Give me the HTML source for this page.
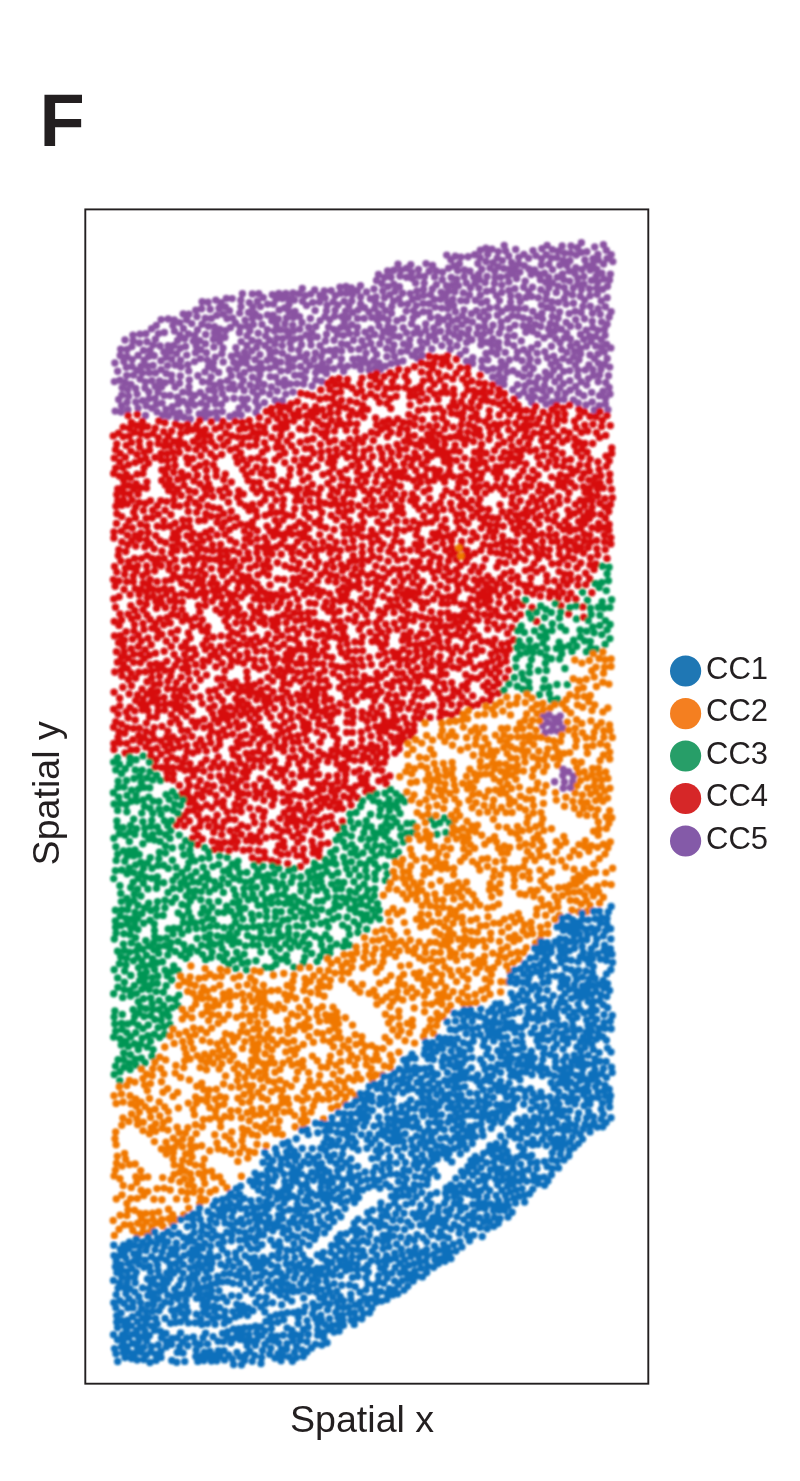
<!DOCTYPE html>
<html><head><meta charset="utf-8"><style>
html,body{margin:0;padding:0;background:#fff;}
svg{display:block;}
text{font-family:"Liberation Sans",Arial,sans-serif;fill:#231f20;}
</style></head><body>
<svg width="800" height="1481" viewBox="0 0 800 1481">
<defs><filter id="bl" x="-5%" y="-5%" width="110%" height="110%"><feGaussianBlur stdDeviation="0.95"/></filter></defs>
<rect width="800" height="1481" fill="#fff"/>
<text x="39.4" y="145.6" font-size="74" font-weight="bold">F</text>
<g fill="none" stroke-linecap="round" stroke-width="7.4" filter="url(#bl)"><path d="M563.1 769.3h0M554.6 781.7h0M562.8 775.5h0M568.6 771.7h0M572.6 781.8h0M542.8 725.7h0M563.2 788.3h0M545.1 732.6h0M570.5 787.6h0M564.4 782.0h0M551.0 730.8h0M547.6 722.4h0M573.4 776.1h0M553.1 725.0h0M557.3 731.1h0M562.5 727.9h0M549.1 715.0h0M543.4 716.6h0M554.4 718.4h0M560.2 715.9h0M559.3 722.7h0M256.0 412.5h0M241.1 415.0h0M282.4 400.6h0M258.2 406.5h0M264.4 402.6h0M293.0 392.0h0M217.1 418.0h0M247.7 408.9h0M285.8 394.1h0M284.4 386.0h0M239.2 408.1h0M518.6 395.3h0M243.9 404.6h0M235.2 414.2h0M531.6 402.2h0M255.7 401.4h0M369.1 369.9h0M385.3 366.1h0M368.4 363.7h0M534.4 396.6h0M275.2 400.2h0M312.1 386.0h0M380.5 369.3h0M277.2 391.0h0M546.1 404.0h0M241.8 399.0h0M244.1 390.5h0M229.8 416.4h0M531.9 390.4h0M247.4 399.0h0M315.7 379.9h0M234.0 398.3h0M541.2 399.5h0M221.5 404.3h0M234.6 389.6h0M269.7 394.3h0M305.0 378.5h0M542.9 391.1h0M552.2 401.9h0M210.0 413.6h0M378.9 362.9h0M375.2 367.6h0M537.4 388.7h0M535.6 382.7h0M343.6 371.2h0M333.8 368.7h0M523.9 392.1h0M340.3 365.6h0M321.7 381.2h0M222.3 411.6h0M326.4 373.5h0M205.2 417.3h0M278.4 382.7h0M528.7 397.3h0M544.5 385.5h0M347.6 366.1h0M294.7 375.2h0M517.5 384.7h0M546.2 396.2h0M373.6 360.5h0M376.7 354.4h0M557.8 400.1h0M270.2 376.6h0M512.8 389.8h0M466.4 361.1h0M386.9 356.6h0M487.5 370.2h0M364.4 359.0h0M296.9 383.6h0M271.4 386.9h0M550.4 390.2h0M303.6 384.0h0M391.2 363.6h0M284.7 379.9h0M257.1 395.7h0M215.5 404.0h0M503.9 384.4h0M225.9 399.1h0M288.0 370.5h0M321.8 370.3h0M315.7 372.7h0M327.2 367.9h0M529.4 382.1h0M360.9 369.5h0M252.8 391.6h0M222.4 393.7h0M280.9 370.9h0M215.3 398.0h0M530.0 374.6h0M199.3 413.9h0M305.9 370.9h0M524.9 385.7h0M523.3 376.6h0M482.0 367.4h0M472.6 363.4h0M354.7 365.5h0M341.4 358.9h0M280.7 362.0h0M487.8 359.9h0M538.2 377.5h0M559.9 388.0h0M209.7 399.6h0M190.2 418.9h0M481.9 360.5h0M300.6 366.5h0M243.3 380.4h0M533.2 368.5h0M554.9 381.8h0M352.9 359.1h0M397.5 362.5h0M214.4 391.4h0M221.3 387.9h0M306.0 360.7h0M290.2 384.0h0M244.4 372.5h0M518.1 374.0h0M215.9 412.2h0M300.3 375.1h0M206.7 405.4h0M563.9 399.2h0M275.8 377.1h0M492.7 376.9h0M208.8 389.9h0M402.9 360.9h0M504.1 378.4h0M194.6 405.0h0M257.2 386.7h0M557.3 393.9h0M252.4 377.3h0M316.9 366.9h0M269.6 368.3h0M188.8 411.1h0M260.0 374.8h0M366.0 353.1h0M145.5 415.4h0M537.8 361.2h0M267.3 360.2h0M214.3 385.1h0M351.1 349.6h0M563.3 383.4h0M262.5 391.8h0M358.6 358.7h0M547.2 357.7h0M329.3 360.9h0M361.4 363.7h0M293.1 366.7h0M294.2 359.2h0M373.7 349.6h0M300.1 356.6h0M264.0 384.4h0M565.4 393.3h0M524.8 368.7h0M146.2 405.7h0M162.8 415.2h0M341.6 351.0h0M529.0 364.6h0M417.3 358.1h0M507.0 372.3h0M493.1 368.7h0M260.5 363.2h0M334.5 355.4h0M157.1 411.9h0M460.1 354.6h0M162.1 403.1h0M528.1 353.5h0M204.7 396.8h0M537.1 353.1h0M379.7 343.9h0M187.7 404.8h0M400.9 351.9h0M551.2 364.2h0M321.2 356.6h0M184.0 417.2h0M499.0 374.7h0M165.9 409.5h0M250.1 385.0h0M200.3 392.5h0M335.8 349.7h0M559.3 366.2h0M393.9 344.9h0M329.7 350.4h0M553.7 356.1h0M341.6 343.8h0M545.5 372.2h0M412.3 355.4h0M168.5 416.0h0M138.1 408.1h0M530.1 358.9h0M562.9 358.6h0M155.2 398.5h0M201.3 403.1h0M275.4 366.3h0M358.9 349.2h0M586.0 405.0h0M220.4 382.3h0M407.2 350.7h0M250.4 368.8h0M172.3 406.7h0M486.0 353.4h0M392.7 350.6h0M343.3 335.5h0M233.0 384.2h0M194.8 395.5h0M496.9 354.3h0M465.6 350.5h0M179.5 412.6h0M282.4 353.3h0M480.9 344.9h0M258.4 380.3h0M127.9 409.8h0M288.2 363.2h0M394.5 356.4h0M313.9 359.5h0M551.5 346.2h0M498.6 348.2h0M594.2 410.0h0M142.6 400.6h0M409.6 345.6h0M498.4 381.9h0M334.1 340.2h0M229.0 388.5h0M559.5 377.2h0M522.1 360.7h0M370.9 343.5h0M151.8 408.1h0M505.3 352.4h0M361.8 340.8h0M259.9 354.6h0M531.4 347.9h0M573.4 399.9h0M164.2 395.4h0M545.5 379.3h0M501.3 361.5h0M399.6 336.8h0M500.2 368.5h0M135.8 402.0h0M262.6 368.6h0M556.1 361.3h0M466.6 342.4h0M421.8 348.3h0M137.1 394.1h0M127.1 402.2h0M256.7 347.2h0M487.0 342.2h0M555.8 338.7h0M570.3 390.0h0M386.7 348.5h0M491.7 351.8h0M472.8 357.8h0M170.2 395.5h0M403.5 343.9h0M450.3 349.2h0M374.7 334.5h0M189.3 393.0h0M406.4 332.8h0M288.0 357.2h0M550.7 375.2h0M189.0 386.9h0M349.5 333.6h0M246.2 363.3h0M183.2 401.1h0M523.6 349.7h0M320.0 345.6h0M553.7 370.2h0M416.3 351.0h0M256.7 368.5h0M365.0 332.1h0M322.3 363.2h0M357.4 327.3h0M282.2 345.6h0M227.3 380.6h0M561.6 349.6h0M265.0 345.5h0M483.9 333.7h0M239.7 375.8h0M255.0 359.8h0M544.8 351.7h0M356.8 333.4h0M381.9 337.2h0M477.0 333.6h0M521.3 340.9h0M357.5 318.4h0M368.8 337.2h0M177.4 397.3h0M509.3 360.0h0M537.7 344.3h0M431.9 348.9h0M175.1 387.0h0M388.7 340.9h0M274.5 360.3h0M197.9 375.8h0M420.4 341.2h0M149.1 398.8h0M240.9 385.7h0M569.9 380.7h0M209.1 382.3h0M492.1 345.1h0M563.7 371.4h0M291.2 348.9h0M270.4 354.8h0M148.9 392.0h0M188.7 370.9h0M569.8 370.6h0M441.8 345.6h0M128.6 396.3h0M599.3 405.6h0M517.5 352.0h0M315.4 352.9h0M371.0 329.3h0M231.4 375.8h0M202.5 381.8h0M513.8 345.6h0M275.6 351.6h0M236.7 368.7h0M241.6 358.2h0M189.3 380.0h0M205.0 410.9h0M364.2 318.4h0M549.9 334.7h0M449.7 342.2h0M583.8 395.8h0M352.7 312.4h0M265.7 335.9h0M575.7 386.5h0M498.6 342.5h0M351.8 324.7h0M161.6 387.1h0M323.5 351.3h0M165.1 382.7h0M309.9 365.5h0M274.9 344.0h0M592.2 402.0h0M457.0 345.7h0M505.5 365.5h0M239.6 363.5h0M514.3 335.7h0M544.1 337.9h0M393.9 328.5h0M121.6 405.7h0M560.1 342.8h0M344.3 322.8h0M353.5 340.3h0M290.2 343.3h0M459.4 338.3h0M205.0 371.9h0M251.8 350.9h0M561.4 329.2h0M121.9 394.9h0M258.8 341.9h0M246.9 345.4h0M426.9 342.8h0M537.7 334.4h0M525.8 332.3h0M145.0 388.0h0M578.6 392.8h0M182.8 392.1h0M269.5 340.3h0M211.2 376.9h0M554.7 331.3h0M345.6 311.1h0M127.8 389.6h0M471.8 339.7h0M540.8 326.4h0M252.1 340.5h0M145.4 382.0h0M229.6 369.7h0M340.7 327.6h0M258.2 333.3h0M347.4 328.2h0M445.2 337.9h0M435.6 340.3h0M348.2 317.5h0M389.0 333.0h0M507.5 343.0h0M223.2 361.9h0M247.8 356.8h0M535.5 324.5h0M156.4 404.3h0M233.8 362.2h0M371.9 317.4h0M253.4 324.6h0M276.8 338.3h0M383.5 331.4h0M269.2 349.3h0M388.0 326.4h0M379.1 326.1h0M429.0 336.5h0M155.1 386.3h0M237.2 354.3h0M358.0 310.1h0M509.4 328.7h0M499.3 333.2h0M282.7 338.4h0M231.5 356.2h0M286.7 330.7h0M569.2 361.1h0M262.0 324.4h0M550.4 323.4h0M575.4 365.0h0M274.4 331.0h0M585.3 369.9h0M492.7 338.8h0M396.8 320.8h0M180.9 367.1h0M218.7 372.4h0M420.4 333.7h0M259.7 316.9h0M347.3 344.8h0M292.7 325.2h0M179.5 383.2h0M411.6 323.9h0M529.8 319.4h0M121.1 412.0h0M523.3 318.0h0M360.6 303.9h0M171.7 381.1h0M566.9 352.6h0M570.5 346.0h0M247.1 335.8h0M516.6 358.0h0M176.8 418.1h0M249.9 330.8h0M244.5 352.1h0M301.5 344.7h0M409.8 339.6h0M187.8 364.6h0M548.5 328.8h0M403.2 327.7h0M255.2 313.6h0M388.2 319.9h0M180.6 360.3h0M135.7 388.4h0M385.3 310.5h0M579.0 359.7h0M122.1 387.6h0M507.5 336.5h0M578.2 403.0h0M267.4 329.6h0M422.2 355.4h0M577.7 376.0h0M413.9 333.2h0M180.3 376.0h0M151.9 380.8h0M241.2 341.6h0M574.6 351.3h0M448.7 331.7h0M607.9 409.8h0M149.3 372.7h0M532.7 331.3h0M448.4 325.6h0M555.9 325.0h0M186.7 355.1h0M484.5 326.7h0M501.4 327.6h0M158.0 392.2h0M588.4 378.6h0M125.2 382.5h0M425.7 324.0h0M341.7 316.7h0M335.1 310.3h0M175.1 365.1h0M558.0 318.3h0M364.3 345.9h0M114.4 381.6h0M513.0 370.8h0M417.3 328.2h0M434.4 334.3h0M240.3 327.2h0M592.9 369.7h0M515.0 325.1h0M284.9 323.8h0M382.0 305.2h0M566.7 333.1h0M566.2 322.5h0M298.8 350.2h0M311.0 345.1h0M271.8 320.8h0M167.6 365.6h0M484.7 320.6h0M351.8 301.0h0M245.1 320.2h0M490.3 331.2h0M377.5 320.3h0M306.2 335.0h0M378.3 313.4h0M493.0 325.2h0M246.7 325.9h0M208.5 366.6h0M393.9 336.0h0M213.6 369.0h0M542.5 319.1h0M280.5 329.9h0M479.7 316.6h0M239.4 332.8h0M276.6 325.2h0M532.8 311.4h0M369.0 312.0h0M552.3 316.5h0M267.5 314.9h0M130.9 384.4h0M306.7 354.1h0M525.4 308.4h0M299.8 329.3h0M171.5 375.3h0M337.9 305.0h0M115.2 411.1h0M166.2 373.4h0M126.7 375.4h0M454.1 334.7h0M286.5 317.9h0M468.7 329.2h0M573.5 357.1h0M425.8 330.2h0M440.5 331.3h0M317.2 336.9h0M559.6 311.9h0M140.1 379.0h0M501.2 321.9h0M288.4 336.3h0M478.4 327.0h0M155.5 372.9h0M161.1 369.6h0M260.4 306.6h0M472.4 322.0h0M278.3 318.9h0M293.4 331.0h0M384.4 297.8h0M221.9 353.7h0M523.2 325.8h0M252.4 318.5h0M248.6 312.5h0M294.3 339.0h0M364.6 307.8h0M273.1 315.2h0M569.1 313.6h0M302.0 322.4h0M118.7 399.5h0M308.7 327.2h0M507.7 319.3h0M325.4 341.0h0M249.3 302.6h0M438.3 323.1h0M213.4 362.7h0M235.9 347.7h0M430.6 317.6h0M213.9 346.9h0M488.2 316.2h0M312.0 332.6h0M566.1 304.1h0M402.9 318.4h0M413.1 317.9h0M605.4 403.9h0M299.6 316.6h0M300.5 338.3h0M293.3 317.5h0M391.5 313.3h0M171.8 359.1h0M310.5 339.3h0M252.8 307.0h0M467.5 335.0h0M360.6 296.9h0M581.2 381.7h0M178.1 404.0h0M326.5 334.2h0M133.5 375.1h0M315.9 326.5h0M142.4 373.0h0M215.3 357.1h0M413.5 310.6h0M374.7 308.5h0M257.4 301.2h0M207.4 360.1h0M501.9 311.5h0M566.4 293.1h0M289.0 311.5h0M239.7 313.1h0M433.7 328.0h0M241.0 306.7h0M147.5 366.3h0M232.7 318.1h0M141.1 366.3h0M267.6 304.1h0M279.1 309.9h0M552.5 309.0h0M295.1 311.5h0M599.5 395.8h0M462.1 324.6h0M310.4 318.5h0M481.2 339.2h0M542.0 313.1h0M229.5 310.7h0M370.4 298.7h0M570.5 326.3h0M206.4 352.7h0M517.9 316.1h0M205.4 343.7h0M591.7 392.4h0M575.7 319.6h0M333.9 329.4h0M153.1 365.4h0M576.9 343.4h0M119.9 380.2h0M391.8 306.4h0M161.0 360.8h0M191.3 400.3h0M284.6 308.0h0M235.5 323.0h0M461.4 332.9h0M383.1 317.6h0M194.6 361.6h0M603.1 391.2h0M288.4 298.8h0M497.4 315.2h0M407.7 304.0h0M176.7 353.6h0M185.6 346.5h0M593.4 375.5h0M315.1 310.4h0M344.2 301.2h0M352.6 294.5h0M282.4 298.5h0M584.5 318.7h0M589.0 364.9h0M452.0 321.1h0M132.1 366.5h0M329.9 319.7h0M223.0 348.0h0M375.5 302.7h0M573.5 303.3h0M159.6 380.9h0M376.0 296.9h0M586.7 385.1h0M580.6 354.0h0M512.2 315.6h0M200.6 349.7h0M423.3 311.8h0M335.3 295.8h0M429.2 312.1h0M455.9 328.0h0M219.8 341.8h0M177.6 340.4h0M213.3 339.2h0M312.7 302.4h0M154.2 355.7h0M348.9 306.1h0M144.1 360.2h0M528.8 326.3h0M610.0 394.0h0M462.3 316.0h0M132.2 359.6h0M273.6 304.1h0M497.0 307.1h0M328.6 327.0h0M173.0 412.4h0M575.2 311.2h0M136.8 370.5h0M366.5 292.0h0M214.2 332.7h0M127.0 356.5h0M416.2 305.6h0M346.3 293.3h0M170.6 351.4h0M590.0 355.0h0M199.8 340.6h0M225.0 337.3h0M406.2 311.1h0M230.5 327.5h0M558.3 302.4h0M219.5 335.9h0M417.5 314.5h0M180.3 348.3h0M227.0 318.5h0M438.0 317.2h0M138.1 355.4h0M263.3 297.6h0M163.9 352.0h0M289.0 304.5h0M126.3 367.3h0M598.2 381.7h0M564.3 298.5h0M131.9 346.6h0M333.2 301.9h0M252.3 293.9h0M412.4 299.2h0M320.1 320.6h0M448.6 316.5h0M541.3 305.1h0M598.4 363.1h0M586.5 346.3h0M205.7 334.5h0M168.1 345.7h0M193.3 341.1h0M393.5 301.0h0M117.7 371.3h0M582.9 306.5h0M525.9 297.4h0M580.3 296.2h0M572.5 294.9h0M153.0 345.1h0M194.8 335.5h0M166.2 357.3h0M457.5 319.5h0M581.2 312.5h0M441.7 308.1h0M489.6 308.0h0M272.3 294.8h0M607.2 358.5h0M196.2 345.9h0M440.6 299.2h0M293.0 293.0h0M160.1 346.0h0M114.9 363.0h0M195.4 352.8h0M294.4 300.0h0M435.1 307.1h0M232.2 298.6h0M139.4 343.0h0M302.4 301.3h0M327.0 305.3h0M214.5 326.7h0M299.1 293.7h0M240.8 300.3h0M120.2 355.5h0M441.1 292.1h0M523.7 287.2h0M546.9 307.4h0M417.8 297.4h0M306.5 305.5h0M578.4 326.3h0M429.1 303.8h0M580.5 334.4h0M443.6 319.7h0M225.6 330.5h0M278.8 293.5h0M123.8 361.4h0M382.8 291.0h0M242.4 293.8h0M583.7 339.2h0M400.9 303.9h0M609.1 387.5h0M430.5 294.7h0M319.5 302.1h0M455.4 311.8h0M551.9 301.7h0M486.7 301.2h0M155.4 339.3h0M120.7 349.1h0M197.5 330.0h0M202.0 324.2h0M538.4 297.7h0M132.9 335.1h0M586.2 330.2h0M389.9 294.8h0M143.5 350.4h0M564.3 287.6h0M200.5 358.6h0M447.7 302.3h0M184.7 338.8h0M183.4 328.4h0M507.3 308.4h0M258.8 293.6h0M499.5 300.6h0M598.0 353.9h0M466.8 320.5h0M148.4 356.6h0M592.2 321.2h0M125.0 340.0h0M285.8 293.4h0M434.4 299.5h0M510.6 302.1h0M423.1 303.5h0M589.6 335.9h0M191.8 323.6h0M599.5 375.0h0M436.3 284.7h0M208.4 326.3h0M219.8 329.2h0M423.6 295.5h0M604.3 351.8h0M174.5 331.1h0M337.5 334.3h0M445.5 296.2h0M537.1 316.4h0M150.0 350.4h0M145.9 333.8h0M595.7 345.9h0M452.8 299.3h0M606.5 344.3h0M609.7 367.1h0M225.4 306.7h0M398.9 298.6h0M219.0 308.2h0M211.3 318.4h0M454.8 291.7h0M460.7 300.6h0M310.8 294.1h0M601.0 369.3h0M608.5 375.7h0M226.3 298.4h0M446.4 285.7h0M464.0 309.9h0M196.9 316.6h0M518.7 308.7h0M531.6 296.4h0M147.0 341.7h0M601.2 347.1h0M223.1 314.1h0M483.9 311.2h0M360.5 285.7h0M605.8 382.8h0M578.0 370.3h0M302.3 288.4h0M595.7 336.4h0M514.9 288.7h0M158.5 333.6h0M471.4 313.7h0M188.5 334.0h0M179.8 322.6h0M570.3 339.0h0M447.8 308.7h0M605.6 398.2h0M180.0 335.1h0M210.2 309.2h0M432.4 288.9h0M164.4 332.5h0M592.8 327.6h0M216.7 315.4h0M448.3 291.3h0M451.2 277.5h0M564.1 338.1h0M346.0 286.5h0M326.4 310.9h0M594.5 358.6h0M423.5 289.3h0M476.4 310.6h0M516.6 278.5h0M481.3 302.9h0M601.2 339.7h0M220.9 302.7h0M205.3 318.2h0M351.4 287.9h0M601.6 321.9h0M395.1 291.2h0M545.9 299.2h0M183.2 314.0h0M480.3 295.3h0M416.9 290.9h0M388.1 286.6h0M314.7 290.0h0M556.3 292.4h0M195.8 310.2h0M609.1 317.0h0M591.1 341.4h0M453.6 305.4h0M610.8 347.9h0M597.9 330.3h0M518.4 296.1h0M188.9 314.3h0M548.9 287.7h0M324.3 291.0h0M384.4 277.4h0M374.0 289.0h0M305.2 295.8h0M510.8 295.9h0M215.8 300.1h0M486.6 291.3h0M140.0 334.1h0M475.4 300.2h0M442.5 272.3h0M276.1 299.0h0M173.9 345.5h0M558.1 286.1h0M528.7 291.6h0M513.3 274.0h0M151.6 328.7h0M325.1 297.9h0M410.2 293.6h0M334.5 316.2h0M452.4 285.0h0M501.7 292.5h0M319.9 295.5h0M466.4 300.8h0M611.1 311.7h0M201.6 308.7h0M573.3 287.9h0M436.3 270.9h0M520.2 301.6h0M456.7 279.2h0M448.6 268.2h0M402.6 293.3h0M172.9 325.5h0M501.8 285.0h0M540.9 289.8h0M508.9 290.4h0M485.2 282.6h0M357.4 290.5h0M584.6 300.0h0M186.7 319.7h0M604.4 329.2h0M463.3 292.9h0M450.9 259.8h0M324.9 316.6h0M508.9 281.9h0M458.5 285.7h0M532.5 287.3h0M424.2 283.1h0M133.1 340.8h0M590.3 306.2h0M545.7 282.2h0M592.4 313.3h0M469.5 294.9h0M399.4 286.8h0M381.9 283.5h0M552.5 282.9h0M540.4 279.7h0M391.0 277.3h0M331.2 290.8h0M393.8 284.3h0M581.5 289.4h0M442.3 279.7h0M557.3 277.3h0M415.6 283.1h0M513.1 308.5h0M500.7 277.2h0M174.3 319.9h0M604.6 364.2h0M424.6 276.4h0M466.3 282.9h0M418.9 275.9h0M503.7 268.5h0M479.0 288.1h0M470.6 287.7h0M563.8 279.7h0M605.1 335.2h0M525.2 281.2h0M340.5 293.3h0M464.1 276.7h0M429.1 271.3h0M607.1 324.3h0M432.6 265.4h0M457.7 270.6h0M600.2 314.3h0M562.5 273.9h0M434.6 276.9h0M168.2 319.0h0M461.0 257.1h0M339.9 287.1h0M494.4 283.5h0M498.0 266.7h0M400.0 276.0h0M544.5 273.2h0M418.5 269.4h0M412.3 278.4h0M376.5 280.5h0M590.0 295.7h0M127.0 349.5h0M589.5 288.8h0M411.6 272.3h0M474.9 283.1h0M208.1 302.2h0M598.1 308.7h0M548.8 277.4h0M597.2 294.2h0M393.7 270.2h0M601.2 300.9h0M577.9 284.2h0M538.4 274.2h0M468.1 256.8h0M387.6 271.0h0M487.0 276.4h0M583.9 283.9h0M577.7 278.3h0M454.1 266.0h0M426.0 263.6h0M479.4 279.7h0M531.2 274.6h0M552.5 269.6h0M559.7 265.2h0M470.0 271.3h0M497.2 258.1h0M400.8 270.3h0M410.8 264.8h0M481.8 269.2h0M569.7 281.1h0M496.4 295.6h0M582.1 269.4h0M494.8 271.3h0M464.5 269.9h0M492.8 290.4h0M569.3 271.1h0M490.0 268.1h0M156.3 325.5h0M583.9 276.4h0M473.7 277.1h0M519.9 272.1h0M546.5 293.5h0M566.9 265.5h0M541.4 265.0h0M495.0 277.5h0M398.0 264.2h0M597.8 282.2h0M509.4 269.3h0M406.6 277.2h0M607.1 297.8h0M548.8 264.3h0M524.3 265.6h0M459.3 263.7h0M605.4 306.7h0M596.2 276.2h0M569.9 260.7h0M511.6 262.4h0M601.8 273.2h0M161.1 319.6h0M584.9 260.0h0M602.7 289.3h0M534.6 269.9h0M575.8 267.7h0M591.4 280.4h0M486.0 261.5h0M518.8 264.0h0M446.7 255.1h0M603.8 279.0h0M576.2 255.1h0M570.6 253.1h0M487.7 254.2h0M592.9 264.5h0M528.6 258.3h0M574.9 273.4h0M502.4 260.6h0M478.7 274.2h0M586.9 251.7h0M594.7 247.0h0M406.3 268.4h0M596.7 287.9h0M610.4 274.1h0M477.9 263.5h0M563.3 260.5h0M474.7 254.8h0M202.1 301.7h0M580.6 348.4h0M597.9 254.4h0M508.7 256.0h0M557.1 257.6h0M590.2 270.0h0M564.5 253.2h0M552.4 249.7h0M607.5 286.3h0M606.3 250.3h0M455.3 256.2h0M551.3 258.0h0M607.0 258.6h0M378.5 274.5h0M493.1 262.8h0M518.7 257.5h0M577.4 247.8h0M586.6 265.4h0M505.7 251.0h0M596.7 269.3h0M515.7 249.4h0M533.0 250.6h0M547.1 245.4h0M562.1 246.0h0M603.6 264.0h0M515.0 268.5h0M480.3 250.3h0M603.4 244.7h0M541.6 258.8h0M498.3 251.6h0M492.0 249.1h0M504.2 245.5h0M546.2 254.8h0M611.2 254.6h0M571.0 246.0h0M612.8 261.6h0M598.4 260.1h0M541.9 248.7h0M581.4 242.8h0M528.9 269.0h0M609.5 280.0h0M480.1 257.6h0M507.6 276.0h0M593.0 258.8h0M558.3 251.3h0M523.9 254.4h0M535.9 255.6h0M581.3 252.4h0M485.9 248.2h0" stroke="#8a52a2"/><path d="M357.2 797.5h0M353.0 793.3h0M351.0 805.1h0M367.0 786.1h0M342.6 808.6h0M339.5 802.9h0M342.4 821.3h0M365.8 791.6h0M360.8 777.5h0M355.6 786.2h0M372.6 789.7h0M336.3 809.0h0M367.5 774.3h0M343.8 796.3h0M381.8 770.6h0M343.9 786.1h0M329.4 806.2h0M349.1 788.8h0M332.6 824.1h0M331.1 816.7h0M345.7 774.5h0M386.1 783.8h0M338.0 789.5h0M375.3 769.6h0M371.3 762.5h0M354.5 772.1h0M349.5 798.5h0M384.5 778.3h0M337.1 828.5h0M327.1 826.2h0M360.0 769.9h0M319.7 820.7h0M365.8 780.3h0M325.3 817.8h0M361.3 783.8h0M335.3 796.3h0M337.6 781.8h0M368.2 757.8h0M320.5 807.7h0M316.3 811.5h0M328.0 843.1h0M354.5 760.3h0M327.1 798.0h0M346.8 768.4h0M345.2 780.4h0M337.1 775.4h0M331.6 785.2h0M320.7 834.9h0M361.8 760.4h0M363.3 755.0h0M372.9 751.6h0M389.8 775.9h0M361.3 746.9h0M341.1 768.7h0M316.7 801.4h0M344.0 763.4h0M312.0 841.1h0M333.2 801.9h0M378.8 780.9h0M384.2 762.4h0M351.5 743.3h0M356.0 752.0h0M315.3 832.3h0M309.9 824.1h0M319.4 827.6h0M323.3 789.2h0M321.1 844.2h0M305.3 815.8h0M328.4 776.2h0M331.5 791.3h0M378.6 763.6h0M304.8 830.1h0M313.0 819.0h0M302.4 838.4h0M336.9 763.9h0M361.8 739.5h0M380.4 752.6h0M324.3 803.1h0M376.4 757.3h0M377.3 747.0h0M309.7 805.3h0M371.0 736.1h0M304.3 821.9h0M386.3 756.3h0M298.1 820.5h0M298.4 833.4h0M313.1 846.8h0M296.6 826.4h0M371.3 744.8h0M325.1 782.5h0M335.7 757.5h0M292.8 836.6h0M318.6 784.8h0M297.8 842.3h0M380.1 738.5h0M321.3 798.2h0M283.6 841.4h0M311.8 794.1h0M366.4 749.3h0M306.9 797.2h0M303.5 848.9h0M375.7 726.4h0M338.2 751.7h0M318.7 774.4h0M319.0 856.3h0M294.1 849.3h0M286.8 824.0h0M385.4 743.7h0M313.2 852.9h0M282.5 831.1h0M312.3 782.6h0M319.1 850.3h0M293.5 815.8h0M349.5 753.0h0M312.1 776.3h0M393.9 742.3h0M316.0 766.9h0M394.9 753.1h0M306.0 860.8h0M300.5 866.4h0M302.4 855.6h0M288.6 831.0h0M296.8 855.6h0M361.2 732.2h0M277.3 827.7h0M298.9 804.6h0M289.1 809.2h0M287.8 818.2h0M284.2 847.2h0M327.7 761.8h0M379.3 732.1h0M301.2 809.9h0M345.6 748.2h0M385.4 749.8h0M399.2 749.0h0M368.1 728.8h0M280.0 818.6h0M318.5 760.1h0M300.2 796.2h0M367.1 721.2h0M272.1 823.3h0M306.4 790.4h0M317.9 791.7h0M318.7 751.4h0M292.5 821.4h0M398.1 737.1h0M284.2 812.7h0M352.4 732.4h0M346.6 732.5h0M374.3 718.5h0M300.4 776.5h0M404.1 739.4h0M290.1 801.9h0M292.1 774.4h0M309.6 811.7h0M331.9 750.5h0M273.2 836.3h0M311.8 746.4h0M381.9 726.0h0M306.6 740.2h0M284.9 781.4h0M285.5 769.5h0M384.5 720.7h0M263.4 824.9h0M281.2 854.6h0M272.2 805.2h0M254.7 822.7h0M343.7 754.3h0M410.9 735.8h0M337.0 744.9h0M385.5 731.7h0M390.9 736.5h0M282.0 774.8h0M337.8 739.1h0M294.9 809.3h0M274.2 799.1h0M276.6 777.3h0M394.0 727.1h0M397.0 720.5h0M263.1 817.3h0M391.8 703.7h0M283.5 801.8h0M288.1 854.1h0M294.1 794.7h0M320.2 742.3h0M264.4 811.8h0M279.1 836.6h0M260.6 831.2h0M287.7 863.6h0M293.5 783.3h0M311.2 770.8h0M323.5 754.7h0M376.8 713.0h0M391.4 721.4h0M288.9 787.8h0M388.2 726.5h0M407.5 730.5h0M304.7 733.2h0M278.8 845.5h0M276.5 851.3h0M265.9 837.8h0M310.6 756.5h0M259.6 842.0h0M258.7 809.3h0M362.0 718.0h0M252.9 816.3h0M362.1 711.9h0M323.1 736.1h0M413.9 725.0h0M402.8 733.6h0M271.8 860.6h0M303.6 760.1h0M330.2 729.3h0M274.6 767.1h0M301.6 769.8h0M282.3 793.1h0M288.4 764.2h0M305.5 754.1h0M269.4 794.6h0M266.9 782.0h0M263.8 800.3h0M353.3 717.1h0M406.8 723.6h0M404.1 717.8h0M298.7 742.0h0M396.1 695.7h0M306.1 775.1h0M250.6 835.5h0M270.8 773.0h0M295.4 757.3h0M288.3 796.3h0M301.5 749.3h0M329.6 756.2h0M277.8 862.1h0M402.4 687.7h0M297.9 735.6h0M346.7 722.3h0M371.9 707.8h0M347.5 714.2h0M352.8 710.9h0M312.2 762.6h0M289.4 757.9h0M270.3 787.5h0M348.8 758.8h0M252.3 841.3h0M352.5 723.0h0M399.5 743.2h0M283.7 751.2h0M258.1 850.8h0M394.0 715.5h0M241.3 834.5h0M430.0 717.4h0M414.5 718.0h0M246.4 840.5h0M241.1 811.8h0M274.9 792.9h0M292.8 749.7h0M292.9 742.1h0M290.7 736.4h0M381.2 707.0h0M316.8 732.1h0M309.1 729.4h0M279.9 769.5h0M369.1 714.1h0M268.0 761.3h0M413.9 731.0h0M269.7 746.2h0M249.8 849.8h0M264.5 754.9h0M356.0 700.8h0M278.1 747.5h0M298.8 763.8h0M265.0 857.9h0M403.6 693.2h0M284.6 745.0h0M284.8 739.3h0M333.5 735.3h0M352.2 694.8h0M422.8 712.8h0M382.7 714.9h0M318.5 724.2h0M258.8 751.5h0M264.3 851.9h0M234.3 836.5h0M261.1 793.3h0M330.7 721.5h0M408.7 708.6h0M346.9 705.7h0M249.8 808.1h0M402.4 703.3h0M409.6 687.9h0M337.9 711.9h0M243.4 850.2h0M363.0 696.4h0M247.8 827.1h0M393.5 709.8h0M399.4 728.8h0M256.9 837.0h0M258.7 860.2h0M400.0 709.1h0M397.0 701.7h0M386.7 699.8h0M282.6 732.1h0M264.7 787.3h0M332.4 714.7h0M253.2 766.4h0M374.5 700.7h0M333.0 707.0h0M252.3 857.8h0M326.5 708.8h0M335.9 728.9h0M237.3 841.6h0M254.7 759.8h0M293.6 726.4h0M376.7 695.4h0M275.5 741.3h0M269.6 751.8h0M269.1 737.8h0M261.5 766.9h0M259.3 744.4h0M312.5 716.5h0M235.8 848.1h0M419.2 705.7h0M381.2 691.8h0M234.8 819.6h0M228.9 819.0h0M227.1 811.9h0M416.2 711.1h0M418.1 681.4h0M263.8 740.0h0M440.0 717.6h0M222.2 827.6h0M241.5 825.1h0M446.1 713.6h0M410.3 682.2h0M426.9 706.4h0M412.1 702.2h0M371.2 689.5h0M288.7 729.5h0M414.9 695.8h0M228.9 850.5h0M392.0 687.5h0M221.7 834.8h0M393.5 681.2h0M422.1 696.5h0M255.9 791.1h0M440.7 711.2h0M231.2 842.5h0M260.3 778.9h0M417.3 689.4h0M264.2 732.8h0M303.3 726.8h0M260.5 760.2h0M298.5 716.4h0M246.2 753.4h0M305.4 712.0h0M252.9 752.6h0M291.1 719.1h0M235.1 804.2h0M246.5 785.9h0M284.6 722.4h0M245.4 765.8h0M346.5 698.1h0M230.1 830.8h0M369.7 695.3h0M280.7 716.0h0M399.6 680.7h0M402.6 673.1h0M260.5 727.4h0M422.9 688.8h0M388.8 694.6h0M340.1 703.7h0M253.1 738.2h0M377.4 686.2h0M365.6 691.1h0M420.4 718.3h0M259.1 718.1h0M255.6 797.7h0M302.9 721.0h0M442.3 705.0h0M249.8 743.6h0M291.0 713.1h0M237.1 829.4h0M324.2 725.5h0M258.5 733.2h0M249.0 758.9h0M360.9 686.9h0M308.4 723.8h0M415.1 676.3h0M267.3 712.6h0M381.0 677.0h0M370.0 679.5h0M213.7 832.3h0M411.4 671.4h0M396.8 673.2h0M433.1 705.3h0M223.2 806.7h0M212.4 841.3h0M221.0 848.7h0M426.9 692.9h0M413.5 660.6h0M277.8 735.0h0M274.7 760.7h0M339.5 687.8h0M451.7 715.0h0M318.8 718.6h0M254.5 785.3h0M326.7 715.8h0M274.5 725.0h0M274.6 708.4h0M248.4 771.2h0M236.9 784.2h0M385.7 673.4h0M244.2 801.5h0M399.0 665.3h0M310.1 705.4h0M285.2 710.0h0M248.6 794.1h0M238.4 757.4h0M433.0 677.4h0M321.5 711.6h0M237.7 747.6h0M202.4 839.0h0M239.8 763.0h0M246.0 734.8h0M349.4 687.9h0M355.6 689.0h0M246.5 777.6h0M242.9 772.5h0M218.1 843.0h0M240.9 780.2h0M224.0 821.7h0M223.3 800.9h0M270.8 717.5h0M324.2 701.5h0M457.7 711.5h0M197.7 844.6h0M386.8 684.5h0M343.7 682.5h0M242.6 793.4h0M330.8 699.5h0M391.2 668.5h0M233.4 778.0h0M214.2 849.4h0M224.5 842.4h0M217.1 815.2h0M306.6 700.6h0M349.8 680.5h0M300.3 708.8h0M311.5 695.7h0M192.6 838.1h0M417.3 656.5h0M451.5 704.7h0M316.5 706.0h0M420.8 675.7h0M235.5 770.0h0M243.5 744.1h0M270.1 702.6h0M276.6 698.7h0M348.1 672.5h0M387.2 660.1h0M228.0 769.0h0M406.0 678.5h0M237.7 790.7h0M364.3 676.3h0M441.0 698.4h0M214.2 821.1h0M223.3 763.4h0M417.3 667.6h0M240.5 736.8h0M376.9 672.9h0M208.6 826.2h0M253.8 730.2h0M231.9 787.5h0M409.1 652.6h0M238.1 797.4h0M227.9 775.6h0M394.5 657.5h0M228.1 793.7h0M299.7 700.5h0M234.3 810.6h0M447.6 699.3h0M297.3 694.4h0M240.5 805.7h0M315.0 711.3h0M232.0 764.8h0M459.9 704.5h0M218.2 756.9h0M254.4 723.3h0M328.9 686.1h0M323.9 689.3h0M382.4 664.4h0M378.8 655.6h0M345.3 692.1h0M385.2 652.9h0M325.7 680.3h0M201.0 820.7h0M407.6 665.2h0M452.7 696.2h0M228.3 781.5h0M356.2 680.5h0M243.6 725.3h0M222.4 780.8h0M434.4 688.3h0M213.7 785.9h0M445.1 688.9h0M424.4 662.6h0M355.6 672.9h0M467.0 702.2h0M218.8 767.2h0M231.9 748.9h0M427.5 675.4h0M355.4 665.6h0M426.0 669.5h0M279.9 727.1h0M216.0 795.5h0M207.2 818.7h0M406.5 659.1h0M219.3 776.0h0M264.2 700.7h0M222.7 788.9h0M400.4 659.8h0M211.9 807.8h0M324.6 695.5h0M371.3 664.6h0M304.2 689.1h0M238.2 727.8h0M309.2 685.2h0M209.7 792.2h0M184.3 825.7h0M292.2 703.2h0M403.1 649.2h0M392.7 651.8h0M353.2 659.4h0M432.2 660.3h0M259.2 709.3h0M268.8 697.2h0M237.2 741.8h0M210.5 776.4h0M369.3 657.4h0M304.1 694.8h0M453.5 689.8h0M458.8 692.3h0M363.5 681.9h0M207.2 784.8h0M216.8 802.7h0M233.4 754.7h0M440.0 656.5h0M438.6 692.8h0M232.7 734.0h0M197.1 786.6h0M376.2 680.0h0M472.7 695.9h0M355.7 651.0h0M213.9 762.4h0M294.2 679.0h0M467.0 689.6h0M197.3 794.4h0M211.2 768.0h0M256.6 699.6h0M315.5 700.2h0M451.7 682.7h0M281.8 689.4h0M236.4 722.3h0M273.1 691.8h0M215.6 749.1h0M199.7 826.4h0M415.9 644.9h0M227.5 720.1h0M229.7 725.7h0M225.9 735.4h0M210.8 742.7h0M232.8 715.2h0M333.2 673.2h0M283.4 703.3h0M289.7 683.9h0M203.7 771.2h0M300.6 681.6h0M409.1 644.2h0M398.6 653.1h0M339.4 677.0h0M223.3 729.6h0M477.8 704.5h0M197.8 835.3h0M240.7 715.2h0M372.2 641.5h0M206.2 759.7h0M287.0 692.4h0M249.9 719.0h0M220.8 712.2h0M282.1 697.7h0M198.0 815.1h0M312.7 689.9h0M342.7 667.6h0M298.0 672.8h0M402.3 640.5h0M201.5 763.9h0M443.6 683.4h0M305.1 671.8h0M430.7 652.7h0M362.6 650.8h0M290.2 697.4h0M316.8 693.9h0M362.7 665.9h0M196.9 769.2h0M200.5 808.2h0M428.0 642.3h0M450.2 660.0h0M202.6 797.4h0M283.4 677.9h0M433.8 647.6h0M462.0 696.9h0M408.7 638.5h0M445.7 665.3h0M256.6 693.2h0M236.0 709.8h0M206.4 751.1h0M200.1 780.4h0M243.5 708.2h0M439.0 662.7h0M439.2 641.7h0M445.9 674.1h0M246.8 713.1h0M360.7 659.1h0M265.5 706.6h0M324.5 670.8h0M193.6 775.7h0M452.8 667.1h0M254.5 684.6h0M247.8 704.3h0M416.6 650.8h0M361.3 642.5h0M176.7 825.1h0M424.8 655.7h0M189.3 821.0h0M184.3 815.7h0M203.3 790.4h0M440.3 675.1h0M249.5 695.7h0M309.7 663.1h0M397.2 629.4h0M436.7 681.8h0M458.5 668.2h0M200.6 739.8h0M226.4 714.3h0M311.1 656.4h0M319.3 680.6h0M219.5 739.2h0M459.5 660.5h0M251.1 690.3h0M482.7 699.9h0M312.0 678.0h0M404.0 635.0h0M331.7 664.9h0M462.4 685.9h0M410.5 632.0h0M261.1 689.6h0M185.0 770.3h0M187.9 811.0h0M218.2 722.9h0M433.6 639.2h0M404.1 626.2h0M214.2 705.9h0M489.9 700.4h0M203.8 745.4h0M242.3 700.8h0M278.2 675.4h0M210.3 725.8h0M251.4 709.2h0M221.5 718.3h0M464.3 663.8h0M401.2 619.3h0M354.9 641.9h0M189.9 763.8h0M435.8 630.7h0M302.3 663.7h0M238.9 692.5h0M426.6 634.3h0M421.7 644.2h0M348.7 666.0h0M386.4 637.4h0M210.5 698.8h0M465.8 674.7h0M469.9 661.9h0M222.5 700.4h0M381.7 647.8h0M378.7 642.5h0M385.7 643.9h0M487.6 690.8h0M440.6 669.3h0M471.7 706.1h0M381.5 632.5h0M180.2 819.6h0M218.3 696.4h0M370.0 632.2h0M441.2 647.8h0M198.1 750.8h0M267.5 687.6h0M230.2 707.0h0M212.5 713.6h0M394.3 623.2h0M291.8 670.7h0M301.2 658.1h0M346.5 657.3h0M413.5 620.7h0M296.5 663.8h0M192.0 736.4h0M209.4 736.8h0M431.1 666.0h0M280.1 669.1h0M209.2 708.5h0M341.5 652.8h0M388.9 630.6h0M498.3 693.2h0M452.5 653.3h0M273.7 663.5h0M423.0 625.7h0M461.3 651.6h0M416.8 637.1h0M448.4 648.5h0M187.8 730.7h0M323.0 663.8h0M221.4 685.9h0M235.8 698.8h0M385.7 624.2h0M467.5 682.6h0M216.3 826.8h0M415.2 615.2h0M406.7 620.2h0M469.5 655.9h0M475.7 654.0h0M394.0 612.6h0M224.2 707.6h0M332.1 657.4h0M285.1 672.2h0M214.2 718.9h0M255.2 713.5h0M194.3 829.2h0M284.4 660.4h0M204.1 719.4h0M420.9 633.2h0M318.0 688.0h0M311.3 669.8h0M215.3 690.0h0M438.2 636.0h0M292.3 654.4h0M432.6 626.0h0M377.7 628.3h0M317.5 655.6h0M273.3 671.0h0M187.8 779.9h0M202.2 703.6h0M192.9 753.0h0M219.6 744.8h0M186.7 745.5h0M247.3 678.0h0M218.1 733.2h0M319.1 674.3h0M475.8 647.6h0M260.5 681.6h0M326.1 656.2h0M487.8 682.5h0M433.8 619.0h0M447.9 641.5h0M185.0 757.5h0M182.9 762.9h0M203.9 727.6h0M290.4 660.2h0M191.0 769.9h0M177.8 740.7h0M474.3 668.0h0M316.6 663.4h0M466.0 647.5h0M195.8 804.9h0M227.7 691.5h0M189.6 785.4h0M422.5 608.3h0M277.2 658.1h0M173.0 767.6h0M265.1 667.1h0M305.6 677.6h0M187.2 790.7h0M179.4 785.4h0M439.6 626.4h0M268.1 677.4h0M189.3 802.7h0M487.0 663.1h0M407.9 613.9h0M179.7 767.8h0M233.3 688.4h0M424.4 649.3h0M206.5 804.9h0M362.6 636.6h0M192.3 697.5h0M195.5 727.1h0M173.3 773.9h0M200.0 696.8h0M286.3 654.3h0M259.4 669.1h0M193.7 798.7h0M262.5 695.2h0M209.0 691.2h0M184.1 737.7h0M313.5 650.2h0M348.8 651.3h0M193.6 810.2h0M376.2 636.5h0M440.0 620.6h0M247.6 684.5h0M188.2 706.8h0M196.1 744.6h0M402.8 610.1h0M322.8 650.8h0M177.2 759.5h0M186.3 715.9h0M307.8 650.0h0M241.0 686.8h0M359.3 629.4h0M483.5 686.1h0M315.3 644.8h0M481.3 641.3h0M167.0 778.6h0M296.0 649.9h0M456.3 647.3h0M493.6 686.7h0M445.8 632.3h0M472.7 637.8h0M173.2 748.8h0M173.2 780.1h0M421.3 616.9h0M181.5 712.0h0M235.9 682.0h0M495.6 678.2h0M339.7 647.0h0M440.5 613.2h0M238.2 704.6h0M271.1 652.7h0M340.3 639.8h0M254.5 666.2h0M176.7 701.8h0M324.0 641.9h0M449.3 618.4h0M491.6 694.9h0M471.7 677.8h0M302.2 649.6h0M194.8 687.0h0M498.6 683.5h0M200.2 679.7h0M198.1 721.9h0M347.1 643.9h0M447.8 612.7h0M367.8 622.3h0M217.7 678.9h0M491.1 654.3h0M451.4 626.1h0M166.7 760.4h0M187.2 691.7h0M283.5 683.5h0M287.8 666.6h0M182.2 793.8h0M337.1 666.7h0M223.8 678.5h0M180.9 690.2h0M362.0 624.4h0M229.3 683.8h0M335.4 636.9h0M477.4 678.5h0M272.7 681.1h0M327.1 646.9h0M344.4 627.1h0M188.5 796.5h0M480.7 664.9h0M329.8 630.9h0M505.4 677.9h0M170.2 743.4h0M192.3 721.3h0M167.1 772.4h0M184.6 699.6h0M206.5 675.1h0M454.5 615.9h0M456.3 634.2h0M289.9 649.2h0M245.3 691.1h0M215.9 666.8h0M398.6 606.0h0M495.0 668.3h0M328.6 636.7h0M246.8 671.7h0M230.6 666.0h0M462.3 621.4h0M196.5 673.0h0M386.7 607.5h0M431.2 611.6h0M243.7 663.3h0M482.4 674.8h0M322.6 634.5h0M295.3 639.5h0M254.6 659.7h0M490.5 673.8h0M283.8 644.3h0M256.4 651.3h0M278.2 647.8h0M376.1 622.9h0M237.6 661.6h0M487.8 641.8h0M346.0 637.8h0M499.4 672.1h0M384.2 613.3h0M415.2 598.8h0M348.0 619.1h0M366.1 614.7h0M309.8 643.0h0M203.2 666.6h0M247.2 652.8h0M174.0 696.2h0M486.7 669.6h0M321.9 623.4h0M208.9 661.0h0M175.6 708.5h0M239.4 655.5h0M248.0 658.4h0M441.8 603.4h0M262.4 660.4h0M170.8 703.8h0M343.1 632.9h0M492.3 661.1h0M229.4 655.0h0M455.8 622.5h0M211.5 731.3h0M464.5 631.5h0M189.4 680.0h0M289.2 638.4h0M478.2 636.0h0M355.9 615.7h0M275.8 638.4h0M427.0 602.4h0M161.5 767.5h0M271.3 658.4h0M459.1 628.2h0M181.5 730.2h0M482.1 650.6h0M179.7 746.7h0M500.3 664.2h0M467.1 641.4h0M492.7 645.0h0M354.7 621.5h0M188.2 672.2h0M164.7 710.1h0M378.8 610.8h0M317.0 635.8h0M349.7 609.0h0M317.9 627.6h0M447.6 603.7h0M308.2 633.5h0M420.6 601.7h0M185.3 686.3h0M298.0 633.4h0M426.9 592.6h0M508.4 670.1h0M263.8 650.7h0M156.1 759.5h0M224.8 670.7h0M337.8 628.1h0M299.1 644.2h0M222.3 663.1h0M408.3 605.0h0M231.8 660.2h0M506.0 661.2h0M195.7 664.5h0M427.1 618.8h0M259.8 642.2h0M461.8 636.7h0M239.6 644.4h0M234.3 649.6h0M413.3 592.0h0M181.2 677.2h0M496.4 650.8h0M468.9 626.3h0M340.1 621.5h0M246.7 644.7h0M445.8 626.3h0M461.3 604.4h0M203.0 660.4h0M501.6 644.3h0M176.4 718.9h0M380.0 618.5h0M333.9 620.5h0M174.3 689.2h0M433.6 599.2h0M437.2 593.2h0M370.7 608.1h0M392.5 606.0h0M293.9 628.6h0M271.5 644.8h0M450.6 635.6h0M171.9 757.1h0M287.7 630.1h0M254.0 645.9h0M404.9 600.3h0M155.3 766.8h0M473.4 630.1h0M171.3 714.8h0M310.0 625.0h0M180.1 696.0h0M170.5 722.8h0M442.3 597.7h0M448.8 596.8h0M176.4 682.7h0M471.5 620.9h0M170.6 676.2h0M164.1 697.5h0M223.5 652.2h0M308.3 619.2h0M372.0 601.6h0M243.7 637.8h0M327.3 625.2h0M339.4 611.3h0M228.1 644.8h0M215.1 651.4h0M167.5 688.8h0M217.8 657.5h0M478.1 620.1h0M167.7 751.1h0M173.0 737.0h0M171.5 670.4h0M181.3 706.2h0M464.5 612.3h0M440.0 585.4h0M302.9 628.2h0M164.7 745.7h0M250.8 639.9h0M166.7 737.2h0M498.5 657.8h0M237.5 633.9h0M366.3 602.8h0M506.1 655.0h0M509.4 649.3h0M295.8 620.8h0M447.1 588.4h0M156.8 748.3h0M508.3 643.0h0M430.7 588.2h0M232.1 632.1h0M470.7 609.7h0M256.4 637.1h0M191.0 658.6h0M328.3 611.2h0M265.5 640.0h0M362.0 610.0h0M408.9 596.0h0M167.9 731.1h0M161.0 741.0h0M366.4 593.9h0M487.6 629.1h0M357.7 605.7h0M334.2 613.6h0M164.8 704.2h0M389.7 599.9h0M161.1 754.2h0M205.5 649.6h0M281.9 635.6h0M375.0 594.9h0M167.9 681.3h0M419.3 586.3h0M154.4 738.9h0M387.5 589.0h0M419.0 592.8h0M383.2 596.5h0M487.6 621.4h0M150.8 755.7h0M151.1 749.7h0M324.2 607.3h0M192.1 710.8h0M213.2 637.2h0M179.3 724.0h0M396.8 599.0h0M376.5 588.9h0M368.1 583.2h0M268.0 634.4h0M416.6 576.6h0M454.5 601.8h0M315.5 622.0h0M494.9 639.2h0M361.3 598.9h0M454.6 595.8h0M351.3 602.7h0M145.8 746.9h0M235.9 623.0h0M340.2 601.3h0M221.1 635.9h0M182.5 668.5h0M434.9 578.6h0M276.9 630.5h0M332.5 606.5h0M286.1 622.7h0M460.3 616.1h0M498.1 629.1h0M315.2 603.6h0M188.1 666.6h0M185.4 661.5h0M140.1 742.0h0M470.8 598.9h0M233.3 641.8h0M136.7 749.7h0M408.7 576.7h0M484.4 614.5h0M513.4 639.7h0M396.2 591.6h0M156.2 717.0h0M313.9 612.8h0M294.3 613.0h0M162.0 726.4h0M494.6 624.0h0M207.3 632.6h0M367.6 575.6h0M490.9 615.3h0M407.7 590.1h0M228.2 626.8h0M308.1 612.4h0M289.7 603.9h0M158.0 705.2h0M467.1 588.3h0M252.7 628.4h0M507.6 633.4h0M403.0 580.3h0M423.5 568.6h0M161.9 664.9h0M333.5 600.3h0M220.4 646.8h0M283.6 615.0h0M242.9 629.4h0M359.0 582.1h0M341.1 595.7h0M203.0 644.6h0M148.7 741.4h0M477.1 613.4h0M249.6 622.9h0M412.8 582.9h0M225.1 620.8h0M361.8 572.2h0M346.6 594.0h0M298.6 606.9h0M444.0 576.1h0M338.7 590.6h0M345.6 599.7h0M193.9 649.0h0M326.1 601.9h0M473.0 590.3h0M429.0 567.4h0M159.8 683.8h0M159.5 676.2h0M394.4 581.7h0M381.4 584.8h0M157.7 698.9h0M432.7 572.1h0M132.9 739.8h0M478.9 594.3h0M348.9 588.6h0M478.8 605.9h0M359.6 588.8h0M498.4 616.0h0M413.8 571.1h0M399.9 575.4h0M417.2 566.6h0M503.6 625.9h0M352.0 574.8h0M184.6 654.4h0M438.8 570.5h0M300.9 613.6h0M151.2 690.1h0M406.5 567.9h0M449.8 572.5h0M422.7 581.4h0M151.7 677.7h0M149.6 716.9h0M399.6 569.7h0M430.3 561.9h0M151.9 671.0h0M343.2 587.2h0M458.1 591.0h0M483.4 590.9h0M178.1 660.3h0M151.7 701.5h0M329.7 593.9h0M474.3 579.7h0M448.8 580.6h0M154.3 727.6h0M126.8 743.4h0M195.8 654.5h0M319.0 596.1h0M259.6 621.8h0M185.8 642.5h0M297.7 599.3h0M311.6 592.9h0M243.3 622.0h0M335.9 582.2h0M304.4 594.5h0M502.7 650.6h0M457.8 585.1h0M323.0 591.8h0M157.7 691.5h0M362.0 565.1h0M289.5 616.9h0M503.8 617.8h0M277.8 623.0h0M228.0 616.0h0M228.8 636.8h0M264.8 624.3h0M393.6 569.3h0M166.8 661.3h0M147.9 710.8h0M272.8 626.3h0M309.3 603.0h0M174.1 654.5h0M302.0 586.3h0M372.9 573.4h0M154.0 684.6h0M277.6 617.3h0M413.0 561.7h0M188.2 649.1h0M328.3 580.8h0M400.9 586.7h0M375.2 582.0h0M131.0 749.9h0M467.4 604.9h0M439.5 564.3h0M188.4 632.9h0M489.8 588.0h0M271.7 620.0h0M143.1 699.1h0M384.4 578.0h0M146.1 731.5h0M157.9 711.3h0M146.4 723.1h0M294.0 593.0h0M506.6 608.0h0M276.9 607.4h0M489.2 607.9h0M495.8 610.5h0M305.7 579.5h0M175.7 639.3h0M142.4 709.8h0M187.2 751.5h0M287.4 595.7h0M439.8 558.0h0M124.8 733.2h0M181.6 647.0h0M448.6 560.9h0M238.1 615.7h0M354.1 586.0h0M467.1 617.4h0M210.9 655.8h0M280.5 603.0h0M264.3 617.8h0M244.4 615.0h0M139.4 728.3h0M146.4 704.9h0M509.6 615.5h0M287.8 609.3h0M419.3 561.4h0M343.6 579.0h0M268.4 606.8h0M167.1 766.7h0M422.9 554.4h0M260.6 607.5h0M347.0 567.4h0M134.8 710.9h0M233.6 611.8h0M388.1 561.3h0M471.1 571.1h0M297.1 583.1h0M206.4 639.8h0M252.8 618.3h0M171.4 646.4h0M145.5 671.8h0M199.5 625.4h0M463.4 582.8h0M135.7 700.6h0M330.7 574.9h0M210.9 646.3h0M259.7 613.8h0M140.5 704.1h0M175.3 665.5h0M146.9 694.0h0M135.2 720.0h0M152.3 733.5h0M165.0 670.5h0M348.6 581.7h0M177.6 630.3h0M326.3 565.0h0M147.1 681.7h0M137.6 694.9h0M250.6 606.3h0M142.1 689.1h0M481.4 579.7h0M166.3 641.3h0M421.8 545.6h0M368.5 560.6h0M156.3 663.8h0M415.3 544.2h0M164.2 651.2h0M378.0 577.0h0M192.6 626.5h0M454.8 580.1h0M266.2 599.8h0M404.4 558.6h0M357.8 576.4h0M402.5 549.9h0M150.0 664.7h0M157.2 637.7h0M474.1 566.2h0M189.6 620.1h0M402.7 593.9h0M421.2 539.5h0M228.1 604.9h0M478.9 572.2h0M511.9 627.5h0M536.6 621.4h0M418.0 550.4h0M478.0 585.0h0M304.2 571.8h0M320.6 574.7h0M508.8 597.6h0M133.5 728.4h0M301.6 619.7h0M514.6 608.1h0M299.3 577.6h0M291.9 585.2h0M515.5 619.1h0M128.2 717.7h0M182.5 621.1h0M469.3 556.5h0M129.2 693.9h0M221.5 597.1h0M416.2 535.1h0M428.6 552.8h0M122.8 687.3h0M342.4 570.7h0M375.9 565.9h0M114.0 749.5h0M238.8 608.5h0M158.0 669.3h0M254.3 611.8h0M260.3 600.0h0M430.1 541.2h0M311.9 585.7h0M282.2 590.3h0M284.1 579.4h0M341.2 564.6h0M138.8 735.5h0M458.0 575.1h0M495.1 590.4h0M126.2 712.0h0M307.1 589.5h0M372.8 556.2h0M485.8 584.0h0M119.9 743.0h0M155.5 653.2h0M482.6 567.0h0M152.7 696.0h0M127.1 727.6h0M151.2 644.8h0M293.2 578.5h0M118.2 714.1h0M276.1 594.7h0M138.8 672.3h0M228.5 593.8h0M485.3 559.1h0M131.5 685.7h0M171.2 632.9h0M456.2 569.8h0M336.4 576.2h0M520.4 614.6h0M499.0 603.1h0M135.6 678.1h0M446.2 568.0h0M130.0 707.4h0M149.3 655.2h0M121.6 724.2h0M484.7 603.5h0M140.4 662.7h0M480.9 550.2h0M349.7 562.0h0M389.1 573.0h0M333.5 567.4h0M465.8 577.5h0M460.4 565.8h0M397.7 560.1h0M310.3 574.8h0M474.7 553.4h0M445.7 550.2h0M490.1 600.4h0M170.2 622.9h0M355.1 568.5h0M128.4 679.5h0M148.0 638.2h0M401.2 542.3h0M383.3 568.6h0M113.9 743.5h0M119.1 731.7h0M235.6 603.0h0M119.8 705.9h0M362.3 552.7h0M125.2 753.0h0M388.9 551.8h0M315.7 567.6h0M145.2 649.7h0M489.1 594.5h0M140.6 654.2h0M133.5 662.2h0M404.1 530.6h0M144.3 737.8h0M190.3 638.1h0M177.9 615.5h0M224.3 588.2h0M277.5 578.9h0M496.8 584.2h0M492.0 580.4h0M226.2 610.4h0M456.3 559.6h0M435.9 547.5h0M216.1 609.8h0M504.2 584.4h0M417.2 529.4h0M231.3 599.1h0M317.5 581.1h0M433.3 556.3h0M131.2 673.1h0M317.7 589.6h0M195.2 617.9h0M483.7 597.2h0M466.3 562.0h0M379.7 558.3h0M185.5 615.7h0M355.6 560.9h0M455.4 552.3h0M254.1 598.8h0M442.8 543.5h0M222.3 604.1h0M463.6 556.1h0M496.9 567.0h0M504.6 591.0h0M338.4 557.4h0M182.0 609.6h0M517.4 593.0h0M272.5 600.2h0M532.0 607.5h0M394.3 554.9h0M509.3 587.6h0M442.8 537.1h0M325.3 571.5h0M467.1 550.5h0M309.4 564.4h0M461.3 548.0h0M391.3 546.7h0M304.9 555.5h0M119.7 698.2h0M127.5 668.4h0M353.8 547.6h0M522.2 604.9h0M329.9 553.0h0M128.1 658.3h0M353.2 555.6h0M470.7 540.6h0M202.4 619.7h0M167.0 617.7h0M380.0 549.6h0M305.8 545.9h0M511.2 579.3h0M199.8 611.9h0M499.2 595.6h0M207.9 626.8h0M114.1 692.2h0M131.1 648.8h0M504.5 573.7h0M241.4 597.1h0M410.0 550.2h0M217.0 584.1h0M159.8 618.9h0M451.6 540.7h0M264.7 592.7h0M511.3 571.6h0M163.7 624.8h0M122.0 675.9h0M395.8 534.8h0M477.1 600.3h0M332.0 560.8h0M425.9 522.8h0M151.9 628.1h0M362.2 559.1h0M227.4 582.8h0M315.5 556.3h0M237.8 588.6h0M394.4 541.1h0M297.0 569.3h0M291.0 568.2h0M353.0 540.5h0M461.7 541.4h0M464.6 531.9h0M514.5 561.7h0M435.7 538.4h0M451.7 547.8h0M510.4 603.4h0M476.8 537.3h0M213.1 590.5h0M138.3 635.2h0M487.9 576.3h0M202.1 630.5h0M410.0 528.2h0M309.5 550.2h0M505.7 563.0h0M344.4 542.0h0M174.2 608.0h0M143.0 623.5h0M499.2 561.9h0M483.5 544.5h0M516.8 601.3h0M222.7 575.3h0M383.2 544.1h0M441.3 526.1h0M245.1 592.9h0M157.4 630.4h0M251.8 590.9h0M432.8 533.4h0M490.5 551.7h0M257.5 594.3h0M297.6 541.8h0M270.0 584.9h0M448.5 536.0h0M500.5 578.3h0M270.3 594.2h0M340.3 550.5h0M210.6 583.7h0M388.1 533.8h0M293.7 547.1h0M269.5 567.5h0M419.6 524.1h0M113.6 727.2h0M113.7 709.3h0M454.3 534.0h0M348.3 548.7h0M212.2 601.3h0M287.4 547.4h0M336.1 542.1h0M238.9 582.4h0M195.2 596.0h0M526.7 591.5h0M518.6 583.1h0M413.5 521.3h0M134.5 624.6h0M397.0 529.3h0M204.9 598.8h0M532.9 594.1h0M517.4 576.8h0M299.2 563.2h0M293.0 559.5h0M213.3 577.9h0M206.0 592.8h0M536.3 589.0h0M268.3 575.3h0M540.4 596.0h0M205.4 605.5h0M388.8 522.9h0M524.3 585.4h0M322.0 549.1h0M202.3 580.4h0M481.3 528.1h0M530.2 584.8h0M328.7 546.8h0M292.1 534.3h0M121.5 670.0h0M257.9 574.9h0M215.4 596.7h0M459.3 528.4h0M285.0 565.7h0M150.2 619.5h0M316.5 550.3h0M382.2 530.8h0M396.8 520.9h0M144.0 629.4h0M289.5 528.5h0M203.2 586.2h0M133.7 654.3h0M198.5 605.5h0M161.8 634.4h0M314.5 543.1h0M496.4 544.7h0M277.4 562.8h0M485.8 537.1h0M114.8 672.0h0M182.2 601.7h0M405.7 521.4h0M502.7 553.9h0M133.9 630.9h0M263.3 565.2h0M205.0 574.5h0M124.2 651.9h0M431.7 522.3h0M334.4 548.8h0M509.4 555.7h0M220.6 569.7h0M299.2 552.7h0M281.2 554.3h0M220.9 613.2h0M473.0 532.7h0M196.5 583.9h0M446.3 528.8h0M362.2 546.1h0M542.5 588.2h0M370.7 550.0h0M117.5 662.3h0M291.8 552.8h0M138.4 646.4h0M525.4 570.4h0M510.4 548.4h0M530.8 577.7h0M284.1 538.9h0M155.6 623.5h0M260.3 588.9h0M524.8 559.8h0M308.8 538.5h0M322.8 541.9h0M549.8 591.1h0M519.0 557.0h0M524.2 548.0h0M549.5 597.1h0M378.6 540.2h0M257.1 583.9h0M350.6 533.8h0M503.7 547.7h0M509.3 541.2h0M493.5 537.5h0M534.2 563.6h0M298.8 533.6h0M188.8 595.2h0M547.0 581.4h0M267.6 560.5h0M542.5 568.7h0M436.3 518.4h0M165.5 607.5h0M266.2 553.2h0M144.3 658.5h0M124.5 640.0h0M536.6 571.9h0M502.6 536.1h0M423.6 516.0h0M568.6 614.1h0M467.9 523.3h0M248.6 576.7h0M546.7 575.4h0M552.0 563.8h0M156.5 608.3h0M372.0 543.0h0M115.8 721.7h0M489.8 531.1h0M141.3 641.0h0M272.1 554.0h0M137.8 616.7h0M555.4 592.7h0M146.9 614.9h0M267.1 542.8h0M344.4 533.8h0M276.2 547.0h0M258.8 559.1h0M562.9 592.6h0M281.8 597.5h0M330.2 537.4h0M377.9 521.6h0M528.2 552.5h0M430.0 510.7h0M116.5 651.7h0M132.5 639.0h0M126.1 631.7h0M515.4 541.9h0M143.0 609.8h0M480.4 518.2h0M558.5 597.7h0M255.8 565.6h0M247.9 586.6h0M503.2 526.3h0M502.6 542.0h0M496.9 552.9h0M362.4 537.0h0M119.1 625.4h0M538.3 558.4h0M128.2 614.2h0M146.4 604.2h0M211.4 568.6h0M548.6 556.8h0M123.3 646.3h0M445.2 519.7h0M219.0 590.4h0M286.3 533.2h0M382.7 515.5h0M392.2 516.3h0M118.6 642.8h0M516.3 550.6h0M525.1 541.0h0M443.4 509.5h0M273.6 536.3h0M507.1 517.0h0M153.2 596.2h0M121.6 656.9h0M152.8 589.3h0M249.7 568.3h0M436.5 512.7h0M456.7 521.5h0M242.0 575.9h0M343.3 526.4h0M554.6 580.9h0M362.0 528.6h0M169.9 600.7h0M192.0 589.6h0M120.3 635.6h0M402.8 513.4h0M155.8 601.3h0M240.1 566.6h0M382.7 525.1h0M257.2 547.1h0M319.7 534.6h0M344.0 516.4h0M495.6 531.1h0M517.5 533.9h0M511.3 521.9h0M375.9 535.1h0M440.2 502.7h0M175.2 595.2h0M519.3 526.8h0M114.5 635.9h0M450.4 555.0h0M369.5 536.9h0M435.0 506.0h0M425.6 506.3h0M249.3 558.7h0M490.2 546.1h0M518.4 520.6h0M200.3 593.0h0M232.9 578.8h0M371.7 530.2h0M472.2 516.7h0M456.3 514.5h0M304.4 532.3h0M415.2 504.7h0M462.4 513.9h0M535.9 552.3h0M256.9 552.8h0M349.5 520.8h0M429.6 498.4h0M357.1 533.2h0M559.3 586.8h0M451.9 509.6h0M182.2 593.7h0M278.5 525.2h0M470.9 508.7h0M345.9 511.1h0M227.0 570.8h0M134.8 610.5h0M263.5 571.9h0M535.4 546.0h0M351.2 503.3h0M191.1 577.0h0M502.3 511.8h0M563.2 580.3h0M460.3 506.3h0M438.5 532.6h0M530.8 541.5h0M160.7 597.7h0M450.7 503.2h0M498.2 518.3h0M542.5 548.3h0M338.6 511.5h0M396.9 511.7h0M187.4 585.7h0M181.7 583.3h0M197.7 577.2h0M357.0 525.9h0M280.4 534.4h0M234.9 594.7h0M334.1 529.8h0M118.1 737.2h0M318.4 562.0h0M527.3 516.3h0M489.7 525.3h0M178.7 578.0h0M236.9 572.1h0M204.0 564.8h0M361.1 515.6h0M559.1 571.6h0M304.4 524.7h0M463.5 519.7h0M337.9 504.9h0M171.9 614.5h0M484.5 523.1h0M486.7 516.2h0M282.9 519.9h0M295.2 526.4h0M270.0 531.3h0M121.6 619.9h0M401.7 499.7h0M567.5 599.0h0M146.5 591.8h0M243.5 559.8h0M458.4 496.5h0M395.8 505.3h0M200.6 570.4h0M442.6 496.1h0M114.3 621.5h0M567.0 584.7h0M363.6 522.1h0M232.1 566.2h0M529.0 526.0h0M496.7 524.9h0M583.7 617.3h0M542.5 554.1h0M234.6 560.9h0M567.8 565.3h0M257.2 538.9h0M123.4 663.9h0M248.0 553.0h0M139.2 594.5h0M139.7 602.3h0M575.8 599.0h0M209.5 559.2h0M530.9 568.7h0M331.2 515.5h0M404.1 493.9h0M412.5 493.9h0M446.0 490.5h0M166.3 594.0h0M510.0 511.6h0M561.0 605.6h0M185.3 575.9h0M358.6 505.7h0M193.4 570.1h0M281.0 543.9h0M395.4 494.4h0M158.8 590.2h0M570.7 593.3h0M401.5 507.3h0M215.4 559.6h0M582.9 606.9h0M452.2 493.5h0M221.0 562.7h0M157.1 581.7h0M120.0 614.0h0M176.7 567.7h0M458.0 488.1h0M171.3 579.8h0M184.5 560.9h0M239.0 553.0h0M391.1 498.9h0M385.5 505.5h0M186.2 570.2h0M164.5 588.5h0M462.3 500.8h0M559.0 563.5h0M419.1 509.3h0M535.5 535.5h0M173.8 574.8h0M193.5 563.6h0M171.7 589.5h0M147.3 597.8h0M513.6 528.7h0M330.9 504.8h0M570.3 574.2h0M161.7 603.2h0M564.6 574.2h0M325.9 527.8h0M233.0 550.4h0M364.5 510.2h0M446.3 476.0h0M143.2 583.0h0M196.9 558.7h0M500.0 504.6h0M542.5 541.4h0M219.7 550.6h0M559.3 554.3h0M250.6 542.2h0M169.1 569.5h0M189.9 558.8h0M465.7 492.2h0M131.6 618.7h0M227.3 556.3h0M382.7 498.5h0M150.0 579.4h0M481.6 509.0h0M142.6 575.6h0M379.5 506.2h0M146.6 565.9h0M244.1 546.4h0M133.3 576.0h0M416.8 498.7h0M576.9 567.7h0M465.1 482.2h0M148.7 585.2h0M523.8 522.5h0M165.4 580.9h0M460.6 476.8h0M372.3 506.5h0M192.8 548.2h0M320.3 525.9h0M206.2 550.0h0M488.7 509.4h0M549.5 549.6h0M275.3 520.3h0M115.5 607.2h0M227.9 562.2h0M161.1 565.7h0M292.8 515.7h0M212.7 551.0h0M478.1 504.4h0M471.6 500.4h0M577.9 585.2h0M375.5 513.0h0M369.8 513.7h0M235.8 542.9h0M212.6 545.0h0M197.2 552.9h0M400.4 486.3h0M220.6 556.4h0M336.3 519.8h0M126.7 581.7h0M535.5 518.6h0M424.1 491.7h0M540.5 515.7h0M226.1 550.7h0M458.9 482.4h0M473.6 487.1h0M251.5 581.4h0M230.3 539.9h0M524.9 531.2h0M479.9 498.9h0M197.2 543.2h0M537.3 507.6h0M453.4 476.6h0M410.6 500.6h0M476.5 492.2h0M314.8 522.6h0M344.1 504.3h0M220.6 544.5h0M365.5 500.4h0M308.7 528.4h0M571.0 580.0h0M270.3 548.3h0M578.5 578.2h0M485.3 493.1h0M390.9 488.7h0M308.9 517.8h0M439.8 470.5h0M401.8 477.3h0M130.8 605.6h0M477.1 512.5h0M335.1 499.6h0M515.7 515.3h0M351.5 510.0h0M119.2 596.7h0M185.7 550.4h0M330.4 495.8h0M154.7 570.8h0M135.2 588.6h0M183.2 545.3h0M124.1 589.5h0M250.1 534.8h0M435.4 474.8h0M125.4 568.2h0M472.1 475.5h0M373.1 500.3h0M282.1 511.9h0M147.2 572.2h0M133.3 581.7h0M175.1 559.7h0M245.3 538.9h0M175.7 601.6h0M372.6 489.6h0M337.7 492.2h0M416.8 487.1h0M526.1 509.7h0M286.8 515.2h0M533.3 530.3h0M343.3 498.4h0M369.4 494.3h0M282.9 505.4h0M466.0 473.5h0M433.6 469.3h0M320.0 519.6h0M420.7 482.4h0M169.5 563.6h0M492.4 518.0h0M516.2 507.3h0M136.2 571.2h0M539.1 523.9h0M591.9 592.8h0M580.8 563.0h0M141.2 589.2h0M191.3 539.8h0M585.8 584.6h0M404.3 470.8h0M124.7 574.3h0M130.1 594.8h0M395.0 477.0h0M340.7 486.1h0M551.8 541.6h0M466.7 505.0h0M547.7 519.0h0M164.2 558.5h0M244.4 581.1h0M388.1 481.6h0M407.6 477.8h0M113.8 598.9h0M464.8 458.1h0M429.3 489.1h0M305.1 507.8h0M541.8 534.0h0M119.0 580.9h0M312.0 507.6h0M178.0 543.1h0M520.2 500.8h0M147.0 555.6h0M428.3 481.5h0M217.1 534.9h0M419.0 476.7h0M347.0 486.3h0M383.9 485.4h0M137.7 565.6h0M529.8 535.5h0M276.4 512.6h0M360.5 486.3h0M512.2 497.0h0M265.3 515.5h0M244.4 531.0h0M321.9 512.5h0M325.2 503.3h0M319.1 501.3h0M152.0 558.4h0M353.3 494.3h0M504.2 494.0h0M349.8 527.9h0M158.4 558.7h0M120.9 561.0h0M276.0 500.1h0M203.5 557.8h0M128.6 561.6h0M134.6 558.5h0M294.8 508.8h0M461.6 466.9h0M318.7 507.4h0M585.7 573.3h0M200.7 548.3h0M318.1 494.3h0M200.0 535.8h0M114.6 566.4h0M554.0 521.2h0M544.4 505.5h0M171.4 553.3h0M536.3 501.8h0M116.8 572.1h0M187.0 535.7h0M202.9 540.9h0M472.9 460.1h0M257.2 530.7h0M549.0 535.8h0M353.4 488.2h0M283.4 499.2h0M555.9 534.8h0M240.7 524.1h0M252.5 527.4h0M255.8 510.7h0M456.6 460.4h0M309.7 500.6h0M375.7 482.1h0M301.4 500.4h0M161.9 551.2h0M115.2 586.3h0M332.4 489.3h0M479.7 486.7h0M589.6 578.7h0M568.0 556.4h0M449.4 471.4h0M490.9 489.3h0M311.6 492.9h0M264.7 537.7h0M387.6 493.8h0M225.0 534.5h0M347.7 480.3h0M295.6 500.9h0M144.8 546.9h0M303.0 537.8h0M413.5 480.6h0M444.4 461.8h0M267.0 526.2h0M141.6 558.6h0M424.9 475.8h0M198.7 520.7h0M205.7 532.4h0M271.6 506.5h0M364.2 490.6h0M320.7 488.2h0M553.4 507.6h0M365.7 481.8h0M590.0 564.9h0M154.1 548.7h0M247.3 524.9h0M357.4 480.3h0M165.6 542.8h0M347.5 493.5h0M178.1 537.1h0M264.8 499.9h0M504.5 484.8h0M427.0 468.9h0M266.1 493.6h0M573.7 558.8h0M500.7 489.3h0M333.0 479.0h0M160.0 540.6h0M415.8 470.5h0M510.9 488.4h0M547.5 511.6h0M398.3 472.4h0M322.9 474.6h0M459.5 451.6h0M234.9 526.4h0M524.8 490.9h0M549.8 528.6h0M209.6 538.0h0M528.9 503.1h0M472.5 465.8h0M222.1 527.5h0M341.9 478.0h0M189.6 527.2h0M557.4 541.4h0M583.5 553.0h0M394.5 465.4h0M146.6 539.8h0M569.1 550.1h0M312.3 484.4h0M155.1 563.9h0M299.4 522.1h0M515.0 480.9h0M403.7 463.4h0M590.5 557.8h0M518.1 492.4h0M193.2 533.3h0M327.9 483.5h0M183.7 526.8h0M474.9 480.5h0M252.5 504.5h0M474.6 452.2h0M131.2 567.2h0M486.5 484.7h0M480.5 478.8h0M411.1 465.8h0M139.4 539.3h0M132.0 540.6h0M495.9 486.0h0M179.0 530.0h0M480.0 457.0h0M565.2 538.7h0M173.8 532.9h0M378.8 491.3h0M275.9 530.5h0M450.0 459.2h0M305.6 494.0h0M182.7 519.9h0M478.7 464.0h0M333.3 467.9h0M328.5 462.8h0M252.5 521.6h0M172.3 546.5h0M418.6 457.6h0M555.9 515.6h0M177.1 550.3h0M113.4 579.6h0M172.4 538.5h0M394.0 483.5h0M391.8 471.9h0M211.1 530.1h0M175.2 523.2h0M135.8 546.1h0M128.0 544.8h0M329.1 472.6h0M407.2 457.8h0M551.6 501.6h0M559.3 503.5h0M304.8 513.6h0M257.0 516.5h0M357.3 471.9h0M140.9 532.9h0M447.9 453.0h0M270.6 513.3h0M317.0 466.3h0M421.8 464.3h0M385.3 475.2h0M399.0 455.6h0M125.8 551.5h0M559.2 525.7h0M576.3 550.8h0M170.9 514.8h0M559.5 547.9h0M205.9 513.7h0M302.9 480.3h0M427.0 460.7h0M189.2 520.2h0M385.8 464.3h0M367.7 474.6h0M563.5 529.6h0M565.3 545.2h0M595.9 563.9h0M236.6 517.8h0M532.8 511.8h0M307.2 488.5h0M376.9 475.6h0M594.0 569.4h0M299.4 488.8h0M391.6 452.5h0M309.2 459.1h0M229.5 529.7h0M481.9 473.2h0M122.0 541.9h0M118.9 549.7h0M500.3 472.6h0M588.2 547.5h0M596.8 548.6h0M146.7 526.2h0M382.0 453.5h0M522.0 514.1h0M308.5 477.2h0M320.9 458.4h0M449.8 464.9h0M311.3 468.6h0M379.5 448.1h0M260.3 503.6h0M380.8 470.2h0M127.4 535.1h0M565.2 521.3h0M443.1 456.3h0M306.1 464.0h0M263.5 547.5h0M346.0 469.6h0M188.3 511.5h0M261.3 489.3h0M455.2 445.1h0M390.8 459.7h0M125.9 526.5h0M475.2 470.7h0M272.3 493.5h0M567.3 499.9h0M217.1 522.4h0M426.3 453.7h0M464.8 444.3h0M397.0 444.5h0M170.0 526.2h0M196.7 512.2h0M568.0 510.1h0M155.7 535.8h0M505.8 478.0h0M444.8 444.2h0M157.3 526.3h0M297.0 495.1h0M195.2 502.8h0M532.4 497.1h0M487.4 468.6h0M437.0 453.7h0M441.0 477.8h0M321.3 451.9h0M541.3 498.8h0M538.6 491.3h0M352.0 465.5h0M249.1 510.6h0M357.8 460.8h0M313.9 453.2h0M405.9 449.0h0M545.4 493.8h0M280.9 491.7h0M558.7 496.9h0M444.6 482.1h0M519.1 476.3h0M432.0 445.8h0M218.2 516.6h0M302.8 459.0h0M294.6 460.0h0M118.3 555.4h0M511.8 503.4h0M433.9 480.4h0M484.9 462.5h0M414.9 452.9h0M569.5 516.0h0M413.0 459.4h0M387.4 436.7h0M416.1 444.8h0M129.0 520.6h0M607.0 558.4h0M575.4 504.4h0M320.4 444.5h0M605.2 549.6h0M453.7 450.7h0M414.4 435.6h0M187.0 504.2h0M163.8 520.7h0M339.6 472.8h0M473.5 441.5h0M305.3 448.6h0M127.6 504.1h0M551.6 490.9h0M152.2 517.7h0M492.2 458.6h0M300.0 472.7h0M224.4 522.1h0M165.1 510.3h0M219.5 508.4h0M229.9 518.9h0M343.5 452.8h0M387.9 447.2h0M568.7 525.9h0M371.7 468.8h0M372.6 456.5h0M568.9 492.7h0M584.4 505.8h0M271.5 484.4h0M286.8 488.8h0M330.4 457.1h0M496.0 466.9h0M289.6 475.7h0M293.2 490.8h0M354.9 450.6h0M370.0 448.8h0M121.7 505.2h0M179.6 506.1h0M570.6 541.2h0M284.7 462.7h0M569.7 531.6h0M207.7 505.8h0M310.9 448.4h0M597.7 555.0h0M223.7 513.8h0M328.8 450.6h0M575.2 486.9h0M583.4 486.7h0M558.0 485.9h0M382.3 459.3h0M313.0 438.8h0M387.5 427.2h0M581.2 478.6h0M610.8 543.9h0M256.8 492.8h0M363.8 451.2h0M281.8 480.6h0M362.4 442.3h0M259.6 482.4h0M432.2 438.3h0M199.5 506.5h0M307.4 440.3h0M163.6 527.0h0M497.2 478.3h0M480.5 449.9h0M588.9 480.1h0M443.0 450.1h0M481.6 444.3h0M500.9 458.3h0M592.0 500.7h0M421.5 447.0h0M421.6 440.3h0M276.9 486.8h0M596.6 540.4h0M578.6 521.4h0M467.2 439.1h0M300.2 442.2h0M173.9 505.7h0M146.1 518.2h0M431.4 456.3h0M231.2 511.3h0M585.1 492.4h0M290.4 468.9h0M279.4 455.7h0M347.3 457.5h0M359.5 466.7h0M334.0 461.6h0M486.1 453.3h0M148.3 532.7h0M467.7 432.1h0M525.0 485.2h0M501.6 467.0h0M181.2 495.4h0M439.1 434.4h0M150.4 544.0h0M201.8 498.9h0M494.5 450.4h0M140.4 524.3h0M305.6 430.0h0M427.7 434.3h0M373.3 440.4h0M299.9 466.3h0M195.2 492.0h0M579.6 510.7h0M377.5 433.6h0M391.1 432.2h0M506.9 465.0h0M135.5 517.8h0M213.1 507.6h0M343.1 443.7h0M212.9 496.6h0M363.1 457.5h0M371.5 432.3h0M368.9 462.9h0M507.7 459.4h0M354.1 456.6h0M173.8 499.7h0M329.3 442.3h0M121.4 531.1h0M437.1 448.1h0M347.9 447.3h0M135.0 535.5h0M121.8 516.6h0M188.9 490.4h0M240.1 502.9h0M523.0 470.7h0M193.9 480.9h0M295.7 451.6h0M414.5 425.0h0M132.3 528.0h0M299.6 428.7h0M514.2 458.1h0M540.4 485.2h0M519.2 461.7h0M200.0 483.9h0M429.1 425.9h0M498.2 445.1h0M206.7 477.8h0M114.0 532.0h0M365.1 436.6h0M577.3 537.9h0M272.9 475.2h0M421.8 428.1h0M399.1 433.7h0M584.8 523.6h0M580.2 500.2h0M533.6 479.5h0M253.6 482.5h0M158.4 514.5h0M474.6 433.9h0M427.2 441.0h0M586.3 500.0h0M404.4 441.2h0M354.8 444.2h0M381.5 429.3h0M206.0 494.7h0M349.7 439.5h0M530.9 486.1h0M551.5 477.1h0M228.4 502.2h0M284.8 453.0h0M211.2 489.4h0M575.0 544.9h0M293.7 421.0h0M580.9 547.1h0M251.9 472.2h0M237.6 497.3h0M450.2 437.4h0M357.8 438.8h0M489.1 439.5h0M516.5 486.9h0M560.5 474.6h0M528.2 477.8h0M436.7 425.6h0M480.5 436.0h0M252.8 488.5h0M238.7 490.6h0M514.3 466.1h0M399.5 449.5h0M436.7 441.7h0M229.1 493.2h0M407.3 429.4h0M204.6 520.2h0M116.5 523.4h0M592.1 507.2h0M336.3 449.2h0M143.4 510.4h0M434.9 418.1h0M362.1 475.6h0M442.5 418.3h0M355.8 431.3h0M211.2 516.3h0M376.6 425.0h0M584.1 541.0h0M139.1 502.4h0M315.2 429.9h0M261.0 473.2h0M174.0 493.2h0M113.9 537.9h0M375.6 418.0h0M403.2 422.4h0M584.1 533.9h0M433.1 431.4h0M189.6 498.2h0M208.7 484.2h0M546.7 486.7h0M188.3 475.8h0M116.9 513.7h0M133.7 512.3h0M604.5 542.0h0M184.1 485.3h0M346.3 430.3h0M408.4 436.0h0M197.3 475.2h0M145.3 503.5h0M138.1 494.3h0M593.2 514.2h0M172.1 485.7h0M307.1 423.0h0M415.1 417.6h0M356.9 423.9h0M243.4 494.1h0M461.6 438.0h0M490.5 433.0h0M479.2 429.7h0M291.6 446.0h0M123.4 499.8h0M460.0 431.9h0M225.7 487.7h0M231.4 482.1h0M393.4 423.2h0M388.5 419.9h0M317.8 421.2h0M334.8 440.2h0M444.4 429.1h0M266.7 476.3h0M291.3 435.4h0M583.6 517.0h0M222.6 496.7h0M592.0 527.8h0M321.3 433.2h0M152.7 510.3h0M157.3 505.7h0M504.2 452.1h0M446.7 423.3h0M453.3 427.1h0M589.8 535.2h0M276.2 447.5h0M219.5 490.5h0M422.3 419.7h0M248.1 480.5h0M511.7 446.1h0M400.4 428.2h0M598.2 529.3h0M610.8 537.6h0M246.1 475.0h0M575.2 529.6h0M264.4 468.5h0M604.7 507.0h0M177.7 479.5h0M533.0 470.4h0M245.5 505.9h0M538.1 475.1h0M135.6 506.9h0M563.0 559.1h0M286.5 427.3h0M503.9 442.3h0M564.1 487.6h0M150.4 500.8h0M256.6 467.1h0M336.7 455.4h0M132.0 500.0h0M494.0 472.2h0M223.7 479.7h0M571.0 482.8h0M409.3 422.6h0M322.4 424.9h0M281.9 447.6h0M116.0 506.3h0M160.8 500.6h0M590.9 494.6h0M517.0 450.6h0M418.4 410.5h0M604.3 535.0h0M408.9 414.8h0M572.2 473.9h0M166.7 501.6h0M199.7 465.6h0M397.6 419.0h0M590.6 542.1h0M525.9 464.0h0M589.4 518.5h0M287.0 482.8h0M597.6 496.0h0M574.6 513.4h0M600.8 514.4h0M608.7 511.5h0M604.9 498.8h0M608.9 530.3h0M140.7 487.8h0M410.1 404.9h0M129.6 493.9h0M597.6 489.0h0M539.7 464.2h0M546.2 467.9h0M177.9 489.2h0M598.7 523.4h0M444.1 438.5h0M216.2 475.9h0M117.8 500.7h0M499.4 435.9h0M324.6 416.1h0M349.8 423.4h0M510.7 438.7h0M425.5 408.9h0M306.5 415.8h0M326.8 431.7h0M564.1 482.0h0M277.9 441.8h0M165.4 485.1h0M510.3 453.1h0M587.8 512.5h0M488.8 426.8h0M605.4 518.3h0M271.8 437.4h0M455.9 436.5h0M242.7 469.6h0M247.1 464.7h0M237.6 462.8h0M134.0 489.1h0M331.4 420.2h0M603.2 487.9h0M136.1 483.8h0M312.8 417.6h0M363.8 417.1h0M612.4 497.7h0M267.1 448.7h0M420.0 401.1h0M287.1 441.1h0M235.8 457.0h0M543.5 455.2h0M558.0 479.7h0M433.4 409.3h0M443.4 412.1h0M451.5 413.3h0M169.3 479.5h0M221.7 454.5h0M474.1 426.9h0M168.6 490.6h0M520.7 455.9h0M206.4 470.2h0M275.1 459.8h0M611.4 489.3h0M280.7 435.8h0M216.1 470.2h0M610.5 504.6h0M589.9 488.0h0M603.7 527.4h0M566.8 476.6h0M271.8 469.4h0M390.8 408.5h0M334.5 431.1h0M478.2 419.9h0M330.0 407.4h0M468.8 424.5h0M343.2 424.4h0M563.1 466.4h0M551.8 454.6h0M580.7 528.2h0M548.9 461.7h0M471.2 417.4h0M161.7 480.4h0M609.1 524.4h0M600.1 483.2h0M240.6 452.9h0M356.8 414.5h0M410.0 442.5h0M544.2 446.9h0M230.4 449.8h0M275.4 428.0h0M173.7 472.2h0M285.1 416.4h0M298.5 410.6h0M339.1 420.0h0M550.1 447.0h0M330.5 413.0h0M609.4 480.9h0M519.4 442.0h0M123.6 492.9h0M316.7 412.4h0M382.9 422.0h0M386.9 403.5h0M497.1 429.4h0M311.0 411.5h0M334.9 403.5h0M204.4 488.2h0M146.9 481.9h0M349.4 416.3h0M345.9 407.8h0M556.1 459.1h0M264.5 442.6h0M328.1 425.5h0M315.6 406.8h0M609.7 474.3h0M500.9 424.1h0M215.8 446.6h0M462.5 418.8h0M507.7 422.3h0M241.8 444.0h0M322.4 409.8h0M599.7 503.3h0M281.2 423.7h0M351.8 410.9h0M570.2 468.1h0M494.5 424.2h0M514.5 433.9h0M555.4 450.0h0M600.9 475.8h0M485.1 421.8h0M462.9 412.8h0M319.8 399.3h0M265.2 433.1h0M508.7 429.8h0M277.3 418.6h0M564.6 460.6h0M129.0 485.5h0M326.2 398.0h0M117.8 489.0h0M213.3 465.0h0M338.0 412.6h0M264.1 427.2h0M499.2 415.0h0M313.0 396.0h0M165.5 474.2h0M476.2 413.8h0M268.1 420.9h0M576.9 470.5h0M281.5 430.1h0M449.9 407.1h0M210.8 453.7h0M594.4 483.9h0M305.0 406.5h0M264.6 461.1h0M356.7 402.6h0M258.4 425.5h0M297.4 401.8h0M181.5 472.5h0M259.3 417.4h0M537.6 457.1h0M523.1 449.2h0M553.6 441.2h0M489.2 417.2h0M155.0 457.4h0M215.1 457.6h0M249.2 446.0h0M236.1 448.1h0M325.3 437.1h0M493.1 402.2h0M329.9 389.4h0M361.6 410.7h0M562.3 453.3h0M206.0 462.9h0M293.2 414.6h0M130.6 477.9h0M339.6 406.9h0M256.5 438.9h0M251.0 458.8h0M379.5 402.5h0M258.9 432.9h0M384.0 394.7h0M123.6 480.3h0M167.8 467.4h0M258.0 457.9h0M599.1 469.4h0M534.0 432.9h0M249.2 420.4h0M503.8 409.4h0M123.3 486.9h0M262.4 452.3h0M175.1 465.5h0M606.4 466.3h0M524.6 436.7h0M547.0 436.5h0M583.8 473.4h0M211.6 442.1h0M320.8 389.9h0M556.0 465.4h0M427.0 399.0h0M335.0 393.0h0M453.9 394.8h0M536.0 449.9h0M183.2 478.2h0M579.9 465.0h0M255.8 445.1h0M284.1 406.8h0M367.6 409.4h0M530.0 451.1h0M225.4 474.1h0M439.4 408.1h0M249.3 436.9h0M280.0 412.3h0M509.6 414.2h0M589.6 471.2h0M243.1 459.4h0M499.1 404.1h0M536.8 424.0h0M253.2 432.3h0M289.3 409.6h0M570.7 459.5h0M456.6 406.6h0M595.3 477.2h0M390.2 398.8h0M597.9 462.0h0M116.7 494.6h0M515.7 423.3h0M290.9 404.0h0M528.3 444.2h0M576.8 451.9h0M349.9 400.9h0M245.2 428.4h0M220.4 438.1h0M300.7 393.3h0M126.3 474.2h0M409.8 396.5h0M421.9 392.9h0M237.8 437.1h0M336.9 425.1h0M174.4 458.7h0M251.1 426.6h0M429.8 390.0h0M438.0 399.6h0M505.0 401.3h0M519.7 416.9h0M204.9 449.1h0M453.6 389.1h0M590.1 459.1h0M434.3 384.2h0M409.9 390.8h0M286.8 421.7h0M587.7 465.3h0M144.1 467.8h0M148.5 463.2h0M119.4 476.1h0M137.1 474.2h0M461.2 425.0h0M272.5 414.5h0M352.2 388.2h0M461.2 401.8h0M356.6 393.3h0M441.1 392.8h0M307.3 394.5h0M423.3 380.9h0M341.5 400.3h0M370.8 393.8h0M200.8 455.8h0M215.2 428.9h0M444.7 386.2h0M519.2 428.7h0M340.6 391.9h0M235.2 421.5h0M581.5 457.1h0M115.7 468.1h0M434.5 394.1h0M466.5 383.7h0M146.5 488.1h0M332.2 398.4h0M376.3 396.9h0M457.5 414.3h0M377.4 387.6h0M530.4 425.2h0M142.9 473.6h0M271.5 408.5h0M385.9 388.4h0M526.1 419.0h0M453.4 401.7h0M396.2 396.2h0M540.8 433.3h0M471.5 408.6h0M227.8 441.6h0M225.8 433.3h0M362.8 405.1h0M223.5 445.3h0M140.6 460.4h0M446.8 392.8h0M574.8 438.5h0M239.5 429.4h0M473.7 390.5h0M122.9 467.7h0M523.9 425.3h0M167.4 460.6h0M489.4 410.6h0M392.0 387.9h0M526.4 410.5h0M179.3 452.5h0M415.6 389.0h0M514.0 399.3h0M446.2 376.1h0M415.4 395.7h0M509.2 405.7h0M478.9 406.5h0M243.7 437.6h0M539.5 418.8h0M465.2 407.1h0M220.8 427.0h0M364.5 397.2h0M487.4 400.7h0M228.9 425.9h0M549.3 415.9h0M490.8 392.0h0M188.1 463.5h0M231.8 435.9h0M370.3 385.2h0M266.4 411.4h0M380.6 382.7h0M562.4 442.3h0M149.6 450.3h0M452.8 378.9h0M543.3 428.1h0M549.6 427.2h0M471.5 402.0h0M204.3 441.9h0M361.6 390.6h0M481.4 400.5h0M463.8 395.1h0M192.9 458.6h0M518.0 405.2h0M474.3 396.9h0M392.4 381.4h0M360.2 383.8h0M440.1 379.9h0M606.0 456.1h0M113.7 473.5h0M242.2 422.5h0M114.3 458.1h0M479.1 392.6h0M167.2 453.7h0M135.2 462.5h0M210.0 435.9h0M581.4 432.5h0M531.9 417.8h0M375.7 379.4h0M574.6 445.7h0M397.8 387.6h0M186.6 457.8h0M384.2 376.5h0M526.0 431.0h0M172.8 452.1h0M178.3 446.1h0M485.0 383.6h0M430.2 379.2h0M327.8 383.5h0M161.1 453.4h0M370.7 376.0h0M145.8 458.1h0M173.7 441.4h0M188.2 448.4h0M576.2 427.8h0M164.2 446.3h0M587.2 452.2h0M569.3 432.9h0M405.2 387.6h0M341.1 385.1h0M278.3 405.8h0M467.8 390.1h0M484.8 395.7h0M533.4 411.7h0M558.3 436.4h0M535.6 406.4h0M137.0 454.4h0M158.2 443.7h0M128.4 464.7h0M541.7 440.5h0M471.7 381.0h0M196.0 449.6h0M484.0 389.6h0M478.9 383.2h0M498.2 396.0h0M543.2 412.2h0M390.2 372.7h0M398.7 369.5h0M548.4 421.5h0M161.8 470.0h0M205.3 429.5h0M467.7 374.2h0M170.0 446.0h0M222.9 421.5h0M165.6 440.9h0M514.2 409.4h0M414.6 366.8h0M198.0 437.5h0M520.7 410.8h0M579.1 442.2h0M347.5 379.5h0M332.2 379.6h0M335.1 384.4h0M407.6 370.3h0M552.6 432.1h0M456.3 373.1h0M563.7 430.7h0M492.6 385.0h0M557.2 413.2h0M192.6 429.8h0M194.7 468.4h0M462.7 379.1h0M144.2 452.3h0M119.8 461.9h0M180.8 433.6h0M449.7 366.2h0M552.0 409.5h0M362.1 378.1h0M460.4 367.9h0M149.8 444.0h0M158.4 437.7h0M407.9 381.5h0M204.4 435.4h0M530.4 438.0h0M339.1 378.4h0M584.7 425.3h0M420.5 386.4h0M504.4 393.7h0M563.2 408.2h0M556.7 424.5h0M499.0 389.4h0M179.6 440.5h0M584.9 443.5h0M211.3 421.8h0M193.3 441.5h0M456.3 359.3h0M611.7 447.9h0M438.3 373.0h0M609.2 460.9h0M405.1 376.4h0M171.7 430.9h0M199.3 430.9h0M592.7 443.5h0M567.2 439.4h0M582.1 449.0h0M564.3 420.2h0M187.5 424.4h0M299.2 416.2h0M163.7 431.7h0M139.6 447.0h0M153.0 433.6h0M574.5 421.2h0M421.5 371.9h0M557.7 418.9h0M447.6 355.6h0M556.6 405.6h0M596.5 432.7h0M587.7 431.0h0M441.9 364.4h0M428.9 373.6h0M611.7 453.5h0M196.7 425.4h0M579.2 416.9h0M175.5 424.1h0M184.6 444.0h0M564.8 414.1h0M155.2 428.3h0M180.8 426.4h0M395.5 375.9h0M199.1 444.9h0M168.6 436.2h0M164.9 422.8h0M158.9 421.0h0M480.2 375.1h0M376.6 373.4h0M593.0 424.3h0M599.6 437.6h0M590.0 416.4h0M427.8 364.5h0M432.4 368.4h0M147.5 426.7h0M569.6 405.1h0M429.1 356.3h0M139.3 441.3h0M130.9 451.1h0M601.6 426.6h0M433.9 362.9h0M120.1 453.4h0M579.0 409.5h0M605.7 435.4h0M441.9 358.1h0M131.5 442.4h0M467.7 367.8h0M137.3 414.5h0M142.4 421.4h0M347.0 385.2h0M125.4 457.3h0M126.2 445.4h0M147.3 435.7h0M421.4 362.8h0M116.8 444.0h0M136.4 425.5h0M161.5 460.0h0M140.7 434.0h0M595.9 416.7h0M129.5 428.3h0M610.3 425.6h0M131.4 422.4h0M602.3 420.3h0M128.1 415.6h0M115.6 449.7h0M607.0 415.6h0M134.6 432.2h0M123.3 436.7h0M446.7 361.1h0M584.4 411.9h0M187.0 431.2h0M123.2 427.1h0M118.5 433.1h0M113.3 435.9h0M141.8 428.0h0M599.9 411.7h0M199.8 420.5h0M435.8 357.5h0M129.3 435.9h0" stroke="#d70a0e"/><path d="M362.5 801.0h0M369.4 796.5h0M360.7 806.5h0M349.9 813.9h0M356.1 812.5h0M350.5 821.2h0M376.5 793.9h0M370.6 814.3h0M353.2 828.1h0M373.3 800.6h0M358.4 823.4h0M365.6 826.9h0M366.3 820.7h0M378.9 802.5h0M343.6 827.5h0M373.6 832.4h0M379.6 815.8h0M386.9 817.2h0M371.2 826.8h0M381.5 827.2h0M368.9 839.3h0M363.9 832.7h0M380.4 809.4h0M351.4 836.1h0M389.5 810.4h0M389.2 799.1h0M361.2 838.9h0M390.5 789.5h0M386.1 823.4h0M385.0 793.2h0M375.1 838.2h0M367.0 846.2h0M363.0 852.9h0M397.3 801.3h0M382.2 846.1h0M379.7 832.7h0M400.0 813.4h0M393.1 818.0h0M385.6 804.5h0M396.0 793.6h0M397.3 808.2h0M391.2 826.3h0M404.7 801.7h0M396.7 822.4h0M400.6 828.0h0M372.2 850.8h0M339.6 835.5h0M375.3 845.4h0M369.8 860.0h0M381.2 852.9h0M351.8 844.6h0M375.4 856.1h0M355.5 849.0h0M389.2 840.9h0M385.0 836.3h0M345.2 833.3h0M388.8 848.4h0M394.9 844.1h0M343.3 841.7h0M388.4 855.1h0M351.1 852.9h0M386.9 831.0h0M360.0 863.4h0M336.1 840.0h0M400.8 835.7h0M374.7 863.7h0M406.6 833.3h0M385.6 866.0h0M335.8 849.6h0M345.6 847.1h0M407.0 823.4h0M378.3 868.3h0M351.4 861.8h0M343.6 857.3h0M403.3 842.1h0M365.9 864.4h0M412.3 832.5h0M330.7 852.8h0M357.4 855.6h0M392.2 805.1h0M355.1 869.3h0M345.1 862.8h0M365.8 870.4h0M333.7 858.0h0M398.4 852.3h0M387.2 873.6h0M335.8 864.3h0M346.7 868.7h0M359.4 876.0h0M374.9 873.4h0M337.8 872.8h0M394.2 856.8h0M367.0 877.3h0M314.4 863.1h0M308.2 872.2h0M434.6 825.0h0M349.4 874.4h0M325.2 859.6h0M319.1 866.9h0M401.5 797.1h0M385.3 880.4h0M313.3 869.8h0M353.9 881.7h0M343.9 882.5h0M325.0 866.1h0M316.1 876.4h0M338.0 882.0h0M375.2 879.4h0M358.7 887.9h0M326.9 871.6h0M349.7 891.1h0M294.3 868.7h0M330.4 862.7h0M332.1 875.7h0M314.9 883.5h0M306.9 884.0h0M341.4 888.7h0M288.8 870.4h0M300.7 877.0h0M364.1 884.1h0M321.6 874.9h0M293.2 877.0h0M374.8 888.7h0M300.9 885.0h0M321.0 881.7h0M278.9 868.5h0M316.9 890.4h0M361.0 898.2h0M291.2 882.5h0M331.6 884.1h0M309.3 891.0h0M342.2 897.7h0M326.2 891.6h0M367.9 889.9h0M322.6 887.3h0M354.4 900.6h0M374.3 895.7h0M282.4 883.5h0M317.0 901.5h0M335.9 897.1h0M339.9 906.3h0M301.0 891.0h0M349.9 908.9h0M310.1 877.8h0M283.2 875.7h0M361.4 904.3h0M355.6 892.6h0M275.0 882.0h0M335.8 889.2h0M298.4 901.3h0M295.6 906.7h0M327.7 897.1h0M277.2 887.5h0M274.3 873.6h0M267.8 874.9h0M348.9 897.7h0M377.4 903.8h0M294.0 896.8h0M309.1 907.2h0M307.3 896.3h0M262.9 866.2h0M254.0 865.5h0M263.9 882.3h0M290.7 911.3h0M301.0 911.5h0M288.1 898.3h0M355.4 906.5h0M283.7 894.3h0M304.0 903.1h0M272.5 866.2h0M285.7 888.2h0M346.1 902.5h0M285.0 903.5h0M278.4 902.5h0M436.9 834.2h0M315.4 909.4h0M239.8 872.9h0M445.9 832.5h0M307.1 912.5h0M329.0 912.3h0M321.5 909.4h0M444.4 818.0h0M266.0 887.6h0M347.1 917.2h0M335.1 903.0h0M370.7 900.0h0M431.3 819.4h0M256.4 876.0h0M338.3 916.8h0M379.3 910.2h0M246.8 872.4h0M322.6 901.0h0M295.0 916.7h0M374.9 915.8h0M379.5 919.1h0M271.4 903.4h0M333.0 919.0h0M366.1 895.7h0M316.4 916.0h0M312.8 924.2h0M372.5 909.6h0M412.7 823.5h0M449.4 822.7h0M258.0 870.4h0M367.3 905.9h0M366.8 914.8h0M275.5 911.5h0M310.0 917.3h0M251.7 880.8h0M333.8 909.1h0M275.3 917.3h0M271.9 897.3h0M370.3 920.5h0M256.7 887.1h0M320.7 923.5h0M303.4 919.0h0M290.9 903.5h0M281.2 911.7h0M262.1 893.7h0M245.6 882.1h0M277.4 895.0h0M255.4 899.2h0M439.8 822.7h0M251.0 887.8h0M288.2 919.4h0M264.2 905.2h0M366.7 929.2h0M288.7 927.7h0M363.6 919.8h0M361.1 913.8h0M296.7 925.9h0M303.1 926.6h0M354.1 921.6h0M266.6 917.1h0M309.1 933.0h0M227.2 857.6h0M348.2 928.2h0M315.1 936.2h0M355.7 912.2h0M342.6 925.1h0M243.8 888.6h0M258.1 905.3h0M309.1 944.4h0M296.6 935.0h0M358.6 925.4h0M279.2 925.3h0M244.1 894.8h0M320.7 938.9h0M273.2 924.7h0M251.5 913.9h0M321.4 945.0h0M259.1 915.1h0M304.6 936.5h0M266.5 910.7h0M262.3 876.6h0M278.3 931.8h0M282.7 920.3h0M269.3 880.3h0M219.5 855.9h0M269.2 930.8h0M288.6 933.3h0M248.3 899.7h0M239.2 901.3h0M265.7 899.1h0M357.9 932.5h0M325.7 934.8h0M289.2 938.9h0M285.6 943.9h0M266.0 924.6h0M235.7 895.3h0M209.1 858.0h0M232.3 864.0h0M229.5 874.6h0M204.5 847.6h0M328.4 927.1h0M208.8 851.9h0M233.9 878.2h0M271.0 939.6h0M237.2 867.2h0M218.6 864.4h0M229.1 868.9h0M259.2 926.4h0M305.8 949.6h0M252.6 919.6h0M267.4 944.4h0M298.6 946.1h0M281.9 936.2h0M276.7 938.9h0M239.7 880.1h0M244.9 908.2h0M201.8 858.5h0M349.6 945.1h0M290.6 948.1h0M242.8 919.1h0M294.5 941.9h0M349.6 934.6h0M203.2 867.3h0M323.6 950.9h0M238.0 861.1h0M189.8 850.2h0M233.7 889.5h0M329.7 939.2h0M261.2 932.0h0M252.8 894.1h0M223.5 871.1h0M222.4 878.7h0M326.5 921.4h0M275.2 945.0h0M286.5 955.1h0M330.5 947.5h0M311.7 953.4h0M228.3 883.5h0M336.6 944.1h0M246.8 927.6h0M279.6 948.8h0M206.7 873.4h0M218.4 901.4h0M329.9 953.2h0M234.7 916.1h0M220.4 885.5h0M233.2 902.6h0M293.9 967.1h0M320.3 956.5h0M223.4 892.4h0M253.4 926.8h0M303.3 962.8h0M238.9 907.3h0M231.0 911.3h0M170.0 838.4h0M345.4 940.9h0M253.0 938.1h0M226.6 906.3h0M218.0 912.6h0M259.7 937.7h0M194.9 860.9h0M212.8 866.6h0M213.0 919.5h0M265.2 939.1h0M304.8 957.3h0M275.2 956.8h0M208.3 912.1h0M247.6 935.5h0M343.5 946.8h0M258.4 945.3h0M235.5 922.5h0M172.3 848.0h0M214.7 888.7h0M209.3 892.0h0M237.1 933.0h0M281.4 959.1h0M229.5 933.7h0M205.2 885.9h0M214.5 881.6h0M201.2 913.6h0M203.5 907.9h0M239.7 913.0h0M252.6 944.8h0M245.5 945.9h0M182.0 847.0h0M208.5 879.2h0M165.5 845.9h0M195.5 890.7h0M238.8 942.4h0M191.0 856.0h0M180.6 805.4h0M183.7 854.8h0M178.1 813.4h0M200.8 899.8h0M186.9 885.3h0M212.0 907.2h0M287.6 961.6h0M240.5 927.2h0M201.3 891.6h0M171.6 820.8h0M173.3 810.3h0M317.1 961.6h0M179.2 835.1h0M275.9 964.2h0M236.6 952.2h0M271.5 952.3h0M185.7 840.7h0M170.9 830.6h0M260.9 952.1h0M231.5 927.3h0M166.5 808.5h0M165.5 853.1h0M232.5 944.6h0M160.1 841.4h0M180.9 882.9h0M198.6 882.2h0M244.2 954.1h0M233.8 938.0h0M208.9 901.6h0M191.2 844.2h0M247.8 962.2h0M217.0 925.8h0M196.0 872.0h0M182.1 872.5h0M190.9 876.3h0M152.6 834.5h0M167.8 825.7h0M172.7 791.8h0M265.2 967.3h0M224.1 927.8h0M186.3 895.7h0M207.5 918.2h0M159.6 832.3h0M224.1 912.5h0M184.9 878.7h0M187.5 868.2h0M176.5 796.4h0M182.0 904.5h0M150.8 826.4h0M233.4 960.2h0M256.0 960.7h0M302.7 941.8h0M202.1 877.8h0M271.3 967.8h0M183.2 799.8h0M228.4 940.0h0M164.4 820.8h0M246.4 969.9h0M154.5 840.1h0M242.2 963.3h0M210.0 926.4h0M165.7 834.8h0M180.2 889.1h0M157.3 827.0h0M223.2 937.1h0M176.2 867.4h0M159.4 852.2h0M144.7 828.3h0M190.3 900.9h0M169.2 799.3h0M192.9 881.9h0M159.1 808.9h0M217.4 935.9h0M223.9 960.5h0M176.6 876.0h0M158.8 858.8h0M172.4 860.2h0M148.9 839.0h0M188.9 862.7h0M220.7 943.3h0M159.0 801.4h0M226.5 953.8h0M222.2 948.6h0M173.2 888.2h0M175.5 897.9h0M219.6 956.8h0M161.1 814.2h0M235.9 968.4h0M142.9 843.8h0M150.3 857.7h0M172.9 880.4h0M142.9 821.7h0M178.2 913.0h0M187.6 906.0h0M136.5 828.7h0M193.9 896.4h0M188.6 911.9h0M182.8 916.2h0M141.8 813.1h0M509.0 684.0h0M239.4 958.1h0M517.3 686.3h0M163.7 882.8h0M163.7 865.2h0M503.9 690.2h0M148.9 797.1h0M144.9 834.7h0M133.7 819.1h0M152.8 813.3h0M202.1 921.7h0M135.0 850.0h0M209.9 940.9h0M171.9 902.3h0M130.5 825.4h0M166.1 794.6h0M228.7 964.2h0M191.0 917.6h0M209.9 934.4h0M151.8 820.4h0M183.4 922.6h0M168.1 892.5h0M195.2 922.9h0M150.1 808.2h0M196.3 928.5h0M197.1 938.5h0M522.9 689.2h0M123.1 827.6h0M156.5 888.2h0M126.9 811.7h0M514.4 677.5h0M515.8 667.1h0M144.4 806.2h0M203.9 928.8h0M164.9 907.7h0M129.4 841.5h0M156.3 908.5h0M189.6 891.1h0M149.7 787.8h0M214.4 944.4h0M134.9 834.4h0M523.3 679.1h0M152.0 868.2h0M212.1 951.9h0M191.6 947.4h0M116.9 820.9h0M188.4 930.0h0M157.4 876.9h0M208.3 946.3h0M168.3 868.4h0M165.0 900.3h0M160.5 780.6h0M115.9 846.8h0M131.2 801.3h0M156.6 775.3h0M156.8 915.8h0M201.7 945.1h0M521.9 673.4h0M202.6 954.6h0M140.8 862.3h0M151.6 878.3h0M173.9 928.2h0M148.7 903.2h0M139.2 854.5h0M141.3 782.4h0M516.1 658.7h0M205.6 959.7h0M134.0 778.5h0M197.5 951.1h0M113.9 838.2h0M157.9 865.4h0M152.8 779.9h0M154.2 924.0h0M117.4 826.8h0M154.5 930.5h0M146.9 777.9h0M119.3 833.7h0M135.6 864.9h0M157.6 901.8h0M117.7 854.1h0M129.7 832.1h0M147.9 888.9h0M138.6 789.0h0M529.5 672.8h0M133.6 855.9h0M125.1 835.3h0M205.0 937.3h0M143.5 868.2h0M142.2 770.1h0M131.6 790.1h0M117.7 810.4h0M140.9 896.0h0M126.5 780.4h0M529.4 666.1h0M139.8 776.2h0M133.9 900.6h0M145.5 877.1h0M135.3 770.0h0M137.9 905.2h0M136.9 801.1h0M114.1 803.9h0M126.9 898.4h0M127.1 855.9h0M185.3 950.1h0M134.2 894.3h0M124.8 861.2h0M123.4 850.9h0M137.7 889.1h0M149.5 762.3h0M529.3 688.2h0M130.7 887.5h0M539.4 694.7h0M128.8 903.9h0M127.5 909.8h0M183.7 944.6h0M119.9 885.7h0M516.9 647.8h0M121.8 870.0h0M147.6 862.9h0M126.2 804.7h0M180.9 955.2h0M163.1 915.4h0M150.0 771.7h0M116.2 860.4h0M120.8 893.4h0M127.0 795.4h0M120.3 803.4h0M133.2 882.2h0M115.4 870.8h0M189.9 953.6h0M129.2 867.9h0M179.5 928.4h0M178.1 941.5h0M173.1 934.1h0M150.8 910.5h0M142.0 913.4h0M174.7 804.1h0M143.3 883.3h0M113.7 878.6h0M543.2 687.7h0M133.8 872.6h0M143.1 755.9h0M528.7 681.9h0M170.9 942.8h0M121.3 901.6h0M118.7 797.2h0M182.0 933.7h0M150.0 920.2h0M157.6 882.7h0M121.9 909.7h0M168.2 928.9h0M129.3 850.6h0M143.6 923.2h0M154.7 936.4h0M143.1 800.0h0M138.2 878.2h0M141.1 873.4h0M175.3 951.5h0M211.1 957.6h0M124.1 787.0h0M127.1 873.7h0M136.0 759.8h0M135.0 912.2h0M166.5 938.0h0M544.4 679.7h0M153.6 942.6h0M178.1 970.8h0M137.8 918.2h0M126.0 918.2h0M538.4 670.7h0M113.4 792.7h0M520.1 654.2h0M517.7 630.7h0M165.0 945.5h0M519.0 640.9h0M118.2 781.3h0M121.6 773.5h0M136.0 795.5h0M549.0 687.0h0M159.9 938.8h0M144.7 907.9h0M120.2 916.1h0M526.4 652.6h0M167.9 955.0h0M546.4 670.4h0M531.5 659.4h0M129.7 763.4h0M186.1 958.4h0M131.7 918.9h0M522.5 646.3h0M127.3 923.9h0M524.4 632.4h0M159.3 946.6h0M158.7 953.4h0M145.8 940.7h0M125.3 768.8h0M115.4 910.3h0M119.4 764.3h0M118.0 787.3h0M153.9 949.7h0M169.8 948.5h0M545.4 663.3h0M121.2 925.4h0M137.9 929.4h0M529.5 647.4h0M171.8 980.0h0M529.6 640.3h0M171.4 971.6h0M549.4 693.7h0M152.5 958.7h0M134.8 923.8h0M189.1 923.6h0M165.1 970.3h0M115.8 769.9h0M151.1 964.8h0M144.1 787.4h0M557.3 699.0h0M145.1 966.0h0M131.0 928.6h0M534.5 630.9h0M129.7 757.2h0M542.0 627.5h0M146.4 971.9h0M545.9 631.9h0M551.0 699.8h0M540.0 636.2h0M146.4 955.2h0M167.3 975.8h0M540.3 652.6h0M135.6 937.7h0M123.8 933.7h0M521.2 625.9h0M115.4 921.0h0M141.9 961.0h0M557.0 684.5h0M536.2 646.3h0M115.6 927.2h0M116.1 933.1h0M123.4 944.1h0M546.8 648.6h0M113.6 762.1h0M157.9 976.0h0M117.6 757.6h0M543.0 643.1h0M162.5 961.8h0M154.6 969.6h0M140.7 974.3h0M129.8 952.1h0M137.8 957.1h0M552.0 630.6h0M552.3 623.7h0M151.7 984.2h0M142.8 949.2h0M544.7 617.5h0M117.6 951.3h0M152.3 977.6h0M528.9 613.2h0M148.9 946.1h0M157.0 962.8h0M166.2 985.8h0M144.7 984.1h0M149.0 989.5h0M551.3 612.4h0M531.2 618.3h0M138.2 945.7h0M138.5 967.6h0M564.9 668.5h0M130.8 975.4h0M130.2 934.7h0M533.1 652.6h0M157.3 983.5h0M551.3 658.7h0M114.3 939.0h0M546.4 637.7h0M153.1 801.1h0M131.3 942.9h0M567.3 684.6h0M156.1 991.6h0M545.9 609.4h0M124.4 982.3h0M177.9 1005.6h0M536.5 612.2h0M136.4 951.0h0M559.6 659.0h0M525.5 599.9h0M561.8 653.7h0M163.3 992.3h0M124.7 971.0h0M126.4 958.2h0M179.0 995.1h0M114.2 969.7h0M139.6 980.7h0M572.0 651.4h0M565.6 630.4h0M573.6 640.2h0M562.7 647.3h0M120.7 956.8h0M126.0 965.0h0M172.2 1007.6h0M119.4 963.8h0M134.3 985.8h0M556.4 648.4h0M560.8 626.7h0M143.5 998.7h0M168.8 998.7h0M117.7 977.9h0M133.4 960.7h0M540.7 606.0h0M545.9 656.1h0M159.1 1000.7h0M141.9 989.2h0M559.4 618.0h0M145.2 978.0h0M173.7 966.0h0M124.4 950.4h0M163.7 1005.4h0M576.4 619.0h0M175.2 999.5h0M168.8 1016.5h0M569.1 645.7h0M150.7 997.9h0M164.1 1026.6h0M580.0 630.0h0M559.2 642.3h0M555.3 603.6h0M159.6 1037.6h0M158.1 1027.6h0M560.8 612.0h0M586.6 631.2h0M117.9 987.3h0M586.4 651.7h0M130.0 990.4h0M584.7 640.9h0M136.6 993.6h0M576.7 646.2h0M590.3 641.4h0M159.1 1009.4h0M146.0 1008.8h0M161.2 1020.2h0M164.6 1034.0h0M596.2 648.9h0M594.1 632.7h0M154.9 1019.4h0M138.3 1001.8h0M569.8 607.5h0M152.2 1003.7h0M130.6 996.0h0M148.3 1025.0h0M167.3 1010.6h0M122.7 997.4h0M113.7 993.8h0M580.4 637.0h0M590.5 647.7h0M605.1 644.3h0M162.5 1014.2h0M133.1 1009.8h0M599.8 625.4h0M150.7 1015.6h0M592.7 627.0h0M154.3 1034.3h0M588.3 620.6h0M124.3 989.8h0M591.2 614.4h0M144.1 1016.5h0M576.1 605.9h0M590.4 608.3h0M169.8 1024.3h0M599.9 615.3h0M582.5 592.3h0M139.1 1013.1h0M587.5 600.3h0M601.8 634.6h0M150.5 1041.2h0M140.5 1007.3h0M122.3 1014.4h0M142.2 1038.3h0M607.1 629.7h0M138.1 1025.2h0M114.1 1017.0h0M598.2 607.2h0M121.6 1023.3h0M147.2 1046.9h0M605.5 620.6h0M126.8 1032.6h0M138.3 1049.5h0M602.2 601.8h0M143.0 1028.6h0M114.8 1024.0h0M152.9 1009.4h0M135.8 1032.7h0M115.7 1031.2h0M127.7 1024.0h0M603.9 608.0h0M135.4 1059.3h0M595.2 583.4h0M609.9 607.4h0M133.0 1022.1h0M151.9 1056.2h0M606.3 590.6h0M114.9 1010.9h0M136.0 1065.1h0M610.1 624.5h0M130.4 1054.8h0M611.6 599.7h0M609.9 638.6h0M128.4 1046.4h0M147.9 1035.7h0M120.1 1038.6h0M145.1 1062.8h0M608.4 580.7h0M134.4 1043.8h0M140.7 1044.1h0M599.1 587.4h0M123.7 1052.9h0M130.1 1069.6h0M141.4 1058.2h0M123.7 1059.8h0M130.7 1036.8h0M134.6 1016.7h0M120.1 1071.7h0M113.6 1037.1h0M126.0 1041.3h0M609.1 567.3h0M129.2 1063.2h0M115.5 1066.1h0M602.3 566.3h0M118.1 1059.7h0M123.8 1067.2h0M121.2 1044.9h0M601.8 582.4h0M122.1 1029.4h0M607.1 573.7h0M153.1 1049.6h0M119.8 1080.8h0M114.2 1074.5h0" stroke="#009655"/><path d="M406.9 792.0h0M395.5 862.4h0M417.0 827.2h0M417.2 812.6h0M408.3 766.2h0M408.9 839.2h0M393.6 871.4h0M410.6 782.8h0M402.7 859.4h0M420.1 840.0h0M411.5 799.9h0M395.3 877.4h0M422.1 816.1h0M425.3 822.6h0M411.8 773.8h0M412.0 855.3h0M416.2 860.1h0M419.5 803.3h0M410.8 866.0h0M428.0 814.3h0M407.5 754.4h0M402.8 878.2h0M410.4 849.0h0M405.8 771.6h0M408.0 743.6h0M426.0 831.3h0M403.2 871.8h0M424.6 858.3h0M414.1 794.9h0M429.3 841.7h0M428.5 807.3h0M423.8 874.9h0M400.9 865.0h0M390.5 882.9h0M436.9 805.3h0M426.0 799.8h0M399.8 776.8h0M412.9 749.4h0M428.7 774.5h0M424.5 868.0h0M426.7 768.0h0M415.7 739.7h0M436.0 815.4h0M414.5 768.8h0M430.0 872.4h0M436.3 769.9h0M383.4 895.2h0M408.8 871.7h0M431.5 861.2h0M428.8 847.6h0M428.5 792.3h0M433.9 796.7h0M410.0 877.5h0M419.4 757.2h0M405.2 883.3h0M416.5 781.7h0M413.7 882.8h0M435.3 867.3h0M417.5 835.0h0M421.0 765.6h0M416.8 892.9h0M396.8 889.7h0M421.3 882.4h0M388.7 888.9h0M430.3 835.3h0M435.0 846.4h0M421.8 743.1h0M425.9 780.1h0M431.4 885.0h0M425.3 837.7h0M438.7 852.8h0M426.4 758.1h0M443.5 847.2h0M430.5 749.2h0M430.0 786.1h0M438.4 789.2h0M438.7 781.5h0M439.5 863.6h0M450.5 848.5h0M433.6 754.5h0M434.2 763.5h0M426.6 735.5h0M425.1 723.2h0M447.5 839.9h0M445.6 776.1h0M393.2 908.5h0M433.0 780.0h0M438.3 775.4h0M432.5 740.1h0M446.6 855.6h0M388.1 912.9h0M397.2 914.0h0M421.9 890.4h0M443.3 763.5h0M402.9 893.9h0M402.3 911.0h0M447.6 868.6h0M440.2 880.7h0M411.2 894.2h0M445.4 863.1h0M440.5 736.0h0M389.8 921.4h0M444.8 741.4h0M416.8 899.8h0M453.9 868.2h0M452.4 745.2h0M426.6 895.1h0M434.9 894.0h0M455.0 819.9h0M441.2 795.5h0M452.1 762.4h0M456.8 810.6h0M417.1 887.3h0M408.8 888.1h0M406.8 899.1h0M456.4 838.8h0M421.1 914.0h0M404.3 922.6h0M448.5 736.0h0M443.7 808.4h0M421.9 905.7h0M451.5 815.2h0M430.0 905.8h0M407.2 932.1h0M441.4 869.1h0M457.8 830.4h0M442.3 730.4h0M464.6 857.1h0M449.7 793.4h0M454.4 785.1h0M453.6 874.8h0M452.0 731.6h0M444.9 800.4h0M436.7 858.6h0M382.8 929.8h0M445.1 784.0h0M421.9 921.3h0M390.3 930.6h0M449.3 722.0h0M410.2 940.0h0M428.6 914.7h0M426.6 925.5h0M446.9 886.6h0M419.2 941.9h0M460.6 750.0h0M441.9 723.4h0M454.8 798.9h0M401.0 941.1h0M394.9 942.9h0M452.4 833.8h0M438.5 913.4h0M463.0 828.3h0M415.3 947.9h0M463.6 841.9h0M452.9 885.7h0M405.7 945.1h0M446.5 892.2h0M458.9 803.5h0M436.3 899.8h0M456.0 790.5h0M432.1 921.8h0M408.2 950.5h0M436.3 906.9h0M452.3 891.8h0M384.8 938.0h0M452.8 768.4h0M462.6 783.4h0M458.9 892.4h0M443.0 900.0h0M375.9 931.9h0M455.7 736.6h0M453.7 898.9h0M435.3 931.7h0M399.2 950.7h0M393.8 935.2h0M378.7 940.1h0M455.7 721.3h0M372.7 940.6h0M459.7 815.7h0M451.5 773.9h0M467.0 821.2h0M416.5 919.2h0M364.5 937.6h0M463.7 848.9h0M439.3 922.4h0M414.0 953.4h0M440.2 934.5h0M419.4 957.9h0M458.2 882.6h0M463.4 727.1h0M468.8 852.6h0M472.1 807.8h0M445.3 769.7h0M466.5 882.2h0M472.6 861.4h0M479.2 812.8h0M462.2 887.5h0M388.6 943.4h0M444.6 926.4h0M472.6 794.7h0M389.3 952.9h0M471.9 825.9h0M453.1 923.3h0M400.7 966.1h0M468.7 831.5h0M383.7 948.4h0M383.7 955.5h0M375.4 948.7h0M446.4 919.2h0M470.3 844.7h0M467.8 747.2h0M487.7 811.9h0M468.1 891.0h0M466.5 776.2h0M469.8 769.2h0M482.0 859.1h0M460.5 861.2h0M461.8 897.3h0M425.2 946.6h0M473.3 755.3h0M469.8 783.3h0M450.2 914.7h0M471.2 731.2h0M462.1 720.0h0M477.5 825.2h0M395.5 956.4h0M468.3 710.7h0M433.6 952.4h0M453.5 779.3h0M476.0 802.8h0M383.0 962.0h0M496.4 812.1h0M443.1 907.3h0M435.9 942.3h0M475.4 831.8h0M475.8 727.6h0M409.3 965.1h0M480.4 767.0h0M481.7 835.3h0M372.9 954.6h0M468.9 800.2h0M462.5 836.1h0M460.6 906.8h0M474.3 773.7h0M485.2 797.0h0M489.5 889.8h0M449.9 908.6h0M476.1 780.3h0M392.4 948.1h0M487.5 866.5h0M425.4 952.7h0M426.9 901.0h0M474.7 848.3h0M468.3 838.0h0M453.1 827.1h0M365.7 945.6h0M447.5 935.6h0M453.3 934.1h0M489.3 840.1h0M441.4 945.0h0M483.7 728.0h0M419.9 972.5h0M487.0 766.6h0M485.5 773.9h0M467.6 718.8h0M466.6 737.8h0M479.0 793.6h0M490.1 883.7h0M471.2 907.0h0M356.6 952.8h0M487.6 858.4h0M479.8 905.1h0M473.0 894.7h0M476.2 738.3h0M479.8 870.0h0M477.7 714.9h0M487.4 908.1h0M491.7 896.7h0M484.9 714.0h0M432.3 967.6h0M462.2 917.2h0M429.9 975.9h0M444.3 790.1h0M423.3 979.8h0M463.4 714.1h0M467.5 788.7h0M475.4 744.4h0M480.3 761.1h0M484.8 844.3h0M484.1 805.4h0M473.4 787.7h0M350.8 954.4h0M482.2 753.7h0M487.7 755.7h0M494.3 778.8h0M365.6 951.6h0M456.0 910.7h0M494.6 836.6h0M485.9 706.4h0M465.8 903.9h0M501.7 852.9h0M494.3 768.7h0M356.2 947.0h0M482.1 747.8h0M429.9 982.5h0M435.8 972.3h0M430.0 942.2h0M488.5 790.7h0M364.0 957.6h0M424.3 960.6h0M493.6 800.0h0M495.7 790.0h0M424.2 985.5h0M509.8 847.4h0M477.5 864.6h0M496.6 750.9h0M399.6 978.8h0M417.7 978.1h0M493.3 877.1h0M501.0 771.3h0M494.5 714.5h0M440.3 952.5h0M386.2 980.6h0M449.3 929.8h0M403.6 974.4h0M492.6 762.7h0M490.8 750.7h0M503.7 747.5h0M404.4 984.7h0M397.3 991.3h0M380.6 967.3h0M470.8 920.5h0M491.3 774.1h0M294.0 975.1h0M484.9 738.3h0M435.0 985.7h0M499.1 763.8h0M499.7 892.7h0M327.6 958.7h0M495.9 705.1h0M495.4 735.1h0M500.0 883.4h0M411.8 987.9h0M501.4 807.5h0M390.8 975.6h0M479.9 774.8h0M500.3 793.6h0M437.8 994.1h0M502.8 711.0h0M495.5 888.3h0M505.3 777.3h0M478.5 733.0h0M496.5 842.0h0M441.1 981.7h0M498.3 826.6h0M443.6 992.7h0M450.7 940.4h0M494.3 870.8h0M414.3 973.4h0M437.0 961.7h0M444.8 966.9h0M499.9 781.8h0M506.7 827.4h0M430.6 959.1h0M504.8 868.3h0M458.7 939.3h0M493.2 906.9h0M495.7 861.8h0M514.1 886.4h0M442.6 960.6h0M441.8 974.9h0M367.5 963.7h0M503.8 860.5h0M437.1 1001.5h0M500.6 874.9h0M402.8 999.9h0M406.8 992.0h0M492.2 709.3h0M373.5 961.6h0M420.7 926.9h0M507.2 753.6h0M450.3 950.7h0M342.1 972.3h0M460.9 947.9h0M504.3 846.0h0M362.4 984.4h0M498.4 848.3h0M500.6 702.1h0M379.6 983.3h0M337.6 960.3h0M487.9 744.1h0M352.0 967.3h0M500.3 740.4h0M424.3 995.9h0M488.1 916.8h0M507.4 853.0h0M450.1 956.8h0M510.7 758.0h0M448.6 997.0h0M512.1 812.5h0M456.5 917.2h0M341.9 979.6h0M335.0 973.1h0M519.6 807.3h0M455.5 953.6h0M427.2 991.0h0M353.0 959.7h0M506.9 741.9h0M517.5 826.4h0M493.4 819.3h0M509.3 798.6h0M519.1 838.9h0M464.5 943.6h0M346.5 962.8h0M451.6 975.5h0M493.7 923.1h0M351.4 983.5h0M444.7 940.5h0M319.6 970.5h0M328.4 970.4h0M417.0 993.0h0M506.0 793.4h0M499.9 923.2h0M445.8 987.1h0M309.4 967.4h0M313.7 975.7h0M498.5 904.1h0M509.5 804.5h0M344.0 954.7h0M486.3 925.5h0M392.8 1001.3h0M471.2 931.4h0M348.4 972.8h0M505.9 812.6h0M508.5 927.3h0M453.1 991.7h0M501.8 931.9h0M506.8 697.1h0M476.7 918.7h0M509.0 937.8h0M412.6 997.6h0M456.6 960.2h0M463.9 955.7h0M283.8 973.5h0M499.5 941.5h0M516.4 758.4h0M504.4 919.3h0M330.4 980.1h0M376.5 972.0h0M462.5 923.0h0M362.8 967.7h0M391.3 992.9h0M331.2 963.4h0M511.1 869.0h0M492.5 806.2h0M480.3 925.9h0M464.6 930.3h0M510.8 767.2h0M254.2 970.6h0M475.7 900.7h0M519.8 893.8h0M470.5 940.1h0M390.1 1006.7h0M519.6 846.8h0M456.5 981.6h0M273.4 975.2h0M509.3 705.0h0M516.0 749.1h0M398.5 984.3h0M493.3 756.3h0M514.4 801.6h0M520.4 796.1h0M510.5 714.9h0M517.4 765.4h0M516.0 779.2h0M373.9 990.1h0M525.6 844.0h0M501.4 728.5h0M503.9 734.9h0M459.0 970.6h0M466.9 987.1h0M529.5 790.5h0M514.9 922.2h0M514.4 880.1h0M522.2 830.7h0M462.1 992.7h0M522.6 876.0h0M474.0 963.2h0M342.0 966.3h0M470.9 955.8h0M458.6 999.8h0M476.3 972.8h0M510.7 832.3h0M524.4 756.1h0M517.4 868.7h0M525.3 894.8h0M529.5 829.7h0M479.9 967.3h0M260.2 971.8h0M537.7 782.9h0M431.6 1004.3h0M287.2 985.5h0M484.0 962.5h0M465.0 937.5h0M369.1 993.4h0M507.5 728.2h0M250.6 977.7h0M385.4 1014.2h0M507.7 784.3h0M424.6 1011.7h0M319.8 981.5h0M527.5 851.5h0M525.3 860.2h0M511.4 788.5h0M310.3 981.3h0M516.2 703.5h0M529.5 878.9h0M521.8 750.2h0M506.8 771.4h0M531.2 855.7h0M502.5 788.2h0M525.0 762.1h0M263.4 985.2h0M524.4 924.7h0M271.3 990.8h0M355.4 988.3h0M450.5 1005.5h0M523.5 771.0h0M532.4 776.5h0M520.0 723.1h0M523.0 930.9h0M523.6 866.8h0M227.3 970.9h0M397.5 997.7h0M523.0 743.9h0M424.9 1003.9h0M511.5 917.0h0M472.7 945.3h0M386.5 997.0h0M536.3 789.1h0M543.2 792.5h0M359.8 992.0h0M510.5 737.1h0M478.7 960.2h0M546.0 785.4h0M505.8 764.1h0M526.1 798.9h0M447.4 945.6h0M535.0 860.5h0M531.1 922.2h0M532.7 844.8h0M376.2 996.2h0M539.1 850.1h0M522.8 728.8h0M535.8 826.8h0M537.9 834.7h0M516.5 729.5h0M517.8 736.9h0M523.7 736.8h0M477.4 932.3h0M530.8 890.2h0M430.6 1019.7h0M529.1 872.0h0M476.8 941.3h0M540.7 840.8h0M483.2 940.5h0M468.0 979.3h0M485.3 947.0h0M514.9 935.3h0M485.2 979.1h0M517.5 697.5h0M537.3 890.2h0M524.9 720.2h0M543.7 771.6h0M467.0 969.6h0M532.6 933.7h0M382.1 1000.6h0M547.2 856.3h0M305.0 978.5h0M519.4 787.1h0M484.6 956.3h0M475.2 994.5h0M526.9 823.0h0M541.0 880.8h0M530.1 726.1h0M292.9 981.2h0M462.9 975.6h0M527.7 750.9h0M449.7 970.1h0M516.8 771.3h0M526.6 714.0h0M525.3 702.5h0M517.4 952.2h0M533.9 838.6h0M533.4 769.5h0M533.8 896.2h0M467.8 996.7h0M543.3 846.0h0M239.8 976.1h0M392.8 1029.8h0M540.0 869.9h0M536.9 908.9h0M538.1 765.6h0M329.2 986.5h0M220.3 969.2h0M414.2 1008.0h0M492.7 953.3h0M542.8 818.8h0M254.9 981.5h0M490.6 939.5h0M429.7 1027.0h0M233.8 978.1h0M514.1 874.1h0M486.8 988.0h0M247.2 984.6h0M254.2 988.7h0M490.7 933.1h0M525.5 810.0h0M516.4 833.8h0M546.6 766.1h0M388.6 1023.0h0M532.1 708.6h0M391.6 1018.2h0M557.5 765.1h0M469.7 1003.6h0M442.0 1004.3h0M543.8 830.4h0M292.3 988.4h0M323.4 986.3h0M541.1 899.2h0M536.2 730.1h0M532.3 799.3h0M463.4 1003.6h0M556.3 841.4h0M295.7 998.2h0M543.1 710.0h0M529.7 735.4h0M264.8 992.3h0M540.4 927.1h0M544.0 759.5h0M533.7 744.7h0M553.4 757.9h0M498.2 962.2h0M540.2 939.5h0M481.6 990.2h0M238.3 986.1h0M538.1 759.2h0M538.9 751.3h0M556.1 852.0h0M399.3 1025.1h0M532.9 756.9h0M510.9 746.7h0M412.5 1026.1h0M535.6 737.3h0M447.3 1010.1h0M565.7 842.2h0M425.5 1031.1h0M520.5 919.4h0M490.0 994.3h0M546.5 754.4h0M523.5 952.6h0M555.2 747.3h0M552.9 861.5h0M437.0 1013.2h0M376.9 1004.3h0M541.3 737.3h0M442.0 998.2h0M529.2 741.1h0M549.0 904.6h0M437.7 1019.6h0M276.4 1010.4h0M541.2 824.1h0M563.8 836.4h0M487.8 969.0h0M398.9 1017.1h0M518.3 913.8h0M528.1 817.3h0M398.8 1010.9h0M278.2 990.2h0M442.8 1016.2h0M549.3 889.1h0M271.0 1006.1h0M284.8 994.2h0M263.7 998.2h0M501.4 949.8h0M540.2 855.8h0M532.5 720.2h0M409.4 1033.0h0M531.2 928.2h0M290.7 995.5h0M242.3 993.8h0M547.9 748.9h0M258.8 992.2h0M559.6 758.9h0M257.7 997.9h0M398.0 1035.7h0M299.2 1007.8h0M526.9 694.1h0M561.4 860.5h0M536.7 704.8h0M513.9 941.4h0M545.4 875.6h0M510.9 953.9h0M414.6 1043.1h0M278.5 1004.7h0M535.6 943.0h0M558.4 887.8h0M537.1 713.4h0M557.6 901.2h0M287.1 999.9h0M543.4 803.4h0M543.3 905.6h0M507.2 946.9h0M412.3 1019.9h0M518.7 959.1h0M505.3 957.7h0M551.5 872.2h0M545.7 915.2h0M560.0 845.7h0M513.2 962.6h0M336.7 1012.3h0M284.0 1008.4h0M547.8 739.5h0M263.8 1010.1h0M536.5 915.0h0M526.3 947.6h0M564.0 753.4h0M555.5 792.6h0M249.7 995.8h0M533.5 805.6h0M484.1 998.6h0M554.8 896.2h0M436.5 1025.6h0M235.9 995.6h0M256.7 1008.6h0M303.8 990.5h0M252.4 1001.4h0M574.2 761.4h0M551.5 828.7h0M544.3 885.9h0M229.6 991.5h0M569.8 752.6h0M260.0 1003.0h0M405.1 1040.8h0M423.5 1036.4h0M297.5 1016.0h0M541.0 812.6h0M541.5 933.5h0M407.4 1023.4h0M345.4 1017.7h0M532.0 698.1h0M266.0 1003.5h0M556.3 800.1h0M223.3 993.8h0M576.8 767.6h0M560.5 741.4h0M519.3 939.1h0M333.0 1007.2h0M476.1 1002.3h0M564.5 806.3h0M306.7 1000.4h0M243.7 1000.6h0M533.3 813.0h0M223.3 999.5h0M499.3 955.8h0M565.5 866.9h0M215.1 976.9h0M578.7 773.1h0M244.7 1007.9h0M305.5 984.6h0M219.9 985.3h0M586.9 777.9h0M565.9 797.3h0M500.6 992.0h0M332.9 1022.2h0M547.7 924.8h0M385.2 1037.5h0M229.8 1005.2h0M310.7 992.6h0M309.4 1006.1h0M205.1 968.6h0M506.6 965.7h0M329.3 1030.8h0M539.6 720.8h0M318.6 993.9h0M581.3 762.2h0M255.3 1015.3h0M509.7 971.3h0M584.4 771.8h0M324.1 996.2h0M507.3 981.9h0M587.5 787.9h0M555.0 919.3h0M433.4 1033.2h0M337.6 1018.1h0M213.8 988.6h0M401.0 1030.7h0M190.9 966.0h0M551.6 909.7h0M338.7 1031.7h0M325.6 1014.7h0M322.4 1006.7h0M580.4 780.6h0M592.5 768.5h0M361.9 1036.7h0M557.9 906.9h0M572.0 910.0h0M228.4 1014.7h0M214.9 1000.7h0M317.4 1009.6h0M595.0 780.2h0M338.5 1023.8h0M389.5 1041.8h0M221.4 976.3h0M304.6 1012.4h0M511.6 774.9h0M334.4 1037.9h0M300.1 967.9h0M491.4 974.6h0M218.5 1004.9h0M242.2 1015.1h0M331.4 1015.8h0M526.8 935.1h0M340.5 1038.3h0M575.1 793.0h0M352.5 1025.1h0M398.8 1052.2h0M324.4 976.8h0M208.8 998.0h0M249.4 1015.6h0M568.4 892.5h0M291.6 1014.0h0M547.8 933.3h0M568.4 730.1h0M577.1 785.6h0M559.3 915.2h0M581.3 903.9h0M348.7 1040.2h0M574.0 869.3h0M584.8 895.1h0M582.4 794.9h0M390.3 1055.2h0M326.9 1020.4h0M573.6 850.8h0M355.2 1034.7h0M229.5 997.7h0M333.5 1046.7h0M356.0 1044.4h0M599.2 773.8h0M578.9 911.7h0M203.1 987.4h0M323.4 1040.1h0M361.5 1042.4h0M490.5 981.9h0M263.6 1015.9h0M287.2 1020.1h0M572.9 801.3h0M266.2 1023.8h0M205.0 977.5h0M593.4 895.9h0M574.6 734.9h0M581.1 802.0h0M257.7 1022.8h0M493.7 967.7h0M209.9 974.3h0M322.5 1033.8h0M589.9 905.1h0M553.7 741.0h0M579.2 854.8h0M587.2 802.4h0M561.7 735.0h0M294.2 1030.3h0M562.4 895.4h0M578.9 844.6h0M180.6 976.2h0M343.3 1045.7h0M198.8 978.5h0M207.3 991.1h0M304.7 1023.5h0M317.0 1015.6h0M288.0 1033.5h0M317.9 988.2h0M212.9 1006.9h0M600.1 760.5h0M190.1 977.0h0M576.5 740.2h0M207.1 1005.6h0M588.9 851.3h0M574.4 808.3h0M271.8 1029.6h0M500.9 981.7h0M579.4 814.2h0M605.7 772.0h0M567.3 722.1h0M575.6 746.5h0M569.8 857.1h0M586.1 737.7h0M585.3 840.8h0M558.1 752.2h0M371.7 1045.6h0M576.2 900.8h0M593.8 864.3h0M570.2 900.3h0M584.6 869.5h0M223.8 1019.5h0M299.3 1025.6h0M308.3 1018.6h0M390.2 1067.3h0M542.9 703.5h0M304.4 1029.6h0M595.4 872.3h0M591.4 845.7h0M594.1 785.9h0M582.4 732.8h0M586.9 815.4h0M598.6 891.9h0M590.6 794.1h0M279.5 1030.8h0M550.1 707.9h0M583.5 808.5h0M268.0 1034.2h0M236.6 1017.3h0M376.5 1048.6h0M218.5 1015.3h0M586.6 911.5h0M383.0 1048.5h0M362.5 1051.9h0M293.8 1040.9h0M392.0 1060.8h0M317.0 1032.7h0M574.3 892.1h0M587.4 753.2h0M590.8 808.1h0M595.9 791.6h0M313.4 1042.2h0M366.0 1057.9h0M243.0 1025.5h0M575.3 728.1h0M202.3 998.4h0M309.5 1026.6h0M593.6 831.3h0M272.0 1039.7h0M564.7 887.3h0M319.4 1021.4h0M601.3 786.4h0M264.7 1039.2h0M330.4 1056.1h0M598.2 835.2h0M384.3 1065.9h0M250.0 1021.3h0M576.6 719.7h0M382.2 1074.7h0M259.4 1029.6h0M339.9 1052.6h0M253.7 1029.0h0M334.6 1027.9h0M591.0 720.9h0M603.5 755.0h0M570.7 712.9h0M599.6 903.0h0M366.3 1064.8h0M601.9 779.7h0M348.5 1048.8h0M574.0 878.9h0M196.3 998.2h0M378.6 1060.1h0M287.8 1027.3h0M612.6 868.3h0M605.0 854.1h0M371.3 1068.4h0M566.2 699.7h0M267.4 1046.3h0M317.3 1060.7h0M599.2 858.7h0M287.6 1042.7h0M195.2 985.5h0M258.9 1036.1h0M201.3 992.9h0M599.0 828.9h0M303.3 1044.5h0M598.3 821.9h0M577.5 704.9h0M592.9 745.7h0M184.2 981.6h0M336.0 1065.3h0M607.8 847.8h0M584.7 846.7h0M565.9 709.0h0M282.4 1040.2h0M375.8 1074.7h0M586.5 900.6h0M605.9 872.6h0M586.6 746.7h0M272.0 1049.8h0M207.0 1011.3h0M609.7 759.0h0M584.3 696.5h0M581.8 723.5h0M308.9 1036.4h0M569.8 694.7h0M607.9 778.4h0M570.1 885.3h0M253.0 1044.3h0M231.3 1035.3h0M357.5 1058.4h0M247.2 1032.5h0M582.7 707.2h0M211.9 1014.7h0M376.3 1054.8h0M351.4 1055.3h0M285.8 1051.9h0M576.8 696.5h0M554.8 704.5h0M592.0 710.5h0M609.9 788.3h0M225.5 1033.7h0M597.8 809.6h0M586.4 887.5h0M603.3 897.3h0M576.0 884.4h0M593.3 737.9h0M592.0 774.8h0M191.7 1008.9h0M349.0 1060.8h0M277.0 1044.2h0M291.4 1050.0h0M223.1 1040.7h0M218.2 1023.2h0M355.1 1065.3h0M208.6 1020.5h0M600.4 743.7h0M597.5 847.3h0M233.4 1041.5h0M365.6 1046.3h0M595.6 800.6h0M606.4 828.4h0M579.9 891.6h0M590.3 695.4h0M597.4 886.2h0M607.2 745.7h0M193.1 993.2h0M562.3 704.0h0M580.8 881.1h0M600.0 796.2h0M211.7 1028.1h0M226.0 1045.8h0M604.7 790.9h0M187.7 991.4h0M606.2 817.0h0M252.3 1050.7h0M598.5 768.1h0M596.7 726.4h0M189.7 983.7h0M594.8 704.9h0M258.6 1043.4h0M602.9 711.9h0M595.3 815.6h0M251.9 1038.7h0M202.0 1014.5h0M265.1 1053.8h0M195.7 1004.2h0M603.3 844.2h0M360.9 1079.1h0M271.3 1057.8h0M372.8 1060.2h0M603.9 737.2h0M327.0 1067.2h0M369.4 1074.9h0M611.2 884.6h0M333.3 1074.2h0M274.4 1063.2h0M289.3 1059.9h0M237.5 1037.1h0M594.2 732.3h0M282.9 1063.3h0M353.9 1080.2h0M263.0 1063.7h0M357.0 1073.9h0M206.5 1032.7h0M609.7 752.1h0M612.3 737.4h0M589.4 873.2h0M584.4 876.8h0M178.8 985.6h0M607.6 798.1h0M200.8 1029.3h0M244.9 1041.6h0M193.5 1027.9h0M603.7 730.7h0M578.7 875.2h0M604.6 883.6h0M217.4 1044.0h0M372.3 1079.8h0M210.1 1042.1h0M255.9 1055.7h0M609.5 724.9h0M601.3 722.7h0M202.5 1040.3h0M348.8 1077.8h0M275.0 1072.3h0M340.9 1071.0h0M308.6 1072.6h0M297.3 1048.4h0M608.9 823.2h0M242.5 1048.4h0M186.0 1031.8h0M609.7 810.6h0M294.9 1054.6h0M610.1 730.5h0M611.8 817.7h0M257.8 1061.0h0M588.8 701.8h0M574.8 660.0h0M257.9 1049.7h0M182.4 1009.5h0M265.4 1069.3h0M591.4 890.4h0M321.3 1067.1h0M195.3 1034.6h0M258.7 1072.1h0M228.7 1051.8h0M219.3 1050.0h0M297.8 1063.4h0M338.4 1080.3h0M260.6 1079.1h0M610.3 841.9h0M280.0 1069.4h0M602.9 801.3h0M189.6 1036.6h0M340.9 1061.5h0M190.7 1042.2h0M251.4 1059.9h0M292.0 1065.0h0M577.8 689.4h0M241.0 1031.6h0M329.4 1061.9h0M303.0 1067.1h0M192.0 1017.8h0M248.1 1071.8h0M329.9 1041.8h0M581.9 663.1h0M212.7 1052.7h0M218.0 1057.4h0M345.0 1087.9h0M596.4 686.5h0M350.7 1091.9h0M233.4 1055.8h0M186.0 1014.8h0M297.7 1071.7h0M230.1 1060.6h0M221.8 1063.8h0M237.6 1064.0h0M243.4 1066.8h0M355.7 1095.4h0M336.2 1088.0h0M224.0 1055.5h0M213.4 1063.2h0M178.8 1034.3h0M345.8 1096.7h0M209.3 1057.4h0M330.7 1084.0h0M245.0 1077.7h0M268.2 1080.8h0M204.7 1054.2h0M251.7 1065.8h0M343.7 1082.1h0M174.2 1043.4h0M312.4 1056.1h0M319.7 1075.4h0M280.0 1080.1h0M608.9 684.1h0M318.8 1083.0h0M252.6 1085.8h0M309.7 1080.5h0M197.2 1055.7h0M238.2 1074.2h0M253.3 1076.0h0M173.1 1029.1h0M237.4 1080.6h0M193.1 1048.6h0M184.3 1048.0h0M164.8 1047.0h0M583.3 687.8h0M170.3 1036.0h0M182.3 1019.0h0M340.2 1093.4h0M182.7 1041.4h0M219.2 1068.9h0M250.2 1090.9h0M304.1 1092.0h0M201.4 1059.9h0M302.8 1060.8h0M206.4 1062.5h0M607.9 708.0h0M234.1 1068.6h0M306.8 1086.9h0M186.1 1053.7h0M594.2 676.9h0M268.8 1063.3h0M603.5 673.3h0M190.1 1059.0h0M274.0 1082.3h0M231.2 1087.1h0M286.0 1083.7h0M225.6 1075.9h0M287.4 1098.4h0M200.1 1067.6h0M291.3 1086.4h0M246.4 1084.9h0M344.5 1102.7h0M313.0 1086.8h0M276.9 1088.9h0M586.3 679.2h0M223.5 1084.0h0M296.1 1079.3h0M591.8 670.8h0M336.2 1097.6h0M604.5 667.2h0M315.2 1100.6h0M165.7 1059.9h0M579.5 681.0h0M307.6 1098.0h0M271.4 1091.7h0M265.3 1075.0h0M593.2 653.6h0M602.8 682.2h0M329.1 1099.2h0M602.9 652.0h0M175.9 1065.4h0M258.3 1092.5h0M282.5 1090.3h0M589.4 660.5h0M325.4 1086.3h0M302.4 1100.7h0M328.6 1092.9h0M322.4 1099.2h0M281.9 1103.0h0M313.3 1105.9h0M183.8 1067.6h0M596.0 667.1h0M317.6 1095.3h0M337.5 1105.9h0M297.3 1098.3h0M599.0 658.5h0M281.4 1096.9h0M605.1 659.7h0M262.9 1087.4h0M267.4 1099.8h0M184.7 1060.8h0M303.1 1108.9h0M611.0 666.4h0M288.7 1104.1h0M304.2 1114.7h0M331.3 1108.1h0M249.6 1101.9h0M611.1 658.9h0M284.0 1111.9h0M275.8 1113.8h0M311.1 1112.1h0M239.3 1087.3h0M244.0 1094.4h0M573.3 678.7h0M266.9 1113.3h0M306.7 1120.8h0M261.9 1097.5h0M261.0 1108.5h0M216.4 1089.2h0M201.7 1083.3h0M237.9 1098.3h0M271.8 1107.7h0M254.3 1115.0h0M209.2 1090.0h0M180.6 1077.4h0M301.1 1120.5h0M203.6 1089.5h0M294.7 1115.6h0M303.4 1127.2h0M290.1 1111.4h0M277.6 1107.6h0M295.1 1126.7h0M260.3 1114.5h0M159.7 1057.1h0M242.1 1102.4h0M189.4 1079.9h0M196.8 1086.2h0M175.2 1073.1h0M247.2 1112.8h0M323.5 1119.0h0M161.5 1081.7h0M238.3 1110.8h0M270.5 1119.7h0M219.9 1096.5h0M225.5 1097.8h0M241.3 1117.9h0M201.2 1099.6h0M231.1 1117.2h0M155.0 1062.2h0M265.6 1124.2h0M249.3 1120.7h0M252.4 1109.2h0M163.9 1073.9h0M215.1 1099.3h0M207.8 1096.0h0M255.8 1125.6h0M252.1 1096.7h0M206.5 1069.8h0M160.7 1068.5h0M195.6 1096.9h0M152.8 1068.7h0M152.2 1075.7h0M279.2 1121.0h0M277.8 1128.2h0M230.8 1110.6h0M282.3 1134.6h0M218.1 1105.7h0M224.8 1116.4h0M177.6 1092.4h0M209.8 1107.8h0M206.9 1101.8h0M265.6 1131.6h0M272.0 1128.7h0M167.6 1088.7h0M220.5 1120.4h0M173.1 1096.4h0M231.8 1131.9h0M215.7 1116.7h0M196.3 1103.3h0M209.8 1118.9h0M141.4 1069.1h0M193.1 1109.1h0M202.3 1126.7h0M188.3 1103.1h0M223.9 1104.2h0M242.3 1128.5h0M150.5 1083.6h0M194.4 1114.7h0M143.0 1078.5h0M247.9 1130.3h0M195.5 1124.8h0M243.3 1135.0h0M220.6 1126.7h0M203.3 1119.5h0M257.4 1135.5h0M225.1 1136.1h0M146.6 1074.2h0M233.5 1145.1h0M215.6 1111.0h0M129.4 1080.5h0M261.0 1127.7h0M134.9 1082.1h0M275.8 1133.6h0M147.3 1090.6h0M242.0 1140.7h0M230.1 1139.7h0M187.9 1127.8h0M177.1 1127.2h0M163.0 1092.3h0M196.2 1133.6h0M126.8 1085.5h0M214.8 1134.8h0M217.0 1142.9h0M178.4 1108.0h0M179.1 1132.6h0M119.3 1086.8h0M144.5 1085.1h0M149.5 1098.5h0M167.9 1130.1h0M121.5 1093.9h0M159.2 1102.0h0M257.0 1144.2h0M266.2 1145.6h0M182.8 1139.1h0M145.1 1106.6h0M191.2 1139.5h0M173.3 1138.3h0M243.2 1147.4h0M190.3 1145.1h0M174.8 1147.1h0M254.7 1152.4h0M185.5 1133.1h0M162.3 1128.3h0M164.7 1107.0h0M251.9 1134.3h0M166.1 1142.3h0M114.0 1095.8h0M130.0 1095.7h0M168.7 1119.6h0M239.5 1152.8h0M247.8 1158.1h0M249.0 1151.4h0M135.8 1098.9h0M116.1 1103.5h0M218.3 1148.9h0M168.2 1111.6h0M209.8 1150.8h0M155.2 1109.3h0M131.0 1103.7h0M123.1 1101.9h0M161.4 1149.0h0M231.3 1153.4h0M141.0 1102.1h0M131.6 1114.0h0M182.5 1146.8h0M224.5 1150.5h0M201.7 1145.8h0M139.4 1112.1h0M155.6 1123.8h0M150.6 1117.3h0M136.3 1106.2h0M237.9 1161.4h0M159.7 1116.0h0M154.4 1141.6h0M122.9 1118.0h0M204.3 1158.9h0M185.6 1154.0h0M192.1 1157.0h0M143.3 1122.3h0M173.1 1158.7h0M195.9 1146.8h0M189.5 1162.4h0M241.4 1176.3h0M121.8 1125.2h0M182.7 1160.2h0M163.4 1122.4h0M128.9 1121.4h0M151.2 1127.6h0M177.7 1142.2h0M149.5 1133.7h0M136.9 1118.8h0M143.0 1130.6h0M219.6 1176.9h0M173.3 1152.7h0M166.3 1154.1h0M211.6 1171.3h0M191.0 1151.3h0M203.4 1178.0h0M195.4 1165.1h0M149.7 1110.7h0M213.7 1177.0h0M210.0 1192.3h0M226.9 1187.7h0M155.6 1131.2h0M205.4 1171.6h0M202.4 1165.6h0M198.8 1173.5h0M117.3 1156.3h0M174.2 1164.9h0M115.7 1132.0h0M215.5 1189.8h0M129.5 1164.6h0M137.6 1124.6h0M185.3 1171.1h0M115.0 1138.8h0M204.8 1183.5h0M181.1 1166.3h0M179.5 1172.4h0M116.5 1163.2h0M125.7 1159.3h0M222.3 1182.6h0M135.2 1164.0h0M147.8 1176.9h0M168.1 1147.9h0M114.1 1175.9h0M191.6 1179.6h0M122.1 1166.1h0M140.7 1170.6h0M124.6 1153.4h0M174.1 1174.4h0M115.4 1170.1h0M162.7 1177.6h0M190.4 1173.7h0M142.1 1177.4h0M116.1 1144.7h0M201.0 1190.6h0M135.8 1176.7h0M184.3 1178.6h0M179.8 1181.9h0M188.0 1185.0h0M193.7 1192.2h0M171.3 1179.7h0M170.2 1190.0h0M205.7 1200.0h0M164.1 1188.1h0M157.0 1188.6h0M186.6 1199.6h0M147.8 1191.6h0M119.9 1178.8h0M199.7 1203.5h0M187.5 1192.6h0M181.5 1191.3h0M136.8 1182.6h0M176.6 1198.9h0M188.7 1208.1h0M153.9 1199.2h0M168.5 1209.3h0M123.2 1185.5h0M122.0 1195.0h0M131.3 1187.4h0M141.1 1190.3h0M172.6 1214.6h0M161.9 1199.7h0M152.5 1213.1h0M116.3 1199.0h0M137.3 1198.4h0M143.8 1195.6h0M130.7 1198.6h0M158.7 1212.0h0M126.9 1203.5h0M146.4 1221.7h0M183.7 1214.8h0M145.8 1213.4h0M193.6 1186.6h0M139.9 1213.4h0M128.0 1209.9h0M200.3 1197.6h0M142.8 1232.2h0M157.3 1222.9h0M176.0 1219.4h0M120.1 1215.2h0M126.9 1215.6h0M137.7 1223.2h0M172.0 1223.4h0M161.7 1219.4h0M137.3 1234.9h0M132.8 1230.3h0M124.4 1224.8h0M143.0 1226.4h0M152.9 1219.2h0M168.8 1218.8h0M148.9 1232.7h0M162.8 1226.1h0M134.6 1210.2h0M141.5 1218.8h0M113.2 1220.5h0M119.1 1229.3h0M114.4 1235.4h0M151.8 1226.7h0M130.4 1225.0h0M459.0 548.0h0M461.0 556.0h0" stroke="#f07800"/><path d="M454.3 1013.2h0M455.5 1020.9h0M463.5 1020.6h0M447.2 1021.9h0M464.1 1010.2h0M472.2 1021.3h0M455.6 1030.3h0M470.5 1009.9h0M467.7 1015.3h0M460.5 1014.0h0M460.4 1027.7h0M478.1 1027.8h0M557.2 926.9h0M466.0 1026.5h0M474.6 1015.2h0M472.1 1029.0h0M480.3 1034.7h0M450.3 1029.4h0M562.3 918.1h0M479.9 1016.2h0M466.1 1033.8h0M480.8 1009.1h0M568.3 916.9h0M541.0 941.6h0M534.7 948.3h0M488.7 1012.0h0M473.5 1035.5h0M495.6 1003.9h0M488.8 1035.5h0M593.5 911.3h0M468.7 1044.3h0M567.2 925.7h0M514.7 970.1h0M547.2 942.6h0M540.6 946.8h0M599.3 911.2h0M438.7 1037.8h0M463.8 1052.0h0M457.4 1038.4h0M463.3 1042.7h0M500.7 1003.8h0M487.7 1030.2h0M582.1 913.5h0M492.4 1008.5h0M563.3 930.4h0M572.5 925.0h0M495.3 1014.0h0M492.7 1026.5h0M450.8 1038.6h0M543.7 952.8h0M489.1 1022.3h0M445.3 1038.4h0M495.9 1036.2h0M485.0 1018.5h0M530.1 958.3h0M570.2 931.8h0M559.9 938.7h0M441.9 1042.8h0M485.0 1025.4h0M459.0 1049.7h0M608.3 912.0h0M432.6 1042.8h0M499.0 1023.1h0M588.2 919.9h0M454.2 1044.7h0M425.7 1042.3h0M470.6 1049.3h0M536.0 957.4h0M448.4 1043.4h0M484.4 1040.2h0M520.5 968.9h0M451.1 1051.1h0M500.6 1010.3h0M547.1 956.6h0M579.6 934.1h0M577.5 922.4h0M581.3 926.9h0M595.2 918.7h0M523.5 974.0h0M459.6 1055.1h0M492.8 1031.8h0M600.5 923.0h0M572.7 919.9h0M587.5 934.6h0M551.4 947.1h0M591.3 928.0h0M509.9 981.9h0M533.8 965.8h0M611.2 906.5h0M465.9 1058.7h0M540.2 964.4h0M488.1 1048.8h0M442.6 1048.7h0M425.2 1049.0h0M443.7 1056.4h0M506.4 1009.0h0M473.2 1041.2h0M457.1 1062.6h0M436.1 1051.6h0M508.4 1014.5h0M516.9 1002.9h0M543.3 960.3h0M430.3 1047.8h0M472.1 1057.6h0M548.7 963.0h0M528.0 968.2h0M510.7 976.0h0M516.8 978.2h0M585.9 929.5h0M569.8 941.8h0M551.2 952.3h0M504.5 1028.5h0M493.7 1040.9h0M555.2 941.6h0M562.1 923.6h0M565.3 939.3h0M530.9 973.5h0M477.7 1075.0h0M381.2 1083.3h0M547.1 968.9h0M559.1 945.3h0M561.0 962.7h0M499.3 1030.6h0M536.4 971.4h0M511.2 993.4h0M480.5 1059.5h0M466.3 1071.9h0M390.7 1082.4h0M369.3 1086.5h0M522.8 982.2h0M528.8 978.2h0M601.7 917.6h0M454.4 1057.1h0M462.8 1063.0h0M388.9 1088.8h0M512.4 1006.3h0M486.7 1054.4h0M606.9 924.1h0M394.4 1073.1h0M483.2 1063.9h0M399.3 1069.1h0M403.8 1060.0h0M412.0 1054.3h0M582.3 919.6h0M503.3 1016.9h0M497.8 1050.7h0M548.8 976.4h0M506.1 1022.8h0M424.3 1054.2h0M594.4 933.1h0M433.5 1059.5h0M535.5 985.6h0M485.1 1069.4h0M406.8 1065.5h0M491.6 1058.0h0M487.4 1076.0h0M554.3 966.6h0M360.2 1093.7h0M428.1 1058.8h0M524.8 963.7h0M512.1 1022.6h0M415.1 1058.4h0M504.0 1051.0h0M471.4 1078.1h0M502.7 1044.7h0M490.7 1067.3h0M408.8 1058.8h0M465.0 1078.3h0M367.1 1093.2h0M460.1 1068.0h0M414.8 1067.2h0M390.2 1076.8h0M610.6 928.8h0M483.3 1045.6h0M383.7 1076.4h0M537.9 952.5h0M464.8 1086.6h0M500.9 1037.2h0M471.3 1067.9h0M560.6 950.2h0M492.8 1075.4h0M597.8 929.0h0M528.1 984.1h0M506.8 1037.1h0M586.7 939.7h0M361.5 1098.6h0M596.7 939.0h0M574.0 935.5h0M364.3 1104.4h0M437.9 1046.2h0M355.8 1100.9h0M431.5 1054.2h0M397.3 1079.9h0M494.2 1019.7h0M607.0 918.4h0M605.6 930.8h0M546.1 947.7h0M603.2 935.9h0M559.1 957.0h0M352.4 1105.1h0M610.8 939.0h0M484.1 1080.5h0M449.0 1059.1h0M595.5 944.7h0M523.5 1000.6h0M449.8 1064.3h0M566.1 959.2h0M424.9 1068.6h0M522.3 990.2h0M511.0 1028.0h0M513.6 1013.4h0M490.3 1081.4h0M455.4 1083.2h0M564.6 946.1h0M459.5 1079.3h0M476.8 1080.9h0M542.9 982.7h0M565.6 968.5h0M419.7 1069.2h0M569.4 950.8h0M519.1 995.2h0M454.8 1067.6h0M500.7 1056.5h0M575.4 942.1h0M374.1 1084.1h0M498.0 1064.5h0M604.5 945.3h0M516.5 1027.2h0M515.1 1032.5h0M576.2 929.2h0M519.8 1011.8h0M371.6 1095.8h0M397.8 1087.8h0M500.6 1072.5h0M377.1 1088.6h0M503.2 1064.6h0M483.2 1089.8h0M555.7 975.9h0M541.3 975.8h0M513.6 998.3h0M508.4 1044.5h0M610.4 948.7h0M603.9 950.8h0M403.8 1072.0h0M512.7 1050.1h0M528.2 1014.2h0M528.2 1008.2h0M430.5 1067.7h0M460.7 1073.1h0M372.2 1101.5h0M582.1 946.5h0M532.1 1018.2h0M500.4 1081.1h0M539.3 989.7h0M380.1 1098.2h0M506.2 1087.5h0M591.4 948.6h0M564.5 953.5h0M578.2 961.7h0M410.0 1077.7h0M359.8 1108.1h0M547.2 990.3h0M581.4 939.7h0M383.9 1090.0h0M574.4 948.3h0M442.9 1066.8h0M486.6 1096.2h0M515.8 1041.5h0M480.0 1085.6h0M506.5 1058.6h0M442.0 1061.5h0M525.8 1024.5h0M537.4 995.7h0M437.4 1074.2h0M512.1 1058.5h0M519.1 1059.2h0M477.0 1093.7h0M537.8 1014.8h0M561.5 981.2h0M386.0 1096.3h0M447.5 1072.6h0M518.6 1049.6h0M454.1 1088.4h0M478.5 1099.9h0M527.1 994.1h0M402.7 1083.2h0M385.9 1102.8h0M583.3 952.5h0M509.4 1068.7h0M567.6 979.2h0M597.8 953.6h0M447.7 1085.3h0M392.3 1100.2h0M493.3 1097.4h0M531.5 989.4h0M543.8 1019.1h0M490.7 1090.1h0M449.5 1094.1h0M498.2 1090.8h0M444.9 1080.5h0M560.5 987.4h0M528.7 1001.1h0M409.2 1070.3h0M403.1 1077.4h0M495.4 1069.5h0M415.4 1073.4h0M509.6 1063.0h0M338.5 1113.0h0M578.5 970.2h0M343.6 1119.5h0M469.6 1092.9h0M432.8 1079.4h0M515.8 983.4h0M562.1 975.6h0M589.0 963.4h0M447.6 1099.3h0M461.1 1095.0h0M542.1 970.7h0M421.2 1078.5h0M426.6 1075.0h0M539.1 1000.6h0M544.2 998.7h0M566.5 984.8h0M367.3 1099.3h0M438.7 1083.7h0M548.2 981.7h0M571.3 960.2h0M428.9 1083.8h0M585.5 958.8h0M394.2 1092.5h0M534.0 1006.0h0M571.2 969.8h0M592.5 958.8h0M495.5 1085.3h0M576.7 979.6h0M429.2 1091.7h0M456.0 1095.2h0M346.7 1105.5h0M471.3 1101.9h0M344.4 1113.6h0M517.1 1064.7h0M509.2 1083.1h0M465.0 1101.2h0M521.9 1035.4h0M433.8 1088.2h0M407.9 1083.8h0M441.3 1090.4h0M454.5 1075.8h0M338.3 1125.0h0M544.0 1027.9h0M478.0 1106.2h0M332.0 1117.7h0M422.4 1085.3h0M489.2 1103.9h0M534.6 1027.6h0M521.6 1027.8h0M351.0 1113.9h0M508.9 1053.9h0M537.5 1035.4h0M432.4 1072.5h0M459.5 1087.7h0M606.4 960.6h0M543.1 1033.1h0M447.9 1107.8h0M350.9 1120.2h0M451.0 1079.7h0M372.3 1110.3h0M436.7 1094.7h0M582.3 977.1h0M484.5 1101.5h0M612.0 954.3h0M574.4 984.8h0M344.3 1124.6h0M553.3 995.6h0M586.0 971.0h0M600.4 959.0h0M522.1 1042.5h0M559.5 1003.1h0M531.3 1033.0h0M444.3 1095.3h0M582.5 986.0h0M575.1 974.2h0M504.5 1092.4h0M542.4 1039.2h0M467.0 1107.0h0M513.7 1071.5h0M612.5 962.5h0M511.7 1095.3h0M565.0 993.4h0M482.2 1112.1h0M417.1 1082.5h0M412.4 1088.6h0M429.1 1098.0h0M402.8 1092.7h0M589.3 978.9h0M593.3 966.5h0M607.0 955.1h0M496.7 1104.7h0M451.3 1102.9h0M423.1 1102.7h0M423.5 1090.3h0M441.2 1101.2h0M433.7 1102.6h0M326.7 1124.6h0M544.5 1048.3h0M337.2 1132.4h0M516.1 1076.2h0M332.5 1123.7h0M550.5 1011.5h0M379.5 1104.2h0M513.8 1102.1h0M378.6 1117.3h0M538.2 1020.8h0M363.8 1112.9h0M527.3 1060.8h0M569.4 989.6h0M550.1 1054.6h0M387.0 1110.3h0M428.5 1110.0h0M441.5 1114.6h0M366.0 1121.7h0M422.2 1096.7h0M587.8 989.3h0M357.3 1113.0h0M361.1 1118.5h0M387.6 1118.2h0M393.3 1107.7h0M580.4 957.0h0M519.9 1088.5h0M561.2 997.9h0M595.1 978.3h0M407.4 1089.9h0M520.9 1072.2h0M571.4 998.4h0M548.6 1031.3h0M523.1 1055.6h0M330.3 1130.6h0M410.7 1099.9h0M395.6 1113.5h0M456.0 1113.2h0M526.1 1019.1h0M552.6 1025.5h0M485.2 1107.5h0M454.9 1120.4h0M418.4 1091.8h0M606.5 973.9h0M549.6 1001.2h0M534.5 1067.9h0M557.2 1007.7h0M537.0 1040.8h0M458.6 1106.0h0M422.4 1110.6h0M548.1 1040.1h0M581.1 997.7h0M555.8 1013.5h0M342.8 1133.4h0M556.7 1044.1h0M356.4 1122.8h0M492.4 1113.3h0M517.2 1098.3h0M526.1 1072.0h0M354.7 1130.0h0M513.2 1090.2h0M522.5 1064.9h0M417.7 1103.5h0M347.8 1130.9h0M587.8 983.8h0M401.3 1112.2h0M545.6 1014.2h0M473.0 1110.4h0M538.9 1046.4h0M325.1 1131.1h0M531.4 1051.2h0M317.8 1132.7h0M361.3 1134.6h0M523.5 1047.7h0M487.1 1114.8h0M539.1 1009.8h0M595.9 991.3h0M387.9 1125.0h0M406.3 1113.7h0M591.9 994.6h0M414.9 1108.8h0M435.0 1109.7h0M551.5 1017.0h0M564.1 1010.7h0M557.1 1018.9h0M576.4 991.0h0M398.6 1120.4h0M568.5 1007.8h0M401.6 1106.4h0M367.2 1108.9h0M599.7 1000.8h0M338.9 1140.1h0M506.6 1097.6h0M464.5 1115.6h0M438.9 1105.9h0M581.5 992.0h0M553.9 1037.5h0M532.0 1074.8h0M393.2 1119.3h0M588.2 1001.5h0M363.7 1126.3h0M534.3 1058.0h0M450.1 1117.0h0M556.3 1032.4h0M564.7 1002.4h0M394.1 1125.5h0M527.5 1066.9h0M542.8 1059.5h0M448.0 1122.3h0M414.6 1117.1h0M520.0 1079.7h0M368.1 1116.8h0M593.0 985.4h0M458.1 1100.4h0M331.4 1140.5h0M412.7 1127.1h0M407.3 1104.1h0M565.0 1025.0h0M553.5 1048.3h0M315.6 1123.2h0M350.2 1125.4h0M593.7 1001.4h0M481.9 1118.0h0M435.4 1122.3h0M428.7 1123.0h0M574.0 1012.3h0M373.9 1126.2h0M352.6 1138.1h0M347.7 1136.5h0M559.2 1025.4h0M603.2 980.5h0M541.2 1065.7h0M590.6 953.8h0M523.7 1104.3h0M496.5 1117.8h0M502.2 1110.0h0M507.9 1105.7h0M481.1 1123.9h0M510.7 1075.7h0M402.2 1125.4h0M462.7 1122.9h0M502.5 1104.5h0M452.7 1129.2h0M321.2 1123.7h0M326.8 1137.7h0M572.4 1020.4h0M380.2 1124.3h0M405.1 1133.8h0M469.8 1126.6h0M513.1 1108.3h0M404.3 1120.5h0M563.1 1049.1h0M324.1 1143.3h0M439.5 1127.9h0M528.9 1055.8h0M546.2 1069.0h0M562.6 1039.3h0M494.0 1122.9h0M407.5 1125.2h0M548.4 1006.6h0M428.9 1104.8h0M472.5 1131.6h0M453.3 1108.7h0M369.5 1134.1h0M475.7 1115.9h0M435.1 1131.7h0M596.2 1010.3h0M336.5 1145.3h0M378.7 1134.4h0M308.4 1134.6h0M592.5 972.8h0M469.7 1114.9h0M475.6 1136.6h0M397.5 1129.6h0M367.0 1148.3h0M475.6 1125.2h0M450.8 1141.3h0M387.8 1130.9h0M555.6 1061.7h0M578.1 1004.1h0M375.4 1139.1h0M584.1 1012.9h0M555.2 1067.3h0M507.6 1112.8h0M603.9 988.0h0M568.0 1038.3h0M355.4 1142.4h0M603.1 1004.7h0M598.8 984.5h0M500.9 1086.4h0M576.9 1017.3h0M566.8 1030.5h0M482.1 1130.4h0M367.3 1139.4h0M489.3 1120.0h0M567.6 1043.5h0M409.6 1119.0h0M409.6 1108.6h0M417.0 1122.1h0M565.0 1066.9h0M543.5 1053.6h0M525.2 1097.1h0M347.5 1143.5h0M606.8 996.6h0M579.9 1009.8h0M371.4 1143.6h0M467.2 1131.8h0M572.9 1026.3h0M569.1 1016.3h0M457.9 1133.7h0M296.3 1138.7h0M440.5 1122.4h0M501.8 1122.5h0M563.2 1060.7h0M459.5 1117.2h0M530.5 1088.6h0M440.5 1138.6h0M559.9 1069.6h0M532.9 1093.4h0M302.2 1148.5h0M607.5 983.6h0M343.3 1147.4h0M555.3 1056.5h0M428.6 1129.8h0M301.9 1130.6h0M589.8 1011.5h0M444.3 1129.8h0M532.2 1101.2h0M383.8 1135.5h0M531.0 1109.4h0M574.1 1037.0h0M582.9 1036.9h0M491.2 1128.2h0M308.2 1155.6h0M436.6 1146.0h0M457.3 1125.6h0M609.6 990.4h0M399.4 1135.8h0M312.3 1148.6h0M525.0 1091.3h0M500.7 1136.3h0M318.6 1156.1h0M531.8 1063.3h0M342.5 1154.1h0M470.5 1136.9h0M554.3 1075.7h0M431.2 1136.3h0M600.9 995.0h0M330.3 1146.0h0M294.3 1151.2h0M571.6 1061.7h0M586.2 995.4h0M392.8 1132.2h0M462.6 1129.4h0M592.0 1016.4h0M306.9 1129.6h0M586.6 1020.0h0M423.2 1115.8h0M566.1 1056.5h0M534.2 1117.1h0M382.6 1130.4h0M387.9 1139.3h0M446.0 1137.6h0M442.0 1146.4h0M297.7 1155.7h0M334.2 1154.7h0M380.3 1145.1h0M542.2 1075.7h0M610.8 969.7h0M388.0 1149.3h0M579.4 1029.6h0M321.5 1163.4h0M295.5 1160.4h0M376.2 1150.5h0M403.3 1141.4h0M536.6 1098.0h0M483.0 1135.7h0M392.6 1142.2h0M327.6 1155.9h0M593.4 1024.0h0M517.5 1119.2h0M431.1 1114.9h0M578.0 1065.5h0M570.9 1067.5h0M427.2 1142.1h0M607.6 1007.7h0M562.4 1033.6h0M604.0 1014.8h0M288.0 1142.3h0M352.8 1147.0h0M291.2 1155.7h0M453.8 1148.4h0M596.6 1019.2h0M599.0 1028.2h0M508.1 1128.6h0M573.9 1031.9h0M602.7 1036.7h0M525.0 1117.3h0M548.8 1073.8h0M565.0 1073.1h0M316.2 1164.3h0M533.9 1123.0h0M576.4 1075.4h0M430.6 1150.4h0M528.9 1122.0h0M419.0 1128.2h0M517.6 1127.5h0M604.9 1028.4h0M576.2 996.2h0M425.2 1147.7h0M303.8 1161.7h0M521.7 1122.8h0M424.2 1132.5h0M472.3 1143.5h0M539.8 1070.7h0M541.0 1111.1h0M377.9 1157.8h0M561.0 1076.9h0M483.6 1153.4h0M540.8 1092.2h0M527.5 1127.2h0M404.5 1147.8h0M527.4 1133.2h0M416.5 1136.0h0M371.9 1158.6h0M509.5 1135.0h0M475.3 1156.4h0M590.2 1036.9h0M313.7 1158.8h0M520.5 1138.6h0M459.7 1140.3h0M422.1 1154.9h0M432.9 1141.5h0M288.3 1164.5h0M463.8 1143.7h0M489.9 1145.7h0M381.2 1152.0h0M539.2 1118.3h0M464.4 1137.1h0M325.4 1150.5h0M420.0 1143.2h0M586.2 1032.2h0M446.7 1148.5h0M499.0 1149.4h0M336.1 1163.5h0M462.0 1109.8h0M582.7 1062.4h0M397.5 1150.2h0M570.9 1073.0h0M401.4 1156.8h0M346.1 1162.9h0M422.7 1137.5h0M458.9 1146.4h0M320.7 1148.2h0M416.8 1149.0h0M411.5 1153.5h0M580.5 1041.7h0M340.6 1159.5h0M442.6 1153.4h0M308.8 1163.6h0M466.4 1148.8h0M513.5 1131.3h0M424.6 1160.5h0M431.6 1155.6h0M411.2 1139.8h0M311.8 1172.2h0M342.0 1167.8h0M350.9 1158.9h0M604.0 1022.8h0M521.9 1132.5h0M447.1 1158.0h0M330.3 1160.7h0M437.3 1153.3h0M581.9 1074.5h0M570.8 1082.0h0M576.5 1060.0h0M451.8 1161.9h0M397.8 1141.5h0M357.6 1166.5h0M542.6 1122.7h0M536.8 1106.3h0M301.5 1174.1h0M592.1 1006.5h0M536.9 1131.2h0M350.5 1167.2h0M337.6 1170.8h0M542.6 1097.2h0M286.5 1157.9h0M576.9 1046.9h0M519.5 1146.2h0M454.6 1137.5h0M532.9 1139.5h0M504.4 1116.9h0M358.1 1150.0h0M460.3 1153.8h0M532.0 1129.6h0M349.8 1172.6h0M610.3 1021.3h0M473.5 1166.4h0M587.0 1041.4h0M551.2 1082.7h0M437.2 1158.9h0M558.7 1083.2h0M612.3 1015.4h0M538.1 1144.3h0M313.6 1180.2h0M412.4 1146.1h0M542.4 1139.3h0M488.6 1151.2h0M338.1 1176.9h0M431.9 1162.0h0M580.7 1050.9h0M564.0 1083.2h0M428.3 1165.6h0M328.9 1172.0h0M282.9 1144.0h0M317.5 1175.9h0M497.5 1112.2h0M591.7 1031.0h0M521.4 1155.2h0M515.1 1137.9h0M281.1 1164.7h0M286.6 1152.0h0M582.8 1068.7h0M396.5 1163.1h0M373.2 1172.3h0M375.6 1167.1h0M481.2 1159.3h0M611.2 1028.7h0M289.9 1147.7h0M546.6 1117.9h0M415.6 1158.4h0M527.0 1143.3h0M544.1 1105.0h0M541.9 1128.5h0M581.5 1056.9h0M332.6 1182.6h0M588.0 1025.5h0M321.4 1182.0h0M379.0 1180.2h0M297.3 1171.3h0M546.9 1112.8h0M588.2 1055.3h0M607.5 1048.1h0M353.6 1177.2h0M486.6 1162.7h0M556.4 1114.5h0M328.3 1186.9h0M596.5 1039.1h0M383.0 1163.9h0M307.6 1177.2h0M544.9 1133.4h0M342.5 1185.5h0M394.1 1137.2h0M584.9 1047.5h0M549.9 1123.6h0M436.4 1115.5h0M552.7 1119.0h0M417.5 1168.3h0M292.0 1179.7h0M291.3 1173.6h0M425.1 1170.8h0M405.4 1162.5h0M449.0 1153.2h0M476.6 1161.8h0M587.8 1064.3h0M296.9 1181.5h0M552.4 1102.2h0M389.4 1162.1h0M384.1 1176.1h0M549.8 1096.9h0M554.1 1088.0h0M575.8 1084.9h0M358.6 1175.3h0M558.7 1091.6h0M493.9 1149.8h0M365.2 1172.0h0M275.5 1148.8h0M505.0 1142.1h0M496.3 1143.7h0M580.2 1080.5h0M276.7 1154.0h0M591.3 1074.3h0M567.2 1078.3h0M557.5 1098.1h0M389.7 1156.8h0M381.6 1170.4h0M559.1 1104.1h0M301.4 1185.2h0M551.5 1131.3h0M268.1 1157.1h0M324.5 1169.4h0M492.6 1154.8h0M273.7 1169.9h0M552.7 1108.3h0M567.1 1087.5h0M300.5 1166.2h0M564.5 1096.5h0M561.6 1115.8h0M593.9 1064.1h0M574.2 1055.2h0M546.3 1145.5h0M281.1 1159.0h0M572.1 1092.5h0M419.3 1162.7h0M509.2 1157.1h0M343.3 1180.0h0M502.3 1154.6h0M318.5 1169.4h0M593.3 1049.4h0M598.3 1033.7h0M272.9 1160.6h0M594.9 1058.6h0M373.4 1178.8h0M595.0 1069.4h0M437.3 1176.2h0M552.3 1152.8h0M550.2 1138.2h0M523.6 1149.8h0M591.9 1044.0h0M284.0 1174.2h0M292.9 1167.4h0M284.8 1181.4h0M481.2 1167.6h0M599.2 1052.6h0M578.0 1089.8h0M389.5 1168.1h0M577.0 1098.8h0M526.7 1156.7h0M306.5 1183.7h0M603.5 1068.4h0M531.7 1155.5h0M300.8 1191.9h0M507.2 1151.5h0M567.8 1118.3h0M555.1 1147.4h0M414.1 1164.4h0M421.7 1177.4h0M468.0 1171.6h0M379.9 1188.2h0M591.9 1079.6h0M601.7 1073.7h0M599.8 1061.3h0M396.8 1174.2h0M275.6 1176.2h0M326.1 1193.8h0M390.4 1173.9h0M476.8 1171.9h0M560.3 1154.3h0M468.0 1166.5h0M583.6 1094.5h0M612.2 1072.6h0M606.4 1040.2h0M263.0 1162.5h0M483.3 1175.7h0M561.3 1149.0h0M551.8 1159.7h0M304.7 1200.8h0M606.2 1061.4h0M290.7 1186.2h0M409.2 1170.7h0M478.3 1181.2h0M598.3 1082.5h0M497.3 1157.4h0M556.6 1122.9h0M267.5 1182.2h0M587.7 1085.0h0M544.5 1161.5h0M611.0 1052.0h0M472.7 1175.4h0M360.8 1181.2h0M568.2 1102.1h0M536.9 1162.3h0M595.5 1086.8h0M513.1 1162.8h0M557.0 1161.2h0M530.6 1162.7h0M507.4 1162.6h0M563.9 1110.8h0M471.0 1160.4h0M427.5 1179.2h0M292.6 1196.1h0M429.5 1173.6h0M337.4 1188.6h0M385.9 1184.0h0M569.8 1110.5h0M403.7 1169.8h0M296.1 1176.3h0M559.4 1143.6h0M415.2 1176.4h0M455.9 1178.4h0M584.0 1105.7h0M516.6 1157.6h0M322.8 1175.9h0M301.1 1208.9h0M597.9 1092.1h0M307.8 1189.1h0M307.6 1196.2h0M368.5 1187.3h0M565.2 1144.0h0M255.0 1173.1h0M310.2 1202.0h0M520.6 1164.3h0M490.5 1169.8h0M282.2 1191.2h0M502.5 1160.4h0M564.0 1159.9h0M592.3 1097.7h0M463.4 1176.4h0M552.2 1168.5h0M569.5 1150.3h0M264.8 1152.8h0M402.7 1175.3h0M606.4 1077.4h0M586.9 1099.1h0M568.8 1155.7h0M596.9 1075.6h0M414.3 1184.5h0M280.3 1169.7h0M516.1 1173.3h0M468.8 1182.7h0M256.8 1179.3h0M398.4 1181.6h0M331.6 1177.5h0M406.4 1178.8h0M557.0 1138.6h0M366.9 1179.8h0M558.3 1128.8h0M351.9 1182.8h0M603.5 1091.1h0M267.0 1187.4h0M408.5 1189.6h0M297.3 1204.5h0M485.4 1186.9h0M306.2 1209.8h0M282.6 1197.1h0M356.7 1186.8h0M316.5 1195.8h0M304.8 1216.7h0M460.5 1185.1h0M317.7 1204.8h0M532.7 1145.1h0M588.4 1091.6h0M577.5 1119.1h0M408.6 1195.8h0M558.5 1167.9h0M416.1 1196.9h0M501.7 1168.2h0M508.4 1179.6h0M320.9 1187.4h0M267.6 1169.9h0M611.5 1067.1h0M297.3 1198.3h0M563.7 1131.1h0M497.5 1173.1h0M323.2 1198.8h0M258.5 1190.1h0M434.2 1170.8h0M462.8 1192.2h0M261.7 1175.1h0M563.5 1137.6h0M585.4 1079.3h0M493.7 1162.3h0M348.5 1178.2h0M578.6 1113.3h0M362.6 1189.9h0M343.0 1193.3h0M583.8 1088.8h0M536.8 1168.5h0M598.3 1097.6h0M547.2 1166.4h0M341.1 1202.8h0M312.6 1207.0h0M310.9 1222.8h0M574.0 1147.5h0M267.6 1176.8h0M327.3 1202.2h0M551.4 1174.8h0M348.8 1192.0h0M604.9 1085.2h0M391.5 1196.3h0M390.0 1187.0h0M374.1 1185.1h0M585.0 1124.1h0M358.6 1197.6h0M345.1 1208.6h0M354.5 1202.6h0M488.8 1176.2h0M502.5 1174.2h0M593.6 1116.6h0M481.0 1190.4h0M602.5 1103.1h0M450.8 1185.0h0M396.3 1190.6h0M420.5 1185.5h0M513.0 1184.4h0M564.4 1125.4h0M495.6 1167.9h0M558.0 1109.5h0M326.5 1181.5h0M404.4 1184.2h0M461.6 1171.4h0M323.6 1210.1h0M380.9 1203.0h0M522.8 1171.0h0M269.3 1196.0h0M328.0 1217.7h0M421.9 1192.6h0M609.2 1089.3h0M472.7 1186.1h0M352.7 1197.5h0M478.5 1196.8h0M271.2 1190.3h0M310.5 1217.0h0M427.0 1184.5h0M601.3 1109.3h0M487.0 1196.8h0M318.1 1215.3h0M519.5 1181.2h0M445.5 1193.2h0M593.9 1122.7h0M346.8 1201.1h0M467.7 1193.6h0M522.8 1176.2h0M502.3 1180.2h0M320.8 1192.7h0M572.5 1136.9h0M430.2 1194.9h0M397.2 1196.7h0M508.3 1173.2h0M496.1 1195.5h0M277.0 1199.1h0M331.9 1214.3h0M380.4 1209.0h0M570.3 1124.1h0M473.0 1195.5h0M372.6 1210.2h0M578.3 1143.6h0M590.0 1104.1h0M413.9 1190.0h0M575.7 1125.4h0M259.2 1200.1h0M260.3 1183.2h0M601.2 1119.3h0M284.1 1203.0h0M512.8 1168.4h0M597.3 1127.1h0M279.2 1207.4h0M497.6 1184.8h0M507.4 1186.3h0M401.3 1189.1h0M588.7 1111.8h0M295.3 1210.2h0M575.1 1104.0h0M513.5 1178.8h0M457.5 1192.8h0M263.4 1206.2h0M339.6 1197.1h0M288.3 1191.2h0M299.5 1213.9h0M575.3 1131.1h0M311.8 1193.1h0M586.6 1118.0h0M287.6 1198.1h0M333.0 1191.6h0M273.1 1180.9h0M337.8 1212.5h0M571.3 1097.7h0M250.1 1180.9h0M320.0 1221.1h0M526.7 1181.2h0M340.8 1216.7h0M533.6 1180.7h0M510.2 1191.9h0M522.1 1188.6h0M253.5 1185.5h0M266.5 1201.5h0M335.1 1199.5h0M252.5 1206.4h0M444.6 1203.2h0M489.7 1190.4h0M436.7 1192.7h0M460.3 1199.8h0M478.9 1202.6h0M538.9 1178.0h0M394.6 1202.9h0M501.8 1190.2h0M524.4 1195.3h0M402.9 1195.5h0M611.0 1117.8h0M533.7 1175.3h0M532.8 1189.1h0M250.8 1200.7h0M495.6 1179.0h0M451.0 1209.0h0M253.3 1213.3h0M580.2 1134.4h0M465.6 1207.6h0M264.1 1193.1h0M602.8 1126.8h0M244.0 1198.5h0M505.4 1195.2h0M269.8 1164.7h0M427.1 1199.4h0M283.4 1211.5h0M312.1 1228.5h0M388.7 1206.5h0M317.6 1228.9h0M276.8 1193.2h0M246.0 1208.5h0M590.0 1131.9h0M271.8 1204.1h0M568.7 1130.0h0M406.0 1204.4h0M529.5 1193.7h0M519.3 1196.3h0M278.4 1215.1h0M528.5 1169.8h0M513.7 1197.9h0M356.8 1192.1h0M475.0 1190.7h0M454.0 1196.6h0M301.7 1221.4h0M289.4 1209.7h0M395.7 1213.8h0M538.2 1183.6h0M333.7 1221.5h0M456.9 1216.8h0M293.6 1217.7h0M450.9 1190.6h0M328.8 1227.2h0M463.6 1219.6h0M553.1 1142.6h0M449.3 1214.9h0M381.7 1216.3h0M239.6 1194.2h0M544.1 1177.1h0M609.6 1107.0h0M507.0 1200.5h0M412.3 1202.7h0M282.6 1218.8h0M524.6 1202.1h0M547.9 1181.0h0M387.5 1216.0h0M358.1 1219.3h0M298.1 1228.0h0M329.3 1208.0h0M265.1 1213.2h0M609.4 1101.0h0M324.5 1232.9h0M503.6 1147.0h0M516.0 1190.0h0M484.3 1203.0h0M268.0 1208.4h0M398.7 1208.0h0M465.4 1187.2h0M484.8 1180.8h0M259.9 1215.2h0M239.7 1201.9h0M605.4 1096.1h0M583.0 1129.0h0M285.1 1186.6h0M269.2 1217.5h0M454.2 1224.4h0M610.6 1095.7h0M515.5 1203.0h0M485.1 1208.4h0M265.6 1222.9h0M404.0 1213.2h0M570.2 1142.0h0M323.8 1224.7h0M354.3 1223.3h0M445.9 1211.1h0M330.0 1197.1h0M460.4 1210.8h0M249.1 1221.9h0M247.2 1214.5h0M240.7 1186.2h0M289.5 1222.5h0M590.1 1126.4h0M420.7 1205.2h0M468.4 1215.7h0M316.6 1234.5h0M258.1 1207.7h0M454.3 1203.4h0M337.1 1238.4h0M386.0 1211.1h0M478.9 1208.1h0M385.1 1225.2h0M430.9 1203.6h0M429.8 1208.9h0M446.8 1198.2h0M241.2 1219.3h0M393.0 1220.3h0M438.3 1207.3h0M365.1 1222.1h0M352.1 1230.2h0M277.2 1226.5h0M459.9 1205.7h0M256.8 1225.3h0M380.4 1222.1h0M445.8 1219.4h0M445.4 1226.5h0M383.0 1235.1h0M472.7 1204.3h0M400.5 1220.3h0M236.9 1222.3h0M370.5 1228.8h0M582.6 1139.1h0M419.7 1211.8h0M432.7 1217.4h0M438.0 1212.5h0M369.8 1218.9h0M272.8 1230.8h0M231.7 1217.1h0M233.4 1228.9h0M340.5 1234.5h0M223.8 1217.2h0M258.9 1230.5h0M451.0 1229.1h0M239.0 1231.6h0M425.3 1212.7h0M446.3 1188.0h0M441.3 1223.2h0M306.0 1225.3h0M362.3 1232.6h0M416.2 1217.7h0M230.6 1193.5h0M468.4 1224.3h0M423.0 1218.0h0M479.3 1217.7h0M367.6 1212.7h0M435.6 1222.3h0M243.2 1224.6h0M234.9 1196.8h0M304.5 1233.9h0M244.9 1232.7h0M251.4 1229.7h0M508.3 1205.9h0M440.5 1231.2h0M282.8 1227.1h0M603.3 1114.1h0M439.0 1218.3h0M271.8 1223.9h0M473.8 1212.1h0M283.0 1233.1h0M431.5 1234.9h0M455.2 1187.8h0M473.4 1218.5h0M331.6 1245.4h0M388.0 1239.9h0M347.3 1245.7h0M250.5 1237.4h0M288.9 1229.7h0M486.8 1215.7h0M294.7 1223.1h0M512.1 1212.3h0M490.5 1204.0h0M378.8 1227.3h0M228.9 1208.5h0M255.2 1218.5h0M353.2 1241.6h0M218.8 1209.6h0M489.4 1221.7h0M336.9 1245.2h0M428.4 1230.5h0M376.8 1239.6h0M255.6 1241.3h0M292.5 1235.5h0M363.0 1240.4h0M432.3 1226.9h0M458.9 1227.1h0M493.5 1210.5h0M309.7 1236.4h0M420.2 1225.1h0M375.2 1221.5h0M230.3 1224.6h0M413.0 1213.6h0M430.3 1221.9h0M266.3 1228.4h0M240.9 1208.6h0M279.3 1241.8h0M287.7 1238.7h0M357.6 1249.7h0M544.6 1185.2h0M226.8 1232.2h0M244.9 1239.7h0M369.3 1235.3h0M342.6 1241.8h0M459.3 1233.2h0M231.9 1235.5h0M236.3 1205.9h0M396.5 1228.2h0M606.1 1122.6h0M407.8 1221.9h0M250.8 1248.7h0M257.7 1235.9h0M314.5 1239.2h0M367.9 1242.5h0M426.8 1242.1h0M340.2 1250.6h0M263.5 1234.9h0M222.5 1199.4h0M390.5 1228.6h0M352.0 1249.8h0M465.8 1229.0h0M498.4 1200.7h0M277.9 1221.2h0M302.3 1242.3h0M227.8 1198.0h0M236.2 1188.6h0M240.6 1248.5h0M356.5 1235.4h0M224.3 1211.2h0M212.4 1214.9h0M425.8 1224.6h0M274.4 1245.3h0M270.8 1240.0h0M382.8 1241.8h0M443.5 1236.1h0M493.8 1226.3h0M261.9 1244.7h0M330.9 1252.2h0M358.2 1242.9h0M215.9 1201.0h0M500.0 1218.4h0M423.1 1237.9h0M487.1 1228.7h0M346.3 1233.8h0M483.5 1221.9h0M393.4 1235.9h0M216.2 1223.0h0M467.2 1235.7h0M495.8 1205.8h0M508.0 1217.0h0M417.1 1234.7h0M499.4 1210.4h0M260.5 1220.8h0M362.7 1250.6h0M414.4 1240.2h0M375.0 1246.8h0M404.5 1229.5h0M223.2 1205.4h0M411.3 1225.7h0M213.3 1205.5h0M222.0 1236.6h0M225.0 1223.0h0M480.0 1227.4h0M494.4 1217.5h0M230.3 1203.4h0M254.7 1257.4h0M438.5 1237.3h0M448.5 1237.9h0M359.5 1257.3h0M389.0 1246.8h0M372.2 1251.1h0M339.7 1260.5h0M263.1 1257.5h0M213.1 1230.6h0M501.5 1205.8h0M263.3 1264.1h0M317.4 1255.0h0M293.9 1243.6h0M473.8 1224.3h0M252.9 1263.3h0M257.1 1248.7h0M459.8 1241.6h0M239.4 1240.0h0M207.2 1234.5h0M453.3 1244.2h0M216.6 1235.6h0M482.2 1236.5h0M383.0 1248.7h0M208.0 1211.5h0M352.2 1256.4h0M504.7 1210.2h0M211.8 1238.5h0M358.0 1229.7h0M299.4 1248.9h0M469.5 1240.8h0M218.7 1216.1h0M231.4 1240.7h0M223.7 1241.8h0M400.8 1237.3h0M199.5 1207.9h0M409.1 1237.7h0M294.9 1257.4h0M222.3 1249.2h0M245.0 1255.7h0M473.8 1235.1h0M247.6 1244.6h0M302.5 1254.6h0M272.2 1255.6h0M322.1 1258.1h0M443.6 1244.1h0M455.9 1251.0h0M218.7 1243.9h0M335.4 1255.7h0M287.0 1250.3h0M299.4 1264.1h0M233.5 1211.2h0M271.2 1265.1h0M394.7 1253.2h0M218.3 1256.4h0M386.5 1255.7h0M310.2 1261.7h0M345.1 1252.5h0M264.9 1272.2h0M422.0 1252.3h0M210.7 1246.2h0M278.9 1252.3h0M332.0 1262.2h0M202.6 1225.5h0M209.1 1226.4h0M267.6 1260.8h0M449.6 1252.4h0M444.9 1261.3h0M227.4 1253.4h0M376.8 1255.2h0M326.6 1260.9h0M402.2 1254.8h0M407.0 1242.8h0M209.7 1253.0h0M201.6 1230.9h0M385.7 1265.3h0M309.1 1245.1h0M285.9 1257.2h0M228.8 1260.7h0M235.6 1253.0h0M210.2 1219.8h0M461.9 1246.9h0M297.4 1236.9h0M280.2 1246.9h0M204.9 1243.3h0M311.4 1270.4h0M340.7 1265.6h0M239.8 1263.0h0M434.5 1246.0h0M295.5 1267.4h0M371.3 1260.6h0M305.0 1259.5h0M323.4 1252.5h0M414.8 1253.3h0M345.1 1259.2h0M364.6 1256.0h0M336.0 1268.8h0M233.2 1266.5h0M443.2 1250.1h0M200.3 1219.5h0M193.1 1214.0h0M357.2 1264.3h0M384.9 1272.2h0M258.4 1262.2h0M249.5 1258.5h0M451.0 1258.6h0M447.9 1247.6h0M240.0 1270.6h0M248.1 1273.0h0M415.6 1247.7h0M212.4 1257.6h0M384.2 1260.4h0M427.2 1255.9h0M392.0 1273.1h0M302.5 1268.9h0M236.4 1275.3h0M419.8 1262.2h0M200.4 1237.6h0M345.8 1270.6h0M426.6 1249.8h0M202.7 1248.3h0M395.2 1267.5h0M380.4 1268.1h0M395.6 1258.3h0M408.9 1251.1h0M292.8 1250.4h0M260.3 1268.6h0M225.8 1266.6h0M254.9 1268.9h0M322.1 1268.3h0M396.6 1244.0h0M378.5 1275.8h0M378.3 1261.9h0M404.7 1259.9h0M220.8 1264.3h0M230.1 1273.5h0M401.2 1249.0h0M410.9 1256.8h0M278.6 1258.4h0M425.7 1260.9h0M198.4 1213.6h0M224.0 1274.0h0M427.9 1266.3h0M408.9 1265.2h0M333.2 1275.1h0M187.4 1217.3h0M255.1 1277.3h0M236.0 1258.3h0M193.0 1219.8h0M212.1 1263.1h0M250.0 1282.9h0M329.1 1271.9h0M357.2 1270.0h0M350.8 1269.1h0M180.8 1219.6h0M388.4 1234.6h0M289.0 1270.7h0M241.9 1277.4h0M317.0 1268.5h0M193.6 1225.8h0M433.8 1254.2h0M194.2 1232.6h0M187.4 1226.5h0M364.1 1268.7h0M292.0 1263.6h0M357.9 1276.3h0M390.2 1259.5h0M365.8 1277.8h0M303.2 1278.2h0M438.1 1250.5h0M245.1 1268.8h0M421.0 1268.2h0M399.9 1263.1h0M352.4 1277.4h0M320.8 1274.3h0M210.8 1268.7h0M444.9 1255.3h0M286.2 1264.0h0M307.3 1273.9h0M277.7 1266.7h0M173.9 1226.6h0M206.3 1258.2h0M327.6 1266.8h0M178.8 1233.5h0M346.2 1264.9h0M296.1 1273.5h0M280.8 1273.3h0M498.3 1223.3h0M367.8 1265.0h0M374.5 1285.1h0M245.3 1290.0h0M326.3 1281.5h0M217.4 1276.5h0M434.9 1259.7h0M404.0 1267.7h0M334.1 1283.6h0M261.3 1276.0h0M200.3 1256.5h0M286.3 1276.6h0M307.7 1266.6h0M167.7 1231.8h0M294.2 1278.2h0M387.1 1278.0h0M315.2 1275.3h0M172.0 1234.8h0M271.0 1274.6h0M383.6 1283.3h0M194.0 1241.4h0M368.3 1272.2h0M426.7 1272.5h0M233.0 1283.3h0M433.6 1267.3h0M240.0 1284.1h0M255.8 1288.3h0M206.0 1263.8h0M227.8 1281.5h0M389.3 1288.6h0M287.4 1284.3h0M311.7 1279.6h0M316.0 1286.3h0M394.6 1280.9h0M276.2 1281.8h0M336.8 1291.2h0M400.1 1273.1h0M414.2 1263.6h0M368.1 1283.8h0M300.6 1283.6h0M198.1 1245.8h0M329.5 1291.8h0M340.5 1275.6h0M292.8 1286.7h0M260.4 1283.4h0M375.6 1291.0h0M332.6 1296.9h0M341.8 1285.2h0M252.2 1293.5h0M187.9 1242.0h0M405.9 1272.8h0M309.5 1286.0h0M414.8 1270.9h0M154.6 1231.9h0M222.0 1281.9h0M318.2 1281.2h0M349.4 1285.0h0M183.6 1237.5h0M268.0 1281.4h0M350.8 1294.3h0M239.2 1296.3h0M282.0 1279.7h0M275.3 1291.0h0M255.9 1302.7h0M418.7 1257.0h0M272.3 1286.2h0M157.5 1238.1h0M378.6 1281.5h0M176.3 1242.9h0M402.2 1280.6h0M267.7 1289.4h0M282.1 1290.2h0M265.5 1303.8h0M183.9 1246.5h0M148.0 1236.9h0M286.6 1297.7h0M206.3 1272.0h0M280.0 1295.0h0M321.6 1289.7h0M422.4 1276.9h0M275.7 1271.9h0M192.5 1249.1h0M355.2 1286.6h0M162.7 1240.2h0M350.9 1299.6h0M176.7 1248.9h0M351.3 1262.8h0M316.1 1292.1h0M359.9 1292.3h0M417.2 1276.1h0M366.1 1289.8h0M413.2 1281.0h0M150.7 1241.7h0M190.5 1236.8h0M204.0 1279.5h0M259.1 1297.1h0M163.1 1235.0h0M171.3 1248.9h0M394.7 1289.4h0M303.6 1289.2h0M392.6 1294.9h0M167.7 1241.8h0M155.0 1249.8h0M197.2 1284.0h0M340.2 1296.4h0M201.8 1267.9h0M219.0 1290.8h0M272.6 1302.7h0M440.0 1258.7h0M364.4 1298.0h0M184.0 1255.6h0M309.1 1291.3h0M398.7 1284.5h0M146.1 1250.5h0M298.3 1291.1h0M188.5 1278.8h0M191.4 1260.1h0M343.4 1300.7h0M209.2 1277.6h0M336.9 1302.1h0M142.9 1241.9h0M370.8 1298.4h0M183.3 1264.5h0M281.7 1304.7h0M178.0 1269.6h0M156.6 1244.1h0M197.5 1272.9h0M329.9 1304.0h0M303.7 1298.0h0M280.7 1285.1h0M216.4 1283.3h0M264.8 1312.0h0M319.8 1297.7h0M335.8 1312.2h0M338.3 1307.2h0M343.5 1307.5h0M410.9 1274.4h0M360.1 1301.9h0M136.3 1239.0h0M287.3 1291.2h0M211.0 1284.4h0M175.7 1254.9h0M169.6 1255.0h0M129.4 1242.3h0M291.7 1301.1h0M305.2 1306.6h0M170.0 1263.9h0M324.8 1302.5h0M407.4 1278.7h0M134.1 1245.5h0M175.9 1263.5h0M242.8 1305.6h0M189.3 1253.4h0M248.3 1308.2h0M189.9 1268.0h0M139.9 1246.3h0M205.5 1286.9h0M192.6 1274.6h0M314.1 1308.6h0M367.5 1304.1h0M327.6 1309.8h0M325.8 1275.8h0M240.0 1315.0h0M266.1 1297.3h0M164.2 1246.4h0M355.4 1304.9h0M151.6 1256.7h0M319.2 1306.2h0M236.8 1304.2h0M162.2 1252.0h0M329.6 1318.6h0M361.2 1308.9h0M128.6 1248.5h0M325.1 1324.6h0M407.8 1286.1h0M337.8 1317.6h0M380.9 1291.5h0M303.8 1312.0h0M183.1 1273.1h0M211.5 1290.8h0M324.9 1295.8h0M194.9 1266.8h0M386.8 1299.4h0M247.5 1278.3h0M349.6 1313.3h0M342.6 1314.9h0M404.0 1290.1h0M166.8 1272.9h0M320.8 1315.1h0M231.6 1295.6h0M375.9 1302.3h0M261.0 1306.9h0M281.6 1314.0h0M223.2 1297.4h0M247.6 1315.6h0M160.8 1257.9h0M197.4 1251.0h0M179.7 1259.4h0M381.5 1301.1h0M276.1 1314.9h0M232.8 1311.6h0M397.7 1293.7h0M198.7 1262.9h0M199.5 1293.3h0M189.3 1284.3h0M124.8 1251.9h0M174.0 1273.0h0M354.6 1312.7h0M206.2 1294.3h0M216.7 1298.7h0M387.3 1293.5h0M133.7 1253.8h0M270.4 1317.1h0M348.9 1307.0h0M195.0 1289.7h0M207.3 1301.8h0M277.7 1322.3h0M249.9 1327.6h0M202.2 1299.4h0M253.0 1310.8h0M312.6 1313.9h0M189.3 1293.9h0M181.1 1279.8h0M139.0 1252.5h0M315.5 1318.4h0M271.3 1323.1h0M298.5 1311.5h0M187.5 1289.1h0M169.9 1278.3h0M371.9 1307.9h0M195.1 1279.1h0M149.6 1266.2h0M125.9 1258.1h0M265.9 1321.5h0M182.6 1294.1h0M307.1 1320.6h0M166.2 1260.0h0M211.3 1296.8h0M219.5 1307.6h0M328.2 1286.7h0M271.4 1328.6h0M207.7 1307.5h0M225.0 1311.2h0M144.0 1267.3h0M133.8 1261.1h0M128.4 1263.5h0M287.3 1312.7h0M158.0 1270.6h0M196.5 1298.2h0M244.0 1311.5h0M214.0 1305.9h0M332.3 1325.4h0M136.2 1272.2h0M293.0 1291.8h0M203.5 1312.2h0M155.8 1259.9h0M238.8 1309.2h0M356.0 1318.4h0M224.5 1316.8h0M321.7 1320.3h0M145.2 1259.9h0M196.4 1314.3h0M178.7 1285.4h0M138.8 1257.7h0M283.7 1319.7h0M226.8 1301.6h0M157.5 1264.9h0M188.0 1311.9h0M293.5 1312.6h0M121.2 1264.7h0M139.1 1264.4h0M376.0 1296.2h0M343.5 1325.2h0M214.5 1311.3h0M438.4 1263.6h0M208.0 1315.0h0M363.4 1313.6h0M334.0 1332.1h0M177.1 1293.7h0M298.2 1323.8h0M351.1 1320.2h0M178.1 1299.0h0M308.2 1326.9h0M317.8 1323.8h0M255.5 1326.3h0M260.8 1327.0h0M224.2 1323.4h0M264.8 1330.8h0M343.0 1320.2h0M312.9 1303.5h0M174.7 1289.2h0M163.0 1279.3h0M218.2 1316.9h0M317.8 1329.8h0M185.9 1300.1h0M229.1 1320.5h0M180.9 1305.9h0M115.4 1266.7h0M361.8 1318.8h0M147.5 1279.0h0M369.5 1312.7h0M298.4 1317.6h0M170.9 1302.6h0M324.2 1332.5h0M162.5 1284.7h0M303.4 1329.4h0M123.6 1245.1h0M287.1 1327.9h0M150.5 1271.8h0M212.8 1318.7h0M120.4 1249.2h0M142.6 1287.9h0M277.0 1336.1h0M164.8 1289.4h0M134.8 1291.9h0M271.4 1335.7h0M207.4 1323.6h0M119.8 1255.6h0M354.2 1324.4h0M215.1 1324.3h0M113.8 1245.2h0M262.0 1335.4h0M283.3 1335.2h0M292.0 1330.2h0M337.4 1324.6h0M203.0 1305.6h0M244.5 1327.6h0M167.8 1295.0h0M300.9 1335.2h0M235.2 1316.9h0M278.6 1343.0h0M151.2 1283.2h0M114.0 1255.6h0M339.2 1331.0h0M158.3 1298.8h0M286.6 1349.3h0M290.7 1335.7h0M249.0 1334.4h0M308.3 1334.5h0M127.3 1271.5h0M295.8 1334.6h0M177.2 1309.6h0M153.7 1278.6h0M200.9 1319.1h0M242.8 1334.0h0M294.6 1352.1h0M289.1 1356.9h0M328.8 1329.3h0M128.6 1277.4h0M181.6 1313.1h0M138.8 1296.8h0M121.8 1277.3h0M154.2 1292.9h0M135.2 1282.7h0M156.3 1285.0h0M132.0 1268.5h0M121.7 1270.2h0M116.8 1272.5h0M186.3 1306.5h0M200.5 1288.2h0M159.6 1291.5h0M171.7 1310.2h0M323.7 1337.7h0M293.0 1340.9h0M296.4 1346.1h0M205.6 1333.2h0M287.0 1343.7h0M317.6 1335.2h0M301.9 1350.0h0M256.7 1333.0h0M149.1 1288.8h0M300.3 1340.3h0M292.4 1361.2h0M153.0 1298.9h0M165.0 1302.2h0M116.2 1260.9h0M315.6 1344.1h0M233.4 1329.0h0M119.7 1283.1h0M222.6 1333.5h0M264.8 1344.3h0M327.1 1342.8h0M306.9 1352.0h0M125.9 1293.6h0M307.1 1341.8h0M227.6 1331.6h0M303.3 1356.5h0M194.9 1255.5h0M147.8 1295.5h0M147.2 1245.5h0M140.6 1302.6h0M273.9 1340.8h0M113.5 1280.4h0M161.5 1306.1h0M218.1 1341.2h0M159.2 1275.7h0M172.8 1296.6h0M159.1 1310.8h0M311.6 1348.0h0M174.5 1316.1h0M165.1 1318.5h0M133.0 1307.7h0M257.0 1340.0h0M270.8 1348.2h0M245.6 1340.7h0M141.4 1308.6h0M269.6 1354.2h0M185.3 1317.7h0M153.7 1304.5h0M195.3 1322.8h0M147.8 1304.8h0M133.0 1302.3h0M170.4 1323.3h0M268.7 1340.1h0M128.9 1298.6h0M155.5 1318.5h0M188.4 1322.9h0M321.8 1345.1h0M240.2 1339.4h0M148.5 1317.8h0M146.3 1311.6h0M223.5 1341.6h0M296.4 1357.6h0M124.1 1303.4h0M152.5 1311.3h0M167.3 1282.7h0M142.9 1318.3h0M262.5 1350.5h0M233.9 1338.3h0M201.8 1324.6h0M281.4 1349.1h0M118.1 1288.1h0M129.8 1288.7h0M137.5 1321.7h0M134.5 1277.0h0M247.1 1345.8h0M238.9 1328.6h0M227.5 1337.0h0M115.9 1307.8h0M281.1 1360.7h0M213.1 1336.8h0M231.0 1342.8h0M180.7 1321.7h0M138.7 1313.6h0M223.9 1350.8h0M116.2 1294.6h0M283.0 1355.7h0M207.6 1343.9h0M203.0 1337.8h0M278.1 1353.7h0M127.1 1282.6h0M157.2 1323.7h0M151.5 1326.0h0M119.8 1300.7h0M228.7 1355.0h0M170.4 1269.0h0M210.0 1351.4h0M160.3 1331.1h0M251.2 1340.7h0M113.8 1302.8h0M166.0 1333.4h0M132.5 1316.7h0M131.3 1325.9h0M237.0 1352.4h0M140.8 1326.7h0M254.6 1355.5h0M239.9 1356.7h0M145.8 1323.8h0M244.5 1360.5h0M177.2 1337.9h0M255.4 1345.3h0M245.9 1354.7h0M232.4 1359.0h0M121.1 1313.0h0M218.3 1350.8h0M186.7 1338.1h0M252.2 1361.3h0M182.5 1341.9h0M200.2 1344.5h0M145.0 1330.9h0M204.3 1352.2h0M124.6 1287.8h0M193.4 1337.0h0M137.0 1330.2h0M233.6 1364.5h0M241.5 1364.7h0M261.6 1357.4h0M261.0 1363.5h0M171.6 1344.4h0M237.2 1334.0h0M180.6 1332.9h0M177.3 1352.4h0M224.6 1359.9h0M195.2 1342.8h0M196.2 1349.9h0M187.8 1345.7h0M179.5 1346.7h0M175.5 1322.5h0M220.0 1356.2h0M124.8 1325.9h0M127.5 1320.1h0M154.6 1330.3h0M183.1 1353.0h0M143.5 1336.4h0M166.3 1341.3h0M216.8 1360.8h0M171.8 1360.5h0M116.7 1315.8h0M161.5 1337.7h0M126.4 1330.7h0M149.4 1335.5h0M121.8 1320.8h0M249.8 1351.3h0M184.7 1361.4h0M211.4 1361.0h0M128.6 1337.4h0M274.9 1358.1h0M122.4 1334.6h0M158.2 1344.9h0M214.1 1355.5h0M117.6 1327.5h0M117.6 1339.8h0M127.9 1307.9h0M161.0 1351.2h0M203.9 1360.6h0M161.0 1357.4h0M176.7 1362.3h0M155.6 1354.2h0M138.0 1336.1h0M146.7 1340.9h0M113.5 1334.8h0M123.3 1341.3h0M151.5 1346.5h0M197.8 1361.4h0M149.9 1362.5h0M195.7 1356.4h0M127.2 1346.6h0M144.0 1347.1h0M132.4 1343.3h0M150.9 1351.9h0M138.9 1341.1h0M172.1 1338.4h0M116.7 1322.1h0M166.2 1346.9h0M114.5 1348.6h0M146.3 1355.0h0M137.4 1346.7h0M141.1 1352.2h0M128.5 1351.9h0M156.0 1360.4h0M131.6 1358.5h0M132.9 1334.1h0M137.1 1360.0h0M121.6 1346.8h0M135.0 1352.9h0M208.1 1356.6h0M125.0 1357.5h0M143.7 1359.5h0M201.0 1356.3h0M117.7 1361.5h0M116.0 1353.7h0M123.3 1352.6h0" stroke="#1170bc"/></g>
<rect x="85.3" y="209.4" width="563" height="1174.3" fill="none" stroke="#231f20" stroke-width="1.9"/>
<circle cx="685.6" cy="671.0" r="15.6" fill="#1f77b4"/><text x="706.1" y="678.8" font-size="31.0">CC1</text><circle cx="685.6" cy="713.6" r="15.6" fill="#f47f20"/><text x="706.1" y="721.4" font-size="31.0">CC2</text><circle cx="685.6" cy="756.0" r="15.6" fill="#279e68"/><text x="706.1" y="763.8" font-size="31.0">CC3</text><circle cx="685.6" cy="798.5" r="15.6" fill="#d62728"/><text x="706.1" y="806.3" font-size="31.0">CC4</text><circle cx="685.6" cy="841.0" r="15.6" fill="#845aa8"/><text x="706.1" y="848.8" font-size="31.0">CC5</text>
<text x="290" y="1431.8" font-size="37.6">Spatial x</text>
<text transform="translate(58.7,865.4) rotate(-90)" font-size="37.6">Spatial y</text>
</svg>
</body></html>
